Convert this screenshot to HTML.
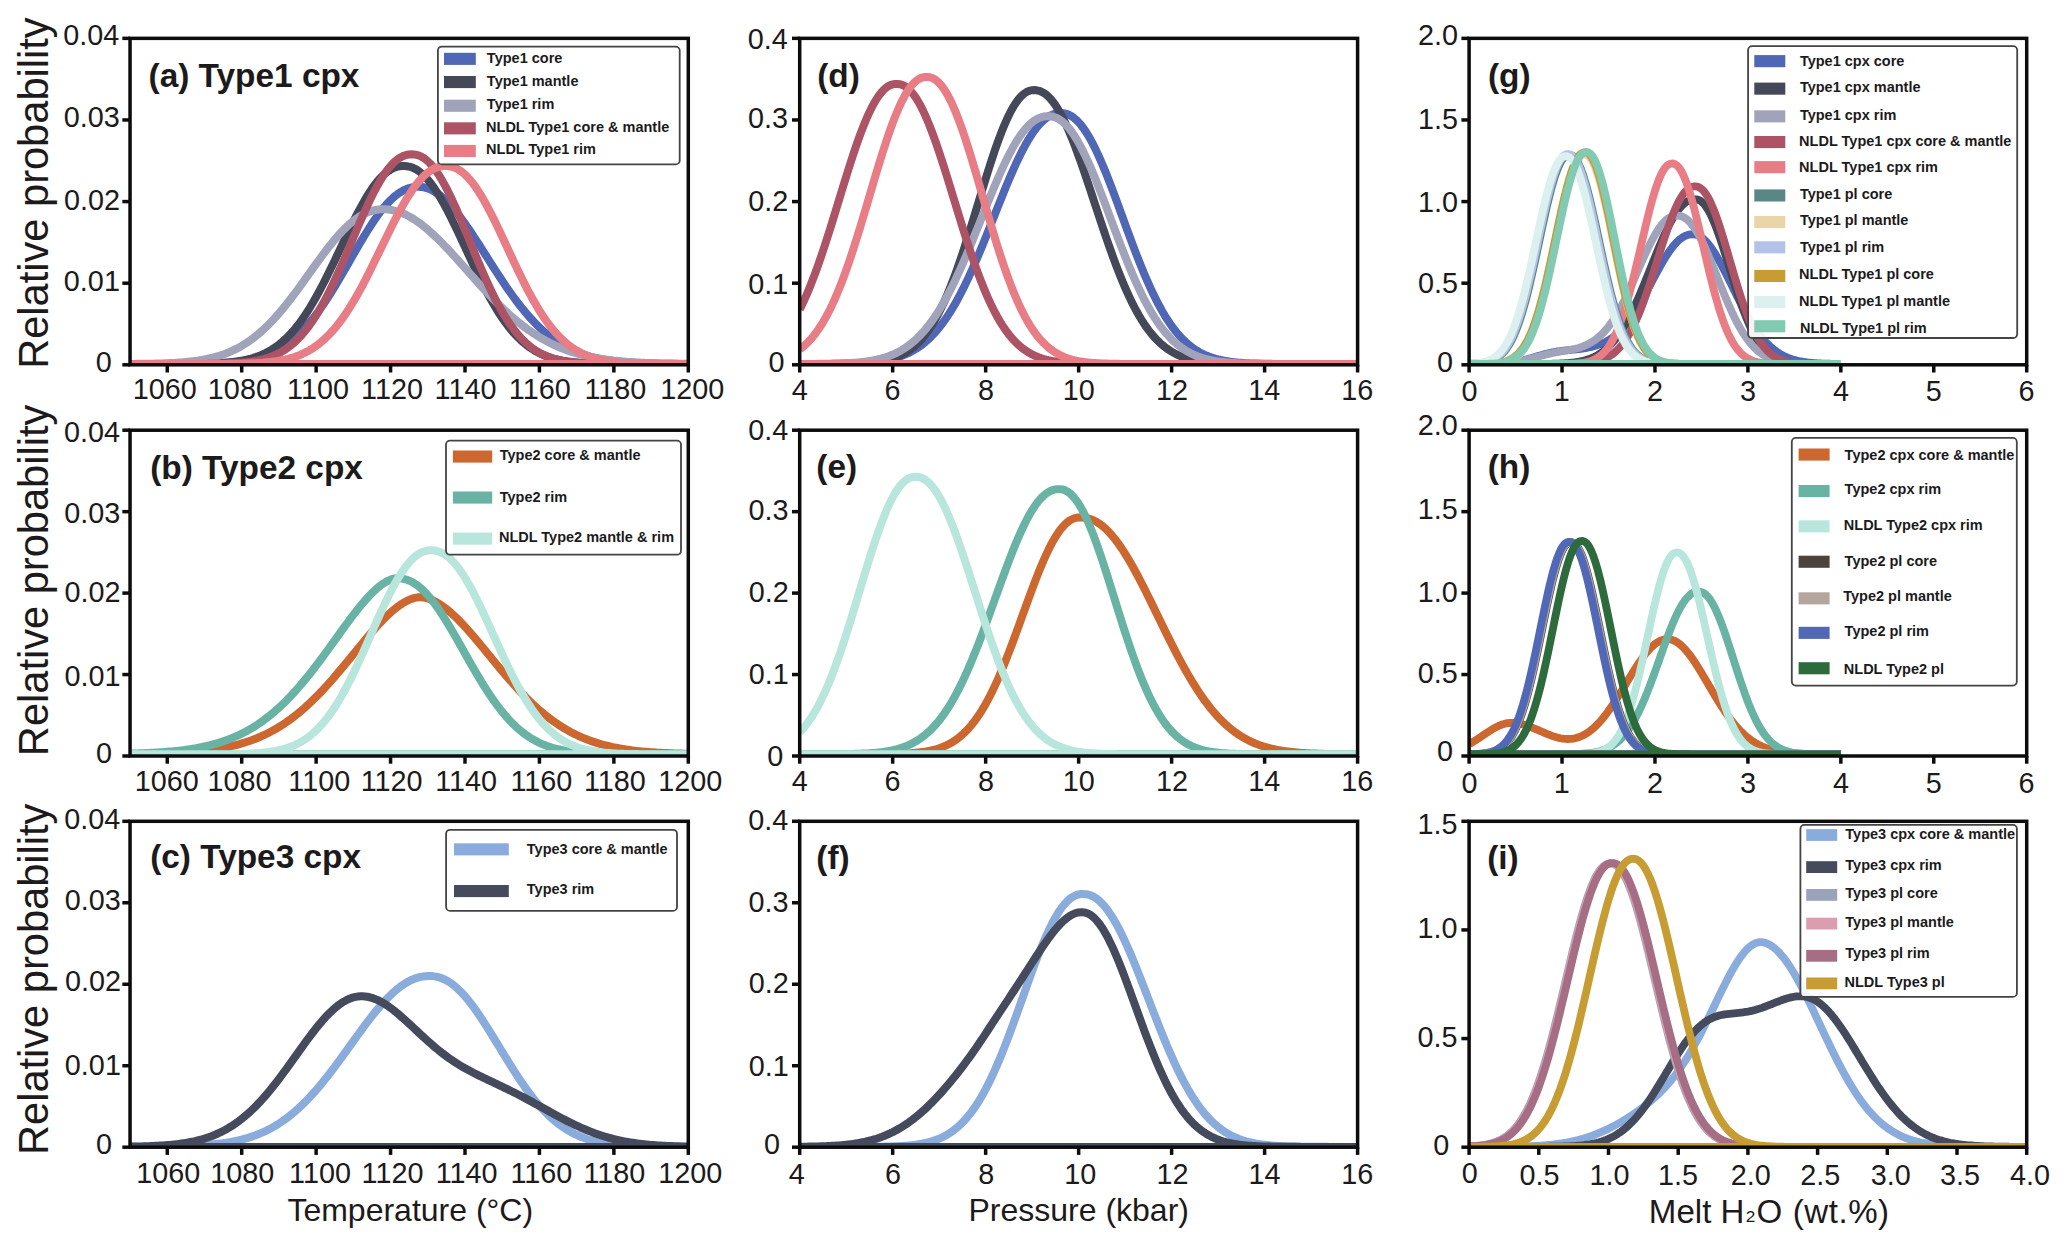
<!DOCTYPE html>
<html lang="en"><head><meta charset="utf-8"><title>Relative probability of temperature, pressure and melt H2O</title>
<style>html,body{margin:0;padding:0;background:#fff}body{width:2067px;height:1248px;overflow:hidden}svg{display:block}</style>
</head><body>
<svg width="2067" height="1248" viewBox="0 0 2067 1248">
<rect width="100%" height="100%" fill="#fff"/>
<defs>
<clipPath id="cpa"><rect x="128.45" y="38.35" width="559.85" height="326.45"/></clipPath>
<clipPath id="cpd"><rect x="798.10" y="38.35" width="559.50" height="326.45"/></clipPath>
<clipPath id="cpg"><rect x="1467.50" y="38.35" width="559.20" height="326.45"/></clipPath>
<clipPath id="cpb"><rect x="128.45" y="430.20" width="559.85" height="325.80"/></clipPath>
<clipPath id="cpe"><rect x="798.10" y="430.20" width="559.50" height="325.80"/></clipPath>
<clipPath id="cph"><rect x="1467.50" y="430.20" width="559.20" height="325.80"/></clipPath>
<clipPath id="cpc"><rect x="128.45" y="821.30" width="559.85" height="325.90"/></clipPath>
<clipPath id="cpf"><rect x="798.10" y="821.30" width="559.50" height="325.90"/></clipPath>
<clipPath id="cpi"><rect x="1467.50" y="821.30" width="559.20" height="325.90"/></clipPath>
</defs>
<g id="panel-a">
<g clip-path="url(#cpa)" fill="none" stroke-linejoin="round" stroke-linecap="butt">
<path d="M130.05,364 L688.3,364 M130.05,364 L132.38,364 L134.7,364 L137.03,364 L139.35,364 L141.68,364 L144.01,364 L146.33,363.99 L148.66,363.99 L150.98,363.99 L153.31,363.99 L155.64,363.99 L157.96,363.99 L160.29,363.98 L162.61,363.98 L164.94,363.98 L167.27,363.97 L169.59,363.97 L171.92,363.96 L174.24,363.95 L176.57,363.95 L178.9,363.94 L181.22,363.92 L183.55,363.91 L185.88,363.9 L188.2,363.88 L190.53,363.86 L192.85,363.83 L195.18,363.81 L197.51,363.77 L199.83,363.74 L202.16,363.7 L204.48,363.65 L206.81,363.59 L209.14,363.53 L211.46,363.46 L213.79,363.38 L216.11,363.29 L218.44,363.18 L220.77,363.07 L223.09,362.94 L225.42,362.79 L227.74,362.62 L230.07,362.44 L232.4,362.23 L234.72,362 L237.05,361.74 L239.37,361.45 L241.7,361.14 L244.03,360.79 L246.35,360.4 L248.68,359.97 L251,359.5 L253.33,358.98 L255.66,358.41 L257.98,357.79 L260.31,357.11 L262.63,356.38 L264.96,355.57 L267.29,354.7 L269.61,353.76 L271.94,352.74 L274.26,351.64 L276.59,350.46 L278.92,349.18 L281.24,347.82 L283.57,346.36 L285.89,344.8 L288.22,343.14 L290.55,341.37 L292.87,339.5 L295.2,337.51 L297.52,335.41 L299.85,333.2 L302.18,330.87 L304.5,328.42 L306.83,325.86 L309.16,323.17 L311.48,320.37 L313.81,317.46 L316.13,314.43 L318.46,311.29 L320.79,308.04 L323.11,304.69 L325.44,301.23 L327.76,297.69 L330.09,294.05 L332.42,290.33 L334.74,286.54 L337.07,282.68 L339.39,278.76 L341.72,274.79 L344.05,270.78 L346.37,266.75 L348.7,262.69 L351.02,258.63 L353.35,254.58 L355.68,250.54 L358,246.53 L360.33,242.55 L362.65,238.64 L364.98,234.79 L367.31,231.01 L369.63,227.33 L371.96,223.75 L374.28,220.28 L376.61,216.94 L378.94,213.74 L381.26,210.68 L383.59,207.77 L385.91,205.04 L388.24,202.47 L390.57,200.09 L392.89,197.9 L395.22,195.89 L397.54,194.09 L399.87,192.49 L402.2,191.08 L404.52,189.89 L406.85,188.89 L409.18,188.1 L411.5,187.5 L413.83,187.09 L416.15,186.87 L418.48,186.8 L420.81,186.9 L423.13,187.21 L425.46,187.73 L427.78,188.45 L430.11,189.36 L432.44,190.48 L434.76,191.79 L437.09,193.29 L439.41,194.98 L441.74,196.84 L444.07,198.87 L446.39,201.07 L448.72,203.43 L451.04,205.94 L453.37,208.59 L455.7,211.38 L458.02,214.29 L460.35,217.31 L462.67,220.44 L465,223.67 L467.33,226.99 L469.65,230.38 L471.98,233.84 L474.3,237.36 L476.63,240.93 L478.96,244.53 L481.28,248.17 L483.61,251.83 L485.93,255.49 L488.26,259.17 L490.59,262.83 L492.91,266.48 L495.24,270.11 L497.56,273.7 L499.89,277.27 L502.22,280.78 L504.54,284.25 L506.87,287.67 L509.19,291.02 L511.52,294.3 L513.85,297.52 L516.17,300.66 L518.5,303.73 L520.83,306.71 L523.15,309.61 L525.48,312.42 L527.8,315.14 L530.13,317.77 L532.46,320.32 L534.78,322.77 L537.11,325.13 L539.43,327.39 L541.76,329.57 L544.09,331.65 L546.41,333.64 L548.74,335.55 L551.06,337.36 L553.39,339.09 L555.72,340.73 L558.04,342.29 L560.37,343.77 L562.69,345.17 L565.02,346.49 L567.35,347.74 L569.67,348.92 L572,350.03 L574.32,351.07 L576.65,352.05 L578.98,352.97 L581.3,353.83 L583.63,354.63 L585.95,355.38 L588.28,356.08 L590.61,356.73 L592.93,357.34 L595.26,357.9 L597.58,358.42 L599.91,358.9 L602.24,359.35 L604.56,359.76 L606.89,360.14 L609.21,360.49 L611.54,360.81 L613.87,361.11 L616.19,361.38 L618.52,361.63 L620.84,361.86 L623.17,362.06 L625.5,362.25 L627.82,362.43 L630.15,362.58 L632.48,362.73 L634.8,362.86 L637.13,362.98 L639.45,363.08 L641.78,363.18 L644.11,363.27 L646.43,363.35 L648.76,363.42 L651.08,363.48 L653.41,363.54 L655.74,363.59 L658.06,363.64 L660.39,363.68 L662.71,363.71 L665.04,363.75 L667.37,363.78 L669.69,363.8 L672.02,363.83 L674.34,363.85 L676.67,363.87 L679,363.88 L681.32,363.9 L683.65,363.91 L685.97,363.92 L688.3,363.93" stroke="#5067B5" stroke-width="8.0"/>
<path d="M130.05,364 L688.3,364 M130.05,364 L132.38,364 L134.7,364 L137.03,364 L139.35,364 L141.68,364 L144.01,364 L146.33,364 L148.66,364 L150.98,364 L153.31,363.99 L155.64,363.99 L157.96,363.99 L160.29,363.99 L162.61,363.99 L164.94,363.98 L167.27,363.98 L169.59,363.98 L171.92,363.97 L174.24,363.96 L176.57,363.96 L178.9,363.95 L181.22,363.94 L183.55,363.92 L185.88,363.91 L188.2,363.89 L190.53,363.87 L192.85,363.85 L195.18,363.82 L197.51,363.79 L199.83,363.75 L202.16,363.71 L204.48,363.66 L206.81,363.6 L209.14,363.53 L211.46,363.45 L213.79,363.36 L216.11,363.25 L218.44,363.14 L220.77,363 L223.09,362.85 L225.42,362.67 L227.74,362.47 L230.07,362.25 L232.4,361.99 L234.72,361.71 L237.05,361.39 L239.37,361.03 L241.7,360.63 L244.03,360.18 L246.35,359.68 L248.68,359.12 L251,358.51 L253.33,357.83 L255.66,357.08 L257.98,356.26 L260.31,355.36 L262.63,354.37 L264.96,353.29 L267.29,352.12 L269.61,350.84 L271.94,349.45 L274.26,347.95 L276.59,346.33 L278.92,344.58 L281.24,342.71 L283.57,340.7 L285.89,338.55 L288.22,336.26 L290.55,333.83 L292.87,331.24 L295.2,328.5 L297.52,325.61 L299.85,322.56 L302.18,319.36 L304.5,316.01 L306.83,312.5 L309.16,308.84 L311.48,305.03 L313.81,301.08 L316.13,297 L318.46,292.78 L320.79,288.45 L323.11,283.99 L325.44,279.44 L327.76,274.79 L330.09,270.06 L332.42,265.26 L334.74,260.41 L337.07,255.52 L339.39,250.6 L341.72,245.68 L344.05,240.76 L346.37,235.87 L348.7,231.02 L351.02,226.23 L353.35,221.52 L355.68,216.9 L358,212.4 L360.33,208.03 L362.65,203.8 L364.98,199.74 L367.31,195.86 L369.63,192.17 L371.96,188.69 L374.28,185.43 L376.61,182.4 L378.94,179.61 L381.26,177.07 L383.59,174.79 L385.91,172.78 L388.24,171.03 L390.57,169.54 L392.89,168.33 L395.22,167.38 L397.54,166.69 L399.87,166.24 L402.2,166.03 L404.52,166.01 L406.85,166.19 L409.18,166.6 L411.5,167.27 L413.83,168.2 L416.15,169.41 L418.48,170.9 L420.81,172.66 L423.13,174.7 L425.46,177.01 L427.78,179.59 L430.11,182.43 L432.44,185.53 L434.76,188.86 L437.09,192.42 L439.41,196.19 L441.74,200.16 L444.07,204.32 L446.39,208.64 L448.72,213.12 L451.04,217.73 L453.37,222.45 L455.7,227.27 L458.02,232.16 L460.35,237.11 L462.67,242.1 L465,247.12 L467.33,252.13 L469.65,257.13 L471.98,262.11 L474.3,267.03 L476.63,271.89 L478.96,276.68 L481.28,281.38 L483.61,285.97 L485.93,290.45 L488.26,294.82 L490.59,299.05 L492.91,303.14 L495.24,307.08 L497.56,310.88 L499.89,314.52 L502.22,318 L504.54,321.33 L506.87,324.49 L509.19,327.5 L511.52,330.34 L513.85,333.02 L516.17,335.55 L518.5,337.93 L520.83,340.16 L523.15,342.24 L525.48,344.18 L527.8,345.98 L530.13,347.66 L532.46,349.21 L534.78,350.64 L537.11,351.95 L539.43,353.17 L541.76,354.27 L544.09,355.29 L546.41,356.21 L548.74,357.06 L551.06,357.82 L553.39,358.51 L555.72,359.13 L558.04,359.7 L560.37,360.2 L562.69,360.66 L565.02,361.06 L567.35,361.42 L569.67,361.75 L572,362.03 L574.32,362.29 L576.65,362.51 L578.98,362.71 L581.3,362.88 L583.63,363.04 L585.95,363.17 L588.28,363.29 L590.61,363.39 L592.93,363.48 L595.26,363.55 L597.58,363.62 L599.91,363.68 L602.24,363.72 L604.56,363.77 L606.89,363.8 L609.21,363.83 L611.54,363.86 L613.87,363.88 L616.19,363.9 L618.52,363.92 L620.84,363.93 L623.17,363.94 L625.5,363.95 L627.82,363.96 L630.15,363.97 L632.48,363.97 L634.8,363.98 L637.13,363.98 L639.45,363.99 L641.78,363.99 L644.11,363.99 L646.43,363.99 L648.76,363.99 L651.08,363.99 L653.41,364 L655.74,364 L658.06,364 L660.39,364 L662.71,364 L665.04,364 L667.37,364 L669.69,364 L672.02,364 L674.34,364 L676.67,364 L679,364 L681.32,364 L683.65,364 L685.97,364 L688.3,364" stroke="#454858" stroke-width="8.0"/>
<path d="M130.05,364 L688.3,364 M130.05,363.91 L132.38,363.89 L134.7,363.88 L137.03,363.86 L139.35,363.84 L141.68,363.81 L144.01,363.79 L146.33,363.75 L148.66,363.72 L150.98,363.68 L153.31,363.63 L155.64,363.58 L157.96,363.52 L160.29,363.46 L162.61,363.39 L164.94,363.31 L167.27,363.22 L169.59,363.12 L171.92,363.01 L174.24,362.88 L176.57,362.74 L178.9,362.59 L181.22,362.42 L183.55,362.23 L185.88,362.03 L188.2,361.8 L190.53,361.55 L192.85,361.27 L195.18,360.97 L197.51,360.64 L199.83,360.28 L202.16,359.89 L204.48,359.46 L206.81,359 L209.14,358.49 L211.46,357.95 L213.79,357.36 L216.11,356.72 L218.44,356.03 L220.77,355.3 L223.09,354.5 L225.42,353.65 L227.74,352.74 L230.07,351.76 L232.4,350.72 L234.72,349.61 L237.05,348.43 L239.37,347.18 L241.7,345.86 L244.03,344.45 L246.35,342.97 L248.68,341.41 L251,339.76 L253.33,338.03 L255.66,336.21 L257.98,334.31 L260.31,332.33 L262.63,330.25 L264.96,328.09 L267.29,325.85 L269.61,323.52 L271.94,321.11 L274.26,318.61 L276.59,316.03 L278.92,313.38 L281.24,310.65 L283.57,307.85 L285.89,304.98 L288.22,302.05 L290.55,299.06 L292.87,296.02 L295.2,292.92 L297.52,289.79 L299.85,286.61 L302.18,283.41 L304.5,280.18 L306.83,276.94 L309.16,273.68 L311.48,270.43 L313.81,267.18 L316.13,263.95 L318.46,260.74 L320.79,257.56 L323.11,254.43 L325.44,251.34 L327.76,248.3 L330.09,245.33 L332.42,242.44 L334.74,239.63 L337.07,236.9 L339.39,234.27 L341.72,231.75 L344.05,229.33 L346.37,227.04 L348.7,224.86 L351.02,222.82 L353.35,220.91 L355.68,219.13 L358,217.5 L360.33,216.02 L362.65,214.68 L364.98,213.49 L367.31,212.46 L369.63,211.57 L371.96,210.84 L374.28,210.25 L376.61,209.81 L378.94,209.51 L381.26,209.35 L383.59,209.3 L385.91,209.37 L388.24,209.55 L390.57,209.86 L392.89,210.28 L395.22,210.82 L397.54,211.48 L399.87,212.26 L402.2,213.14 L404.52,214.14 L406.85,215.25 L409.18,216.47 L411.5,217.79 L413.83,219.21 L416.15,220.73 L418.48,222.34 L420.81,224.04 L423.13,225.83 L425.46,227.71 L427.78,229.66 L430.11,231.69 L432.44,233.79 L434.76,235.95 L437.09,238.18 L439.41,240.46 L441.74,242.8 L444.07,245.19 L446.39,247.62 L448.72,250.09 L451.04,252.59 L453.37,255.12 L455.7,257.68 L458.02,260.26 L460.35,262.85 L462.67,265.46 L465,268.08 L467.33,270.69 L469.65,273.31 L471.98,275.92 L474.3,278.53 L476.63,281.12 L478.96,283.69 L481.28,286.25 L483.61,288.78 L485.93,291.29 L488.26,293.77 L490.59,296.21 L492.91,298.62 L495.24,301 L497.56,303.34 L499.89,305.63 L502.22,307.88 L504.54,310.09 L506.87,312.25 L509.19,314.36 L511.52,316.43 L513.85,318.44 L516.17,320.4 L518.5,322.31 L520.83,324.17 L523.15,325.97 L525.48,327.72 L527.8,329.42 L530.13,331.06 L532.46,332.65 L534.78,334.19 L537.11,335.67 L539.43,337.1 L541.76,338.48 L544.09,339.81 L546.41,341.08 L548.74,342.31 L551.06,343.48 L553.39,344.61 L555.72,345.69 L558.04,346.72 L560.37,347.71 L562.69,348.65 L565.02,349.55 L567.35,350.41 L569.67,351.22 L572,352 L574.32,352.74 L576.65,353.44 L578.98,354.1 L581.3,354.73 L583.63,355.33 L585.95,355.89 L588.28,356.43 L590.61,356.93 L592.93,357.41 L595.26,357.86 L597.58,358.28 L599.91,358.68 L602.24,359.05 L604.56,359.4 L606.89,359.73 L609.21,360.04 L611.54,360.33 L613.87,360.6 L616.19,360.85 L618.52,361.09 L620.84,361.31 L623.17,361.52 L625.5,361.71 L627.82,361.89 L630.15,362.06 L632.48,362.21 L634.8,362.35 L637.13,362.49 L639.45,362.61 L641.78,362.73 L644.11,362.83 L646.43,362.93 L648.76,363.02 L651.08,363.1 L653.41,363.18 L655.74,363.25 L658.06,363.32 L660.39,363.38 L662.71,363.43 L665.04,363.48 L667.37,363.53 L669.69,363.57 L672.02,363.61 L674.34,363.65 L676.67,363.68 L679,363.71 L681.32,363.74 L683.65,363.76 L685.97,363.79 L688.3,363.81" stroke="#A0A3B9" stroke-width="8.0"/>
<path d="M130.05,364 L688.3,364 M130.05,364 L132.38,364 L134.7,364 L137.03,364 L139.35,364 L141.68,364 L144.01,364 L146.33,364 L148.66,364 L150.98,364 L153.31,364 L155.64,364 L157.96,364 L160.29,364 L162.61,364 L164.94,364 L167.27,364 L169.59,364 L171.92,363.99 L174.24,363.99 L176.57,363.99 L178.9,363.99 L181.22,363.99 L183.55,363.98 L185.88,363.98 L188.2,363.98 L190.53,363.97 L192.85,363.96 L195.18,363.96 L197.51,363.95 L199.83,363.94 L202.16,363.92 L204.48,363.91 L206.81,363.89 L209.14,363.86 L211.46,363.84 L213.79,363.81 L216.11,363.77 L218.44,363.73 L220.77,363.68 L223.09,363.62 L225.42,363.55 L227.74,363.47 L230.07,363.37 L232.4,363.26 L234.72,363.14 L237.05,363 L239.37,362.83 L241.7,362.64 L244.03,362.43 L246.35,362.19 L248.68,361.91 L251,361.59 L253.33,361.24 L255.66,360.84 L257.98,360.39 L260.31,359.88 L262.63,359.31 L264.96,358.68 L267.29,357.98 L269.61,357.2 L271.94,356.34 L274.26,355.39 L276.59,354.34 L278.92,353.19 L281.24,351.92 L283.57,350.54 L285.89,349.04 L288.22,347.4 L290.55,345.63 L292.87,343.71 L295.2,341.64 L297.52,339.41 L299.85,337.02 L302.18,334.47 L304.5,331.74 L306.83,328.83 L309.16,325.75 L311.48,322.49 L313.81,319.05 L316.13,315.42 L318.46,311.62 L320.79,307.64 L323.11,303.48 L325.44,299.16 L327.76,294.67 L330.09,290.02 L332.42,285.23 L334.74,280.31 L337.07,275.26 L339.39,270.1 L341.72,264.84 L344.05,259.5 L346.37,254.1 L348.7,248.65 L351.02,243.17 L353.35,237.69 L355.68,232.22 L358,226.78 L360.33,221.4 L362.65,216.1 L364.98,210.89 L367.31,205.81 L369.63,200.87 L371.96,196.1 L374.28,191.51 L376.61,187.12 L378.94,182.95 L381.26,179.02 L383.59,175.35 L385.91,171.95 L388.24,168.83 L390.57,166 L392.89,163.47 L395.22,161.25 L397.54,159.34 L399.87,157.75 L402.2,156.47 L404.52,155.5 L406.85,154.82 L409.18,154.43 L411.5,154.3 L413.83,154.38 L416.15,154.73 L418.48,155.38 L420.81,156.35 L423.13,157.64 L425.46,159.26 L427.78,161.23 L430.11,163.52 L432.44,166.14 L434.76,169.09 L437.09,172.34 L439.41,175.9 L441.74,179.74 L444.07,183.85 L446.39,188.21 L448.72,192.8 L451.04,197.6 L453.37,202.59 L455.7,207.75 L458.02,213.06 L460.35,218.48 L462.67,224 L465,229.59 L467.33,235.23 L469.65,240.89 L471.98,246.55 L474.3,252.19 L476.63,257.79 L478.96,263.33 L481.28,268.79 L483.61,274.14 L485.93,279.38 L488.26,284.5 L490.59,289.46 L492.91,294.28 L495.24,298.93 L497.56,303.4 L499.89,307.7 L502.22,311.8 L504.54,315.72 L506.87,319.45 L509.19,322.98 L511.52,326.32 L513.85,329.47 L516.17,332.43 L518.5,335.2 L520.83,337.79 L523.15,340.2 L525.48,342.44 L527.8,344.52 L530.13,346.43 L532.46,348.2 L534.78,349.82 L537.11,351.31 L539.43,352.66 L541.76,353.9 L544.09,355.02 L546.41,356.04 L548.74,356.96 L551.06,357.79 L553.39,358.53 L555.72,359.2 L558.04,359.8 L560.37,360.33 L562.69,360.8 L565.02,361.22 L567.35,361.58 L569.67,361.91 L572,362.2 L574.32,362.45 L576.65,362.67 L578.98,362.86 L581.3,363.02 L583.63,363.17 L585.95,363.29 L588.28,363.4 L590.61,363.49 L592.93,363.57 L595.26,363.64 L597.58,363.7 L599.91,363.75 L602.24,363.79 L604.56,363.82 L606.89,363.85 L609.21,363.88 L611.54,363.9 L613.87,363.92 L616.19,363.93 L618.52,363.94 L620.84,363.95 L623.17,363.96 L625.5,363.97 L627.82,363.98 L630.15,363.98 L632.48,363.98 L634.8,363.99 L637.13,363.99 L639.45,363.99 L641.78,363.99 L644.11,363.99 L646.43,364 L648.76,364 L651.08,364 L653.41,364 L655.74,364 L658.06,364 L660.39,364 L662.71,364 L665.04,364 L667.37,364 L669.69,364 L672.02,364 L674.34,364 L676.67,364 L679,364 L681.32,364 L683.65,364 L685.97,364 L688.3,364" stroke="#AC5366" stroke-width="8.0"/>
<path d="M130.05,364 L688.3,364 M130.05,364 L132.38,364 L134.7,364 L137.03,364 L139.35,364 L141.68,364 L144.01,364 L146.33,364 L148.66,364 L150.98,364 L153.31,364 L155.64,364 L157.96,364 L160.29,364 L162.61,364 L164.94,364 L167.27,364 L169.59,364 L171.92,364 L174.24,364 L176.57,364 L178.9,364 L181.22,364 L183.55,364 L185.88,364 L188.2,363.99 L190.53,363.99 L192.85,363.99 L195.18,363.99 L197.51,363.99 L199.83,363.99 L202.16,363.98 L204.48,363.98 L206.81,363.97 L209.14,363.97 L211.46,363.96 L213.79,363.95 L216.11,363.95 L218.44,363.93 L220.77,363.92 L223.09,363.91 L225.42,363.89 L227.74,363.87 L230.07,363.85 L232.4,363.82 L234.72,363.79 L237.05,363.75 L239.37,363.71 L241.7,363.65 L244.03,363.6 L246.35,363.53 L248.68,363.45 L251,363.37 L253.33,363.27 L255.66,363.15 L257.98,363.02 L260.31,362.88 L262.63,362.71 L264.96,362.52 L267.29,362.31 L269.61,362.07 L271.94,361.8 L274.26,361.5 L276.59,361.16 L278.92,360.78 L281.24,360.36 L283.57,359.89 L285.89,359.38 L288.22,358.81 L290.55,358.17 L292.87,357.48 L295.2,356.72 L297.52,355.88 L299.85,354.96 L302.18,353.96 L304.5,352.87 L306.83,351.69 L309.16,350.41 L311.48,349.02 L313.81,347.52 L316.13,345.91 L318.46,344.18 L320.79,342.32 L323.11,340.34 L325.44,338.22 L327.76,335.96 L330.09,333.57 L332.42,331.03 L334.74,328.35 L337.07,325.52 L339.39,322.54 L341.72,319.42 L344.05,316.14 L346.37,312.73 L348.7,309.16 L351.02,305.46 L353.35,301.63 L355.68,297.66 L358,293.56 L360.33,289.35 L362.65,285.03 L364.98,280.61 L367.31,276.09 L369.63,271.5 L371.96,266.83 L374.28,262.11 L376.61,257.35 L378.94,252.56 L381.26,247.75 L383.59,242.95 L385.91,238.16 L388.24,233.4 L390.57,228.69 L392.89,224.05 L395.22,219.49 L397.54,215.03 L399.87,210.68 L402.2,206.47 L404.52,202.4 L406.85,198.49 L409.18,194.76 L411.5,191.21 L413.83,187.87 L416.15,184.74 L418.48,181.83 L420.81,179.15 L423.13,176.71 L425.46,174.52 L427.78,172.59 L430.11,170.9 L432.44,169.47 L434.76,168.3 L437.09,167.37 L439.41,166.7 L441.74,166.25 L444.07,166.04 L446.39,166.01 L448.72,166.17 L451.04,166.56 L453.37,167.21 L455.7,168.12 L458.02,169.3 L460.35,170.77 L462.67,172.51 L465,174.53 L467.33,176.82 L469.65,179.38 L471.98,182.2 L474.3,185.27 L476.63,188.58 L478.96,192.12 L481.28,195.88 L483.61,199.84 L485.93,203.98 L488.26,208.29 L490.59,212.76 L492.91,217.35 L495.24,222.07 L497.56,226.88 L499.89,231.77 L502.22,236.71 L504.54,241.7 L506.87,246.72 L509.19,251.73 L511.52,256.74 L513.85,261.71 L516.17,266.64 L518.5,271.51 L520.83,276.3 L523.15,281 L525.48,285.61 L527.8,290.1 L530.13,294.47 L532.46,298.71 L534.78,302.81 L537.11,306.77 L539.43,310.58 L541.76,314.24 L544.09,317.73 L546.41,321.07 L548.74,324.25 L551.06,327.26 L553.39,330.12 L555.72,332.82 L558.04,335.36 L560.37,337.74 L562.69,339.98 L565.02,342.08 L567.35,344.03 L569.67,345.84 L572,347.53 L574.32,349.09 L576.65,350.53 L578.98,351.85 L581.3,353.07 L583.63,354.19 L585.95,355.21 L588.28,356.14 L590.61,356.99 L592.93,357.76 L595.26,358.46 L597.58,359.09 L599.91,359.65 L602.24,360.16 L604.56,360.62 L606.89,361.03 L609.21,361.4 L611.54,361.72 L613.87,362.01 L616.19,362.27 L618.52,362.49 L620.84,362.69 L623.17,362.87 L625.5,363.02 L627.82,363.16 L630.15,363.28 L632.48,363.38 L634.8,363.47 L637.13,363.55 L639.45,363.61 L641.78,363.67 L644.11,363.72 L646.43,363.76 L648.76,363.8 L651.08,363.83 L653.41,363.86 L655.74,363.88 L658.06,363.9 L660.39,363.92 L662.71,363.93 L665.04,363.94 L667.37,363.95 L669.69,363.96 L672.02,363.97 L674.34,363.97 L676.67,363.98 L679,363.98 L681.32,363.99 L683.65,363.99 L685.97,363.99 L688.3,363.99" stroke="#E87D86" stroke-width="8.0"/>
</g>
<g stroke="#0c0c0c" stroke-width="3.5" fill="none" stroke-linecap="butt">
<rect x="130.05" y="38.35" width="558.25" height="326.45"/>
<line x1="167.27" y1="364.80" x2="167.27" y2="372.50"/>
<line x1="241.70" y1="364.80" x2="241.70" y2="372.50"/>
<line x1="316.13" y1="364.80" x2="316.13" y2="372.50"/>
<line x1="390.57" y1="364.80" x2="390.57" y2="372.50"/>
<line x1="465.00" y1="364.80" x2="465.00" y2="372.50"/>
<line x1="539.43" y1="364.80" x2="539.43" y2="372.50"/>
<line x1="613.87" y1="364.80" x2="613.87" y2="372.50"/>
<line x1="688.30" y1="364.80" x2="688.30" y2="372.50"/>
<line x1="122.35" y1="38.35" x2="130.05" y2="38.35"/>
<line x1="122.35" y1="119.96" x2="130.05" y2="119.96"/>
<line x1="122.35" y1="201.58" x2="130.05" y2="201.58"/>
<line x1="122.35" y1="283.19" x2="130.05" y2="283.19"/>
<line x1="122.35" y1="364.80" x2="130.05" y2="364.80"/>
</g>
<g font-family="'Liberation Sans', Arial, sans-serif" font-size="28.8" fill="#1c1a1b">
<text x="132.76" y="399.40">1060</text>
<text x="207.86" y="399.40">1080</text>
<text x="287.05" y="399.40">1100</text>
<text x="361.00" y="399.40">1120</text>
<text x="434.55" y="399.40">1140</text>
<text x="508.85" y="399.40">1160</text>
<text x="584.40" y="399.40">1180</text>
<text x="660.26" y="399.40">1200</text>
<text x="63.28" y="45.30">0.04</text>
<text x="63.71" y="127.10">0.03</text>
<text x="63.92" y="210.40">0.02</text>
<text x="63.85" y="291.30">0.01</text>
<text x="95.70" y="371.90">0</text>
</g>
<text x="148.53" y="86.60" font-family="'Liberation Sans', Arial, sans-serif" font-weight="bold" font-size="33.4" fill="#1c1a1b">(a) Type1 cpx</text>
</g>
<g id="panel-d">
<g clip-path="url(#cpd)" fill="none" stroke-linejoin="round" stroke-linecap="butt">
<path d="M799.7,364 L1357.6,364 M799.7,363.99 L802.02,363.99 L804.35,363.98 L806.67,363.98 L809,363.98 L811.32,363.97 L813.65,363.96 L815.97,363.96 L818.3,363.95 L820.62,363.94 L822.95,363.93 L825.27,363.91 L827.6,363.9 L829.92,363.88 L832.24,363.86 L834.57,363.83 L836.89,363.81 L839.22,363.77 L841.54,363.73 L843.87,363.69 L846.19,363.64 L848.52,363.58 L850.84,363.51 L853.17,363.43 L855.49,363.34 L857.81,363.24 L860.14,363.13 L862.46,363 L864.79,362.85 L867.11,362.68 L869.44,362.49 L871.76,362.27 L874.09,362.03 L876.41,361.76 L878.74,361.46 L881.06,361.12 L883.38,360.74 L885.71,360.32 L888.03,359.86 L890.36,359.34 L892.68,358.76 L895.01,358.13 L897.33,357.43 L899.66,356.67 L901.98,355.82 L904.31,354.9 L906.63,353.9 L908.96,352.8 L911.28,351.6 L913.6,350.3 L915.93,348.89 L918.25,347.37 L920.58,345.73 L922.9,343.96 L925.23,342.05 L927.55,340.01 L929.88,337.83 L932.2,335.49 L934.53,333.01 L936.85,330.36 L939.17,327.55 L941.5,324.58 L943.82,321.44 L946.15,318.13 L948.47,314.65 L950.8,310.99 L953.12,307.16 L955.45,303.15 L957.77,298.98 L960.1,294.64 L962.42,290.13 L964.75,285.46 L967.07,280.64 L969.39,275.67 L971.72,270.55 L974.04,265.31 L976.37,259.95 L978.69,254.47 L981.02,248.9 L983.34,243.24 L985.67,237.51 L987.99,231.72 L990.32,225.89 L992.64,220.03 L994.96,214.17 L997.29,208.31 L999.61,202.48 L1001.94,196.69 L1004.26,190.97 L1006.59,185.33 L1008.91,179.79 L1011.24,174.37 L1013.56,169.09 L1015.89,163.96 L1018.21,159.01 L1020.54,154.24 L1022.86,149.69 L1025.18,145.35 L1027.51,141.25 L1029.83,137.39 L1032.16,133.8 L1034.48,130.48 L1036.81,127.44 L1039.13,124.68 L1041.46,122.22 L1043.78,120.06 L1046.11,118.19 L1048.43,116.63 L1050.76,115.36 L1053.08,114.39 L1055.4,113.7 L1057.73,113.28 L1060.05,113.11 L1062.38,113.15 L1064.7,113.46 L1067.03,114.07 L1069.35,115.01 L1071.68,116.3 L1074,117.93 L1076.33,119.92 L1078.65,122.26 L1080.97,124.95 L1083.3,127.99 L1085.62,131.36 L1087.95,135.06 L1090.27,139.08 L1092.6,143.39 L1094.92,147.99 L1097.25,152.86 L1099.57,157.98 L1101.9,163.32 L1104.22,168.87 L1106.55,174.6 L1108.87,180.5 L1111.19,186.53 L1113.52,192.68 L1115.84,198.92 L1118.17,205.22 L1120.49,211.57 L1122.82,217.93 L1125.14,224.3 L1127.47,230.63 L1129.79,236.92 L1132.12,243.15 L1134.44,249.29 L1136.76,255.33 L1139.09,261.25 L1141.41,267.04 L1143.74,272.68 L1146.06,278.16 L1148.39,283.47 L1150.71,288.6 L1153.04,293.54 L1155.36,298.29 L1157.69,302.85 L1160.01,307.2 L1162.34,311.35 L1164.66,315.29 L1166.98,319.03 L1169.31,322.57 L1171.63,325.91 L1173.96,329.05 L1176.28,331.99 L1178.61,334.75 L1180.93,337.33 L1183.26,339.73 L1185.58,341.96 L1187.91,344.02 L1190.23,345.94 L1192.55,347.7 L1194.88,349.32 L1197.2,350.81 L1199.53,352.17 L1201.85,353.41 L1204.18,354.55 L1206.5,355.58 L1208.83,356.51 L1211.15,357.35 L1213.48,358.12 L1215.8,358.8 L1218.12,359.42 L1220.45,359.97 L1222.77,360.46 L1225.1,360.9 L1227.42,361.29 L1229.75,361.64 L1232.07,361.95 L1234.4,362.22 L1236.72,362.45 L1239.05,362.66 L1241.37,362.85 L1243.7,363.01 L1246.02,363.15 L1248.34,363.27 L1250.67,363.38 L1252.99,363.47 L1255.32,363.55 L1257.64,363.62 L1259.97,363.67 L1262.29,363.72 L1264.62,363.77 L1266.94,363.8 L1269.27,363.84 L1271.59,363.86 L1273.91,363.88 L1276.24,363.9 L1278.56,363.92 L1280.89,363.93 L1283.21,363.95 L1285.54,363.95 L1287.86,363.96 L1290.19,363.97 L1292.51,363.97 L1294.84,363.98 L1297.16,363.98 L1299.49,363.99 L1301.81,363.99 L1304.13,363.99 L1306.46,363.99 L1308.78,363.99 L1311.11,364 L1313.43,364 L1315.76,364 L1318.08,364 L1320.41,364 L1322.73,364 L1325.06,364 L1327.38,364 L1329.7,364 L1332.03,364 L1334.35,364 L1336.68,364 L1339,364 L1341.33,364 L1343.65,364 L1345.98,364 L1348.3,364 L1350.63,364 L1352.95,364 L1355.28,364 L1357.6,364" stroke="#5067B5" stroke-width="8.0"/>
<path d="M799.7,364 L1357.6,364 M799.7,364 L802.02,364 L804.35,364 L806.67,363.99 L809,363.99 L811.32,363.99 L813.65,363.99 L815.97,363.99 L818.3,363.98 L820.62,363.98 L822.95,363.97 L825.27,363.97 L827.6,363.96 L829.92,363.95 L832.24,363.94 L834.57,363.93 L836.89,363.91 L839.22,363.89 L841.54,363.87 L843.87,363.84 L846.19,363.8 L848.52,363.76 L850.84,363.71 L853.17,363.65 L855.49,363.58 L857.81,363.5 L860.14,363.4 L862.46,363.29 L864.79,363.15 L867.11,363 L869.44,362.82 L871.76,362.61 L874.09,362.36 L876.41,362.08 L878.74,361.76 L881.06,361.38 L883.38,360.96 L885.71,360.47 L888.03,359.92 L890.36,359.3 L892.68,358.59 L895.01,357.79 L897.33,356.89 L899.66,355.89 L901.98,354.77 L904.31,353.52 L906.63,352.13 L908.96,350.59 L911.28,348.89 L913.6,347.02 L915.93,344.97 L918.25,342.72 L920.58,340.27 L922.9,337.6 L925.23,334.71 L927.55,331.58 L929.88,328.21 L932.2,324.59 L934.53,320.71 L936.85,316.57 L939.17,312.15 L941.5,307.47 L943.82,302.52 L946.15,297.29 L948.47,291.8 L950.8,286.04 L953.12,280.03 L955.45,273.78 L957.77,267.29 L960.1,260.59 L962.42,253.68 L964.75,246.59 L967.07,239.33 L969.39,231.94 L971.72,224.44 L974.04,216.86 L976.37,209.21 L978.69,201.55 L981.02,193.89 L983.34,186.28 L985.67,178.74 L987.99,171.32 L990.32,164.04 L992.64,156.94 L994.96,150.05 L997.29,143.42 L999.61,137.07 L1001.94,131.03 L1004.26,125.33 L1006.59,120 L1008.91,115.06 L1011.24,110.53 L1013.56,106.44 L1015.89,102.8 L1018.21,99.61 L1020.54,96.89 L1022.86,94.64 L1025.18,92.86 L1027.51,91.53 L1029.83,90.66 L1032.16,90.2 L1034.48,90.1 L1036.81,90.29 L1039.13,90.81 L1041.46,91.7 L1043.78,92.96 L1046.11,94.61 L1048.43,96.66 L1050.76,99.1 L1053.08,101.94 L1055.4,105.18 L1057.73,108.79 L1060.05,112.78 L1062.38,117.12 L1064.7,121.81 L1067.03,126.82 L1069.35,132.14 L1071.68,137.74 L1074,143.61 L1076.33,149.71 L1078.65,156.03 L1080.97,162.53 L1083.3,169.19 L1085.62,175.98 L1087.95,182.88 L1090.27,189.86 L1092.6,196.88 L1094.92,203.94 L1097.25,210.99 L1099.57,218.01 L1101.9,224.99 L1104.22,231.89 L1106.55,238.7 L1108.87,245.39 L1111.19,251.95 L1113.52,258.35 L1115.84,264.6 L1118.17,270.66 L1120.49,276.53 L1122.82,282.2 L1125.14,287.65 L1127.47,292.89 L1129.79,297.91 L1132.12,302.7 L1134.44,307.26 L1136.76,311.59 L1139.09,315.69 L1141.41,319.56 L1143.74,323.21 L1146.06,326.64 L1148.39,329.85 L1150.71,332.86 L1153.04,335.66 L1155.36,338.26 L1157.69,340.67 L1160.01,342.91 L1162.34,344.97 L1164.66,346.86 L1166.98,348.6 L1169.31,350.2 L1171.63,351.65 L1173.96,352.98 L1176.28,354.19 L1178.61,355.28 L1180.93,356.27 L1183.26,357.16 L1185.58,357.96 L1187.91,358.68 L1190.23,359.32 L1192.55,359.9 L1194.88,360.41 L1197.2,360.87 L1199.53,361.27 L1201.85,361.63 L1204.18,361.94 L1206.5,362.22 L1208.83,362.46 L1211.15,362.68 L1213.48,362.86 L1215.8,363.03 L1218.12,363.17 L1220.45,363.29 L1222.77,363.39 L1225.1,363.49 L1227.42,363.56 L1229.75,363.63 L1232.07,363.69 L1234.4,363.74 L1236.72,363.78 L1239.05,363.82 L1241.37,363.85 L1243.7,363.87 L1246.02,363.89 L1248.34,363.91 L1250.67,363.93 L1252.99,363.94 L1255.32,363.95 L1257.64,363.96 L1259.97,363.97 L1262.29,363.97 L1264.62,363.98 L1266.94,363.98 L1269.27,363.99 L1271.59,363.99 L1273.91,363.99 L1276.24,363.99 L1278.56,363.99 L1280.89,363.99 L1283.21,364 L1285.54,364 L1287.86,364 L1290.19,364 L1292.51,364 L1294.84,364 L1297.16,364 L1299.49,364 L1301.81,364 L1304.13,364 L1306.46,364 L1308.78,364 L1311.11,364 L1313.43,364 L1315.76,364 L1318.08,364 L1320.41,364 L1322.73,364 L1325.06,364 L1327.38,364 L1329.7,364 L1332.03,364 L1334.35,364 L1336.68,364 L1339,364 L1341.33,364 L1343.65,364 L1345.98,364 L1348.3,364 L1350.63,364 L1352.95,364 L1355.28,364 L1357.6,364" stroke="#454858" stroke-width="8.0"/>
<path d="M799.7,364 L1357.6,364 M799.7,363.97 L802.02,363.96 L804.35,363.95 L806.67,363.95 L809,363.94 L811.32,363.92 L813.65,363.91 L815.97,363.89 L818.3,363.87 L820.62,363.85 L822.95,363.83 L825.27,363.8 L827.6,363.76 L829.92,363.72 L832.24,363.67 L834.57,363.62 L836.89,363.56 L839.22,363.49 L841.54,363.4 L843.87,363.31 L846.19,363.21 L848.52,363.09 L850.84,362.95 L853.17,362.79 L855.49,362.62 L857.81,362.42 L860.14,362.2 L862.46,361.95 L864.79,361.67 L867.11,361.36 L869.44,361 L871.76,360.61 L874.09,360.18 L876.41,359.7 L878.74,359.16 L881.06,358.57 L883.38,357.92 L885.71,357.21 L888.03,356.42 L890.36,355.55 L892.68,354.61 L895.01,353.58 L897.33,352.45 L899.66,351.23 L901.98,349.9 L904.31,348.46 L906.63,346.91 L908.96,345.23 L911.28,343.43 L913.6,341.5 L915.93,339.42 L918.25,337.2 L920.58,334.83 L922.9,332.31 L925.23,329.63 L927.55,326.79 L929.88,323.79 L932.2,320.61 L934.53,317.27 L936.85,313.76 L939.17,310.07 L941.5,306.22 L943.82,302.19 L946.15,298 L948.47,293.64 L950.8,289.12 L953.12,284.45 L955.45,279.62 L957.77,274.65 L960.1,269.55 L962.42,264.32 L964.75,258.98 L967.07,253.53 L969.39,247.98 L971.72,242.36 L974.04,236.68 L976.37,230.94 L978.69,225.17 L981.02,219.38 L983.34,213.59 L985.67,207.81 L987.99,202.07 L990.32,196.38 L992.64,190.76 L994.96,185.23 L997.29,179.8 L999.61,174.51 L1001.94,169.35 L1004.26,164.36 L1006.59,159.54 L1008.91,154.92 L1011.24,150.51 L1013.56,146.32 L1015.89,142.37 L1018.21,138.67 L1020.54,135.23 L1022.86,132.07 L1025.18,129.18 L1027.51,126.58 L1029.83,124.27 L1032.16,122.26 L1034.48,120.54 L1036.81,119.12 L1039.13,117.99 L1041.46,117.15 L1043.78,116.58 L1046.11,116.28 L1048.43,116.2 L1050.76,116.34 L1053.08,116.75 L1055.4,117.47 L1057.73,118.51 L1060.05,119.88 L1062.38,121.59 L1064.7,123.64 L1067.03,126.03 L1069.35,128.75 L1071.68,131.8 L1074,135.18 L1076.33,138.86 L1078.65,142.85 L1080.97,147.12 L1083.3,151.66 L1085.62,156.45 L1087.95,161.48 L1090.27,166.72 L1092.6,172.16 L1094.92,177.77 L1097.25,183.53 L1099.57,189.42 L1101.9,195.42 L1104.22,201.5 L1106.55,207.64 L1108.87,213.83 L1111.19,220.03 L1113.52,226.22 L1115.84,232.4 L1118.17,238.52 L1120.49,244.59 L1122.82,250.57 L1125.14,256.46 L1127.47,262.23 L1129.79,267.87 L1132.12,273.37 L1134.44,278.73 L1136.76,283.91 L1139.09,288.93 L1141.41,293.77 L1143.74,298.43 L1146.06,302.89 L1148.39,307.16 L1150.71,311.24 L1153.04,315.12 L1155.36,318.8 L1157.69,322.29 L1160.01,325.59 L1162.34,328.7 L1164.66,331.62 L1166.98,334.35 L1169.31,336.92 L1171.63,339.3 L1173.96,341.53 L1176.28,343.59 L1178.61,345.51 L1180.93,347.28 L1183.26,348.9 L1185.58,350.4 L1187.91,351.78 L1190.23,353.04 L1192.55,354.19 L1194.88,355.23 L1197.2,356.19 L1199.53,357.05 L1201.85,357.83 L1204.18,358.53 L1206.5,359.17 L1208.83,359.74 L1211.15,360.25 L1213.48,360.7 L1215.8,361.11 L1218.12,361.47 L1220.45,361.79 L1222.77,362.08 L1225.1,362.33 L1227.42,362.55 L1229.75,362.75 L1232.07,362.92 L1234.4,363.07 L1236.72,363.2 L1239.05,363.31 L1241.37,363.41 L1243.7,363.5 L1246.02,363.57 L1248.34,363.63 L1250.67,363.69 L1252.99,363.74 L1255.32,363.78 L1257.64,363.81 L1259.97,363.84 L1262.29,363.87 L1264.62,363.89 L1266.94,363.91 L1269.27,363.92 L1271.59,363.94 L1273.91,363.95 L1276.24,363.96 L1278.56,363.96 L1280.89,363.97 L1283.21,363.98 L1285.54,363.98 L1287.86,363.98 L1290.19,363.99 L1292.51,363.99 L1294.84,363.99 L1297.16,363.99 L1299.49,363.99 L1301.81,364 L1304.13,364 L1306.46,364 L1308.78,364 L1311.11,364 L1313.43,364 L1315.76,364 L1318.08,364 L1320.41,364 L1322.73,364 L1325.06,364 L1327.38,364 L1329.7,364 L1332.03,364 L1334.35,364 L1336.68,364 L1339,364 L1341.33,364 L1343.65,364 L1345.98,364 L1348.3,364 L1350.63,364 L1352.95,364 L1355.28,364 L1357.6,364" stroke="#A0A3B9" stroke-width="8.0"/>
<path d="M799.7,364 L1357.6,364 M799.7,309.57 L802.02,304.84 L804.35,299.84 L806.67,294.59 L809,289.08 L811.32,283.32 L813.65,277.31 L815.97,271.07 L818.3,264.6 L820.62,257.93 L822.95,251.06 L825.27,244.01 L827.6,236.81 L829.92,229.47 L832.24,222.02 L834.57,214.49 L836.89,206.9 L839.22,199.29 L841.54,191.68 L843.87,184.1 L846.19,176.59 L848.52,169.17 L850.84,161.89 L853.17,154.77 L855.49,147.85 L857.81,141.16 L860.14,134.72 L862.46,128.58 L864.79,122.75 L867.11,117.26 L869.44,112.15 L871.76,107.42 L874.09,103.09 L876.41,99.19 L878.74,95.73 L881.06,92.71 L883.38,90.15 L885.71,88.04 L888.03,86.37 L890.36,85.15 L892.68,84.36 L895.01,83.97 L897.33,83.91 L899.66,84.17 L901.98,84.82 L904.31,85.88 L906.63,87.39 L908.96,89.34 L911.28,91.74 L913.6,94.59 L915.93,97.9 L918.25,101.64 L920.58,105.81 L922.9,110.4 L925.23,115.38 L927.55,120.73 L929.88,126.44 L932.2,132.48 L934.53,138.81 L936.85,145.41 L939.17,152.26 L941.5,159.31 L943.82,166.53 L946.15,173.9 L948.47,181.39 L950.8,188.94 L953.12,196.55 L955.45,204.16 L957.77,211.76 L960.1,219.32 L962.42,226.8 L964.75,234.18 L967.07,241.43 L969.39,248.54 L971.72,255.47 L974.04,262.22 L976.37,268.77 L978.69,275.09 L981.02,281.18 L983.34,287.03 L985.67,292.64 L987.99,297.98 L990.32,303.07 L992.64,307.89 L994.96,312.46 L997.29,316.76 L999.61,320.8 L1001.94,324.6 L1004.26,328.14 L1006.59,331.44 L1008.91,334.51 L1011.24,337.35 L1013.56,339.98 L1015.89,342.4 L1018.21,344.62 L1020.54,346.65 L1022.86,348.51 L1025.18,350.21 L1027.51,351.75 L1029.83,353.14 L1032.16,354.4 L1034.48,355.53 L1036.81,356.55 L1039.13,357.46 L1041.46,358.27 L1043.78,359 L1046.11,359.64 L1048.43,360.21 L1050.76,360.72 L1053.08,361.16 L1055.4,361.55 L1057.73,361.89 L1060.05,362.19 L1062.38,362.45 L1064.7,362.68 L1067.03,362.88 L1069.35,363.04 L1071.68,363.19 L1074,363.32 L1076.33,363.42 L1078.65,363.51 L1080.97,363.59 L1083.3,363.66 L1085.62,363.72 L1087.95,363.76 L1090.27,363.8 L1092.6,363.84 L1094.92,363.87 L1097.25,363.89 L1099.57,363.91 L1101.9,363.93 L1104.22,363.94 L1106.55,363.95 L1108.87,363.96 L1111.19,363.97 L1113.52,363.97 L1115.84,363.98 L1118.17,363.98 L1120.49,363.99 L1122.82,363.99 L1125.14,363.99 L1127.47,363.99 L1129.79,363.99 L1132.12,364 L1134.44,364 L1136.76,364 L1139.09,364 L1141.41,364 L1143.74,364 L1146.06,364 L1148.39,364 L1150.71,364 L1153.04,364 L1155.36,364 L1157.69,364 L1160.01,364 L1162.34,364 L1164.66,364 L1166.98,364 L1169.31,364 L1171.63,364 L1173.96,364 L1176.28,364 L1178.61,364 L1180.93,364 L1183.26,364 L1185.58,364 L1187.91,364 L1190.23,364 L1192.55,364 L1194.88,364 L1197.2,364 L1199.53,364 L1201.85,364 L1204.18,364 L1206.5,364 L1208.83,364 L1211.15,364 L1213.48,364 L1215.8,364 L1218.12,364 L1220.45,364 L1222.77,364 L1225.1,364 L1227.42,364 L1229.75,364 L1232.07,364 L1234.4,364 L1236.72,364 L1239.05,364 L1241.37,364 L1243.7,364 L1246.02,364 L1248.34,364 L1250.67,364 L1252.99,364 L1255.32,364 L1257.64,364 L1259.97,364 L1262.29,364 L1264.62,364 L1266.94,364 L1269.27,364 L1271.59,364 L1273.91,364 L1276.24,364 L1278.56,364 L1280.89,364 L1283.21,364 L1285.54,364 L1287.86,364 L1290.19,364 L1292.51,364 L1294.84,364 L1297.16,364 L1299.49,364 L1301.81,364 L1304.13,364 L1306.46,364 L1308.78,364 L1311.11,364 L1313.43,364 L1315.76,364 L1318.08,364 L1320.41,364 L1322.73,364 L1325.06,364 L1327.38,364 L1329.7,364 L1332.03,364 L1334.35,364 L1336.68,364 L1339,364 L1341.33,364 L1343.65,364 L1345.98,364 L1348.3,364 L1350.63,364 L1352.95,364 L1355.28,364 L1357.6,364" stroke="#AC5366" stroke-width="8.0"/>
<path d="M799.7,364 L1357.6,364 M799.7,349.43 L802.02,347.63 L804.35,345.66 L806.67,343.5 L809,341.15 L811.32,338.58 L813.65,335.8 L815.97,332.79 L818.3,329.54 L820.62,326.05 L822.95,322.3 L825.27,318.29 L827.6,314.01 L829.92,309.47 L832.24,304.65 L834.57,299.56 L836.89,294.2 L839.22,288.56 L841.54,282.67 L843.87,276.51 L846.19,270.11 L848.52,263.48 L850.84,256.62 L853.17,249.55 L855.49,242.3 L857.81,234.88 L860.14,227.32 L862.46,219.64 L864.79,211.87 L867.11,204.03 L869.44,196.16 L871.76,188.29 L874.09,180.45 L876.41,172.68 L878.74,165.01 L881.06,157.47 L883.38,150.09 L885.71,142.92 L888.03,135.99 L890.36,129.32 L892.68,122.96 L895.01,116.92 L897.33,111.24 L899.66,105.94 L901.98,101.05 L904.31,96.58 L906.63,92.55 L908.96,88.97 L911.28,85.86 L913.6,83.23 L915.93,81.06 L918.25,79.36 L920.58,78.13 L922.9,77.33 L925.23,76.95 L927.55,76.92 L929.88,77.24 L932.2,77.98 L934.53,79.18 L936.85,80.86 L939.17,83.03 L941.5,85.69 L943.82,88.84 L946.15,92.47 L948.47,96.58 L950.8,101.15 L953.12,106.17 L955.45,111.6 L957.77,117.44 L960.1,123.64 L962.42,130.18 L964.75,137.03 L967.07,144.15 L969.39,151.52 L971.72,159.08 L974.04,166.82 L976.37,174.69 L978.69,182.65 L981.02,190.67 L983.34,198.71 L985.67,206.74 L987.99,214.72 L990.32,222.63 L992.64,230.43 L994.96,238.1 L997.29,245.6 L999.61,252.93 L1001.94,260.04 L1004.26,266.94 L1006.59,273.59 L1008.91,279.99 L1011.24,286.13 L1013.56,291.99 L1015.89,297.57 L1018.21,302.88 L1020.54,307.89 L1022.86,312.63 L1025.18,317.08 L1027.51,321.25 L1029.83,325.14 L1032.16,328.78 L1034.48,332.15 L1036.81,335.27 L1039.13,338.15 L1041.46,340.8 L1043.78,343.23 L1046.11,345.46 L1048.43,347.49 L1050.76,349.33 L1053.08,351 L1055.4,352.52 L1057.73,353.88 L1060.05,355.1 L1062.38,356.2 L1064.7,357.18 L1067.03,358.05 L1069.35,358.82 L1071.68,359.51 L1074,360.11 L1076.33,360.64 L1078.65,361.11 L1080.97,361.52 L1083.3,361.88 L1085.62,362.19 L1087.95,362.46 L1090.27,362.69 L1092.6,362.89 L1094.92,363.06 L1097.25,363.21 L1099.57,363.34 L1101.9,363.44 L1104.22,363.53 L1106.55,363.61 L1108.87,363.68 L1111.19,363.73 L1113.52,363.78 L1115.84,363.82 L1118.17,363.85 L1120.49,363.88 L1122.82,363.9 L1125.14,363.92 L1127.47,363.93 L1129.79,363.95 L1132.12,363.96 L1134.44,363.96 L1136.76,363.97 L1139.09,363.98 L1141.41,363.98 L1143.74,363.99 L1146.06,363.99 L1148.39,363.99 L1150.71,363.99 L1153.04,363.99 L1155.36,364 L1157.69,364 L1160.01,364 L1162.34,364 L1164.66,364 L1166.98,364 L1169.31,364 L1171.63,364 L1173.96,364 L1176.28,364 L1178.61,364 L1180.93,364 L1183.26,364 L1185.58,364 L1187.91,364 L1190.23,364 L1192.55,364 L1194.88,364 L1197.2,364 L1199.53,364 L1201.85,364 L1204.18,364 L1206.5,364 L1208.83,364 L1211.15,364 L1213.48,364 L1215.8,364 L1218.12,364 L1220.45,364 L1222.77,364 L1225.1,364 L1227.42,364 L1229.75,364 L1232.07,364 L1234.4,364 L1236.72,364 L1239.05,364 L1241.37,364 L1243.7,364 L1246.02,364 L1248.34,364 L1250.67,364 L1252.99,364 L1255.32,364 L1257.64,364 L1259.97,364 L1262.29,364 L1264.62,364 L1266.94,364 L1269.27,364 L1271.59,364 L1273.91,364 L1276.24,364 L1278.56,364 L1280.89,364 L1283.21,364 L1285.54,364 L1287.86,364 L1290.19,364 L1292.51,364 L1294.84,364 L1297.16,364 L1299.49,364 L1301.81,364 L1304.13,364 L1306.46,364 L1308.78,364 L1311.11,364 L1313.43,364 L1315.76,364 L1318.08,364 L1320.41,364 L1322.73,364 L1325.06,364 L1327.38,364 L1329.7,364 L1332.03,364 L1334.35,364 L1336.68,364 L1339,364 L1341.33,364 L1343.65,364 L1345.98,364 L1348.3,364 L1350.63,364 L1352.95,364 L1355.28,364 L1357.6,364" stroke="#E87D86" stroke-width="8.0"/>
</g>
<g stroke="#0c0c0c" stroke-width="3.5" fill="none" stroke-linecap="butt">
<rect x="799.70" y="38.35" width="557.90" height="326.45"/>
<line x1="799.70" y1="364.80" x2="799.70" y2="372.50"/>
<line x1="892.68" y1="364.80" x2="892.68" y2="372.50"/>
<line x1="985.67" y1="364.80" x2="985.67" y2="372.50"/>
<line x1="1078.65" y1="364.80" x2="1078.65" y2="372.50"/>
<line x1="1171.63" y1="364.80" x2="1171.63" y2="372.50"/>
<line x1="1264.62" y1="364.80" x2="1264.62" y2="372.50"/>
<line x1="1357.60" y1="364.80" x2="1357.60" y2="372.50"/>
<line x1="792.00" y1="38.35" x2="799.70" y2="38.35"/>
<line x1="792.00" y1="119.96" x2="799.70" y2="119.96"/>
<line x1="792.00" y1="201.58" x2="799.70" y2="201.58"/>
<line x1="792.00" y1="283.19" x2="799.70" y2="283.19"/>
<line x1="792.00" y1="364.80" x2="799.70" y2="364.80"/>
</g>
<g font-family="'Liberation Sans', Arial, sans-serif" font-size="28.8" fill="#1c1a1b">
<text x="791.78" y="399.70">4</text>
<text x="884.58" y="399.70">6</text>
<text x="977.97" y="399.70">8</text>
<text x="1062.73" y="399.70">10</text>
<text x="1155.89" y="399.70">12</text>
<text x="1248.25" y="399.70">14</text>
<text x="1341.15" y="399.70">16</text>
<text x="747.66" y="49.30">0.4</text>
<text x="748.09" y="128.40">0.3</text>
<text x="748.31" y="211.20">0.2</text>
<text x="748.24" y="294.20">0.1</text>
<text x="768.50" y="371.90">0</text>
</g>
<text x="817.13" y="87.10" font-family="'Liberation Sans', Arial, sans-serif" font-weight="bold" font-size="33.4" fill="#1c1a1b">(d)</text>
</g>
<g id="panel-g">
<g clip-path="url(#cpg)" fill="none" stroke-linejoin="round" stroke-linecap="butt">
<path d="M1469.1,364 L1840.83,364 M1469.1,364 L1470.65,364 L1472.2,364 L1473.75,364 L1475.3,364 L1476.84,363.99 L1478.39,363.99 L1479.94,363.99 L1481.49,363.98 L1483.04,363.98 L1484.59,363.97 L1486.14,363.96 L1487.69,363.94 L1489.24,363.93 L1490.78,363.91 L1492.33,363.88 L1493.88,363.85 L1495.43,363.8 L1496.98,363.75 L1498.53,363.69 L1500.08,363.62 L1501.63,363.54 L1503.18,363.44 L1504.72,363.32 L1506.27,363.19 L1507.82,363.04 L1509.37,362.87 L1510.92,362.67 L1512.47,362.46 L1514.02,362.22 L1515.57,361.96 L1517.12,361.67 L1518.66,361.36 L1520.21,361.02 L1521.76,360.67 L1523.31,360.29 L1524.86,359.89 L1526.41,359.48 L1527.96,359.05 L1529.51,358.61 L1531.06,358.15 L1532.6,357.69 L1534.15,357.23 L1535.7,356.76 L1537.25,356.3 L1538.8,355.84 L1540.35,355.38 L1541.9,354.94 L1543.45,354.51 L1545,354.1 L1546.54,353.7 L1548.09,353.32 L1549.64,352.96 L1551.19,352.62 L1552.74,352.3 L1554.29,352 L1555.84,351.73 L1557.39,351.47 L1558.94,351.24 L1560.48,351.02 L1562.03,350.82 L1563.58,350.64 L1565.13,350.47 L1566.68,350.31 L1568.23,350.15 L1569.78,350 L1571.33,349.86 L1572.88,349.71 L1574.42,349.55 L1575.97,349.39 L1577.52,349.21 L1579.07,349.02 L1580.62,348.81 L1582.17,348.58 L1583.72,348.33 L1585.27,348.08 L1586.82,347.8 L1588.36,347.51 L1589.91,347.19 L1591.46,346.84 L1593.01,346.47 L1594.56,346.06 L1596.11,345.61 L1597.66,345.12 L1599.21,344.59 L1600.76,344 L1602.3,343.37 L1603.85,342.67 L1605.4,341.92 L1606.95,341.1 L1608.5,340.21 L1610.05,339.25 L1611.6,338.21 L1613.15,337.1 L1614.7,335.9 L1616.24,334.61 L1617.79,333.24 L1619.34,331.77 L1620.89,330.21 L1622.44,328.56 L1623.99,326.82 L1625.54,324.98 L1627.09,323.04 L1628.64,321.01 L1630.18,318.89 L1631.73,316.67 L1633.28,314.37 L1634.83,311.98 L1636.38,309.52 L1637.93,306.97 L1639.48,304.35 L1641.03,301.67 L1642.58,298.93 L1644.12,296.14 L1645.67,293.3 L1647.22,290.43 L1648.77,287.53 L1650.32,284.62 L1651.87,281.69 L1653.42,278.77 L1654.97,275.86 L1656.52,272.98 L1658.06,270.13 L1659.61,267.32 L1661.16,264.57 L1662.71,261.88 L1664.26,259.28 L1665.81,256.75 L1667.36,254.33 L1668.91,252.01 L1670.46,249.81 L1672,247.73 L1673.55,245.78 L1675.1,243.97 L1676.65,242.31 L1678.2,240.8 L1679.75,239.44 L1681.3,238.24 L1682.85,237.2 L1684.4,236.32 L1685.94,235.61 L1687.49,235.05 L1689.04,234.65 L1690.59,234.41 L1692.14,234.31 L1693.69,234.33 L1695.24,234.52 L1696.79,234.92 L1698.34,235.52 L1699.88,236.32 L1701.43,237.32 L1702.98,238.51 L1704.53,239.89 L1706.08,241.45 L1707.63,243.19 L1709.18,245.09 L1710.73,247.15 L1712.28,249.36 L1713.82,251.71 L1715.37,254.19 L1716.92,256.78 L1718.47,259.49 L1720.02,262.29 L1721.57,265.17 L1723.12,268.13 L1724.67,271.15 L1726.22,274.22 L1727.76,277.32 L1729.31,280.46 L1730.86,283.61 L1732.41,286.77 L1733.96,289.92 L1735.51,293.07 L1737.06,296.18 L1738.61,299.27 L1740.16,302.31 L1741.7,305.31 L1743.25,308.25 L1744.8,311.13 L1746.35,313.94 L1747.9,316.68 L1749.45,319.34 L1751,321.93 L1752.55,324.42 L1754.1,326.83 L1755.64,329.15 L1757.19,331.37 L1758.74,333.51 L1760.29,335.55 L1761.84,337.49 L1763.39,339.35 L1764.94,341.11 L1766.49,342.78 L1768.04,344.36 L1769.58,345.85 L1771.13,347.26 L1772.68,348.58 L1774.23,349.82 L1775.78,350.98 L1777.33,352.07 L1778.88,353.08 L1780.43,354.02 L1781.98,354.9 L1783.52,355.71 L1785.07,356.47 L1786.62,357.16 L1788.17,357.8 L1789.72,358.39 L1791.27,358.93 L1792.82,359.43 L1794.37,359.89 L1795.92,360.3 L1797.46,360.68 L1799.01,361.03 L1800.56,361.34 L1802.11,361.62 L1803.66,361.88 L1805.21,362.11 L1806.76,362.32 L1808.31,362.51 L1809.86,362.68 L1811.4,362.84 L1812.95,362.97 L1814.5,363.09 L1816.05,363.2 L1817.6,363.3 L1819.15,363.38 L1820.7,363.46 L1822.25,363.53 L1823.8,363.59 L1825.34,363.64 L1826.89,363.69 L1828.44,363.73 L1829.99,363.76 L1831.54,363.8 L1833.09,363.82 L1834.64,363.85 L1836.19,363.87 L1837.74,363.89 L1839.28,363.9 L1840.83,363.92" stroke="#5067B5" stroke-width="7.8"/>
<path d="M1469.1,364 L1840.83,364 M1469.1,364 L1470.65,364 L1472.2,364 L1473.75,364 L1475.3,364 L1476.84,364 L1478.39,364 L1479.94,364 L1481.49,364 L1483.04,364 L1484.59,364 L1486.14,364 L1487.69,364 L1489.24,364 L1490.78,364 L1492.33,364 L1493.88,364 L1495.43,364 L1496.98,364 L1498.53,364 L1500.08,364 L1501.63,364 L1503.18,364 L1504.72,364 L1506.27,364 L1507.82,364 L1509.37,364 L1510.92,364 L1512.47,364 L1514.02,364 L1515.57,364 L1517.12,364 L1518.66,364 L1520.21,363.99 L1521.76,363.99 L1523.31,363.99 L1524.86,363.99 L1526.41,363.99 L1527.96,363.98 L1529.51,363.98 L1531.06,363.98 L1532.6,363.97 L1534.15,363.97 L1535.7,363.96 L1537.25,363.96 L1538.8,363.95 L1540.35,363.94 L1541.9,363.93 L1543.45,363.91 L1545,363.9 L1546.54,363.88 L1548.09,363.86 L1549.64,363.83 L1551.19,363.8 L1552.74,363.77 L1554.29,363.73 L1555.84,363.69 L1557.39,363.64 L1558.94,363.58 L1560.48,363.52 L1562.03,363.44 L1563.58,363.36 L1565.13,363.26 L1566.68,363.16 L1568.23,363.03 L1569.78,362.89 L1571.33,362.74 L1572.88,362.56 L1574.42,362.37 L1575.97,362.15 L1577.52,361.9 L1579.07,361.63 L1580.62,361.32 L1582.17,360.98 L1583.72,360.61 L1585.27,360.2 L1586.82,359.74 L1588.36,359.24 L1589.91,358.69 L1591.46,358.08 L1593.01,357.42 L1594.56,356.7 L1596.11,355.91 L1597.66,355.06 L1599.21,354.13 L1600.76,353.13 L1602.3,352.04 L1603.85,350.87 L1605.4,349.62 L1606.95,348.27 L1608.5,346.82 L1610.05,345.28 L1611.6,343.64 L1613.15,341.89 L1614.7,340.03 L1616.24,338.06 L1617.79,335.98 L1619.34,333.78 L1620.89,331.47 L1622.44,329.05 L1623.99,326.51 L1625.54,323.85 L1627.09,321.08 L1628.64,318.2 L1630.18,315.21 L1631.73,312.12 L1633.28,308.92 L1634.83,305.62 L1636.38,302.23 L1637.93,298.75 L1639.48,295.19 L1641.03,291.57 L1642.58,287.87 L1644.12,284.12 L1645.67,280.32 L1647.22,276.49 L1648.77,272.63 L1650.32,268.76 L1651.87,264.88 L1653.42,261.01 L1654.97,257.16 L1656.52,253.34 L1658.06,249.57 L1659.61,245.86 L1661.16,242.21 L1662.71,238.65 L1664.26,235.18 L1665.81,231.82 L1667.36,228.58 L1668.91,225.46 L1670.46,222.49 L1672,219.67 L1673.55,217 L1675.1,214.51 L1676.65,212.18 L1678.2,210.05 L1679.75,208.1 L1681.3,206.34 L1682.85,204.78 L1684.4,203.42 L1685.94,202.25 L1687.49,201.29 L1689.04,200.52 L1690.59,199.95 L1692.14,199.56 L1693.69,199.35 L1695.24,199.3 L1696.79,199.43 L1698.34,199.85 L1699.88,200.57 L1701.43,201.61 L1702.98,202.99 L1704.53,204.7 L1706.08,206.75 L1707.63,209.12 L1709.18,211.81 L1710.73,214.81 L1712.28,218.1 L1713.82,221.66 L1715.37,225.48 L1716.92,229.54 L1718.47,233.81 L1720.02,238.26 L1721.57,242.87 L1723.12,247.62 L1724.67,252.48 L1726.22,257.41 L1727.76,262.4 L1729.31,267.42 L1730.86,272.43 L1732.41,277.42 L1733.96,282.37 L1735.51,287.24 L1737.06,292.02 L1738.61,296.69 L1740.16,301.24 L1741.7,305.64 L1743.25,309.89 L1744.8,313.97 L1746.35,317.88 L1747.9,321.6 L1749.45,325.14 L1751,328.48 L1752.55,331.63 L1754.1,334.59 L1755.64,337.35 L1757.19,339.93 L1758.74,342.32 L1760.29,344.53 L1761.84,346.57 L1763.39,348.44 L1764.94,350.15 L1766.49,351.71 L1768.04,353.13 L1769.58,354.42 L1771.13,355.57 L1772.68,356.61 L1774.23,357.55 L1775.78,358.38 L1777.33,359.12 L1778.88,359.77 L1780.43,360.35 L1781.98,360.86 L1783.52,361.31 L1785.07,361.7 L1786.62,362.04 L1788.17,362.33 L1789.72,362.59 L1791.27,362.81 L1792.82,362.99 L1794.37,363.16 L1795.92,363.29 L1797.46,363.41 L1799.01,363.51 L1800.56,363.59 L1802.11,363.67 L1803.66,363.72 L1805.21,363.77 L1806.76,363.82 L1808.31,363.85 L1809.86,363.88 L1811.4,363.9 L1812.95,363.92 L1814.5,363.94 L1816.05,363.95 L1817.6,363.96 L1819.15,363.97 L1820.7,363.97 L1822.25,363.98 L1823.8,363.98 L1825.34,363.99 L1826.89,363.99 L1828.44,363.99 L1829.99,363.99 L1831.54,364 L1833.09,364 L1834.64,364 L1836.19,364 L1837.74,364 L1839.28,364 L1840.83,364" stroke="#454858" stroke-width="7.8"/>
<path d="M1469.1,364 L1840.83,364 M1469.1,364 L1470.65,364 L1472.2,364 L1473.75,364 L1475.3,364 L1476.84,363.99 L1478.39,363.99 L1479.94,363.99 L1481.49,363.98 L1483.04,363.98 L1484.59,363.97 L1486.14,363.96 L1487.69,363.95 L1489.24,363.93 L1490.78,363.91 L1492.33,363.89 L1493.88,363.86 L1495.43,363.82 L1496.98,363.77 L1498.53,363.72 L1500.08,363.65 L1501.63,363.57 L1503.18,363.48 L1504.72,363.38 L1506.27,363.25 L1507.82,363.11 L1509.37,362.95 L1510.92,362.78 L1512.47,362.58 L1514.02,362.36 L1515.57,362.11 L1517.12,361.85 L1518.66,361.56 L1520.21,361.25 L1521.76,360.92 L1523.31,360.57 L1524.86,360.2 L1526.41,359.82 L1527.96,359.42 L1529.51,359.01 L1531.06,358.59 L1532.6,358.16 L1534.15,357.72 L1535.7,357.29 L1537.25,356.85 L1538.8,356.42 L1540.35,355.99 L1541.9,355.57 L1543.45,355.16 L1545,354.76 L1546.54,354.38 L1548.09,354 L1549.64,353.65 L1551.19,353.3 L1552.74,352.98 L1554.29,352.66 L1555.84,352.36 L1557.39,352.07 L1558.94,351.8 L1560.48,351.53 L1562.03,351.26 L1563.58,351 L1565.13,350.74 L1566.68,350.48 L1568.23,350.21 L1569.78,349.92 L1571.33,349.62 L1572.88,349.3 L1574.42,348.96 L1575.97,348.58 L1577.52,348.16 L1579.07,347.7 L1580.62,347.2 L1582.17,346.65 L1583.72,346.05 L1585.27,345.4 L1586.82,344.71 L1588.36,343.95 L1589.91,343.13 L1591.46,342.24 L1593.01,341.28 L1594.56,340.24 L1596.11,339.11 L1597.66,337.9 L1599.21,336.6 L1600.76,335.2 L1602.3,333.71 L1603.85,332.1 L1605.4,330.39 L1606.95,328.57 L1608.5,326.63 L1610.05,324.59 L1611.6,322.42 L1613.15,320.14 L1614.7,317.74 L1616.24,315.22 L1617.79,312.59 L1619.34,309.86 L1620.89,307.01 L1622.44,304.06 L1623.99,301.01 L1625.54,297.87 L1627.09,294.65 L1628.64,291.35 L1630.18,287.98 L1631.73,284.56 L1633.28,281.08 L1634.83,277.58 L1636.38,274.05 L1637.93,270.51 L1639.48,266.97 L1641.03,263.45 L1642.58,259.96 L1644.12,256.51 L1645.67,253.12 L1647.22,249.8 L1648.77,246.57 L1650.32,243.45 L1651.87,240.43 L1653.42,237.55 L1654.97,234.8 L1656.52,232.21 L1658.06,229.77 L1659.61,227.51 L1661.16,225.44 L1662.71,223.55 L1664.26,221.85 L1665.81,220.36 L1667.36,219.07 L1668.91,217.99 L1670.46,217.11 L1672,216.44 L1673.55,215.97 L1675.1,215.69 L1676.65,215.6 L1678.2,215.66 L1679.75,215.87 L1681.3,216.26 L1682.85,216.84 L1684.4,217.63 L1685.94,218.64 L1687.49,219.87 L1689.04,221.31 L1690.59,222.97 L1692.14,224.84 L1693.69,226.92 L1695.24,229.2 L1696.79,231.68 L1698.34,234.34 L1699.88,237.18 L1701.43,240.19 L1702.98,243.34 L1704.53,246.64 L1706.08,250.05 L1707.63,253.58 L1709.18,257.21 L1710.73,260.91 L1712.28,264.68 L1713.82,268.5 L1715.37,272.36 L1716.92,276.23 L1718.47,280.11 L1720.02,283.98 L1721.57,287.82 L1723.12,291.63 L1724.67,295.38 L1726.22,299.08 L1727.76,302.7 L1729.31,306.24 L1730.86,309.69 L1732.41,313.05 L1733.96,316.29 L1735.51,319.42 L1737.06,322.44 L1738.61,325.33 L1740.16,328.1 L1741.7,330.75 L1743.25,333.26 L1744.8,335.65 L1746.35,337.91 L1747.9,340.04 L1749.45,342.04 L1751,343.92 L1752.55,345.68 L1754.1,347.33 L1755.64,348.85 L1757.19,350.27 L1758.74,351.59 L1760.29,352.8 L1761.84,353.92 L1763.39,354.95 L1764.94,355.89 L1766.49,356.75 L1768.04,357.53 L1769.58,358.24 L1771.13,358.88 L1772.68,359.47 L1774.23,359.99 L1775.78,360.47 L1777.33,360.89 L1778.88,361.27 L1780.43,361.61 L1781.98,361.91 L1783.52,362.18 L1785.07,362.42 L1786.62,362.63 L1788.17,362.81 L1789.72,362.97 L1791.27,363.11 L1792.82,363.24 L1794.37,363.35 L1795.92,363.44 L1797.46,363.52 L1799.01,363.59 L1800.56,363.66 L1802.11,363.71 L1803.66,363.75 L1805.21,363.79 L1806.76,363.82 L1808.31,363.85 L1809.86,363.88 L1811.4,363.9 L1812.95,363.91 L1814.5,363.93 L1816.05,363.94 L1817.6,363.95 L1819.15,363.96 L1820.7,363.97 L1822.25,363.97 L1823.8,363.98 L1825.34,363.98 L1826.89,363.99 L1828.44,363.99 L1829.99,363.99 L1831.54,363.99 L1833.09,363.99 L1834.64,363.99 L1836.19,364 L1837.74,364 L1839.28,364 L1840.83,364" stroke="#A0A3B9" stroke-width="7.8"/>
<path d="M1469.1,364 L1840.83,364 M1469.1,364 L1470.65,364 L1472.2,364 L1473.75,364 L1475.3,364 L1476.84,364 L1478.39,364 L1479.94,364 L1481.49,364 L1483.04,364 L1484.59,364 L1486.14,364 L1487.69,364 L1489.24,364 L1490.78,364 L1492.33,364 L1493.88,364 L1495.43,364 L1496.98,364 L1498.53,364 L1500.08,364 L1501.63,364 L1503.18,364 L1504.72,364 L1506.27,364 L1507.82,364 L1509.37,364 L1510.92,364 L1512.47,364 L1514.02,364 L1515.57,364 L1517.12,364 L1518.66,364 L1520.21,364 L1521.76,364 L1523.31,364 L1524.86,364 L1526.41,364 L1527.96,364 L1529.51,364 L1531.06,364 L1532.6,364 L1534.15,364 L1535.7,364 L1537.25,364 L1538.8,364 L1540.35,364 L1541.9,364 L1543.45,364 L1545,363.99 L1546.54,363.99 L1548.09,363.99 L1549.64,363.99 L1551.19,363.99 L1552.74,363.98 L1554.29,363.98 L1555.84,363.98 L1557.39,363.97 L1558.94,363.96 L1560.48,363.95 L1562.03,363.94 L1563.58,363.93 L1565.13,363.92 L1566.68,363.9 L1568.23,363.88 L1569.78,363.85 L1571.33,363.82 L1572.88,363.78 L1574.42,363.74 L1575.97,363.69 L1577.52,363.63 L1579.07,363.56 L1580.62,363.48 L1582.17,363.38 L1583.72,363.27 L1585.27,363.14 L1586.82,363 L1588.36,362.82 L1589.91,362.63 L1591.46,362.4 L1593.01,362.14 L1594.56,361.85 L1596.11,361.51 L1597.66,361.13 L1599.21,360.7 L1600.76,360.21 L1602.3,359.67 L1603.85,359.06 L1605.4,358.37 L1606.95,357.61 L1608.5,356.77 L1610.05,355.83 L1611.6,354.8 L1613.15,353.66 L1614.7,352.4 L1616.24,351.03 L1617.79,349.53 L1619.34,347.9 L1620.89,346.14 L1622.44,344.22 L1623.99,342.16 L1625.54,339.93 L1627.09,337.55 L1628.64,335 L1630.18,332.28 L1631.73,329.4 L1633.28,326.34 L1634.83,323.1 L1636.38,319.7 L1637.93,316.13 L1639.48,312.39 L1641.03,308.5 L1642.58,304.45 L1644.12,300.25 L1645.67,295.92 L1647.22,291.46 L1648.77,286.89 L1650.32,282.22 L1651.87,277.46 L1653.42,272.64 L1654.97,267.77 L1656.52,262.87 L1658.06,257.95 L1659.61,253.04 L1661.16,248.17 L1662.71,243.34 L1664.26,238.59 L1665.81,233.93 L1667.36,229.39 L1668.91,224.98 L1670.46,220.74 L1672,216.68 L1673.55,212.81 L1675.1,209.16 L1676.65,205.75 L1678.2,202.58 L1679.75,199.68 L1681.3,197.05 L1682.85,194.71 L1684.4,192.65 L1685.94,190.89 L1687.49,189.43 L1689.04,188.27 L1690.59,187.39 L1692.14,186.8 L1693.69,186.48 L1695.24,186.4 L1696.79,186.54 L1698.34,186.98 L1699.88,187.74 L1701.43,188.84 L1702.98,190.29 L1704.53,192.09 L1706.08,194.24 L1707.63,196.74 L1709.18,199.58 L1710.73,202.75 L1712.28,206.22 L1713.82,209.98 L1715.37,214.02 L1716.92,218.31 L1718.47,222.83 L1720.02,227.54 L1721.57,232.43 L1723.12,237.47 L1724.67,242.63 L1726.22,247.87 L1727.76,253.18 L1729.31,258.53 L1730.86,263.88 L1732.41,269.21 L1733.96,274.5 L1735.51,279.72 L1737.06,284.85 L1738.61,289.87 L1740.16,294.76 L1741.7,299.51 L1743.25,304.09 L1744.8,308.51 L1746.35,312.74 L1747.9,316.79 L1749.45,320.63 L1751,324.28 L1752.55,327.72 L1754.1,330.96 L1755.64,334 L1757.19,336.83 L1758.74,339.47 L1760.29,341.92 L1761.84,344.18 L1763.39,346.26 L1764.94,348.17 L1766.49,349.91 L1768.04,351.5 L1769.58,352.95 L1771.13,354.25 L1772.68,355.43 L1774.23,356.48 L1775.78,357.43 L1777.33,358.28 L1778.88,359.03 L1780.43,359.69 L1781.98,360.28 L1783.52,360.8 L1785.07,361.25 L1786.62,361.65 L1788.17,361.99 L1789.72,362.29 L1791.27,362.55 L1792.82,362.78 L1794.37,362.97 L1795.92,363.13 L1797.46,363.28 L1799.01,363.39 L1800.56,363.5 L1802.11,363.58 L1803.66,363.65 L1805.21,363.72 L1806.76,363.77 L1808.31,363.81 L1809.86,363.84 L1811.4,363.87 L1812.95,363.9 L1814.5,363.92 L1816.05,363.93 L1817.6,363.95 L1819.15,363.96 L1820.7,363.97 L1822.25,363.97 L1823.8,363.98 L1825.34,363.98 L1826.89,363.99 L1828.44,363.99 L1829.99,363.99 L1831.54,363.99 L1833.09,363.99 L1834.64,364 L1836.19,364 L1837.74,364 L1839.28,364 L1840.83,364" stroke="#AC5366" stroke-width="7.8"/>
<path d="M1469.1,364 L1840.83,364 M1469.1,364 L1470.65,364 L1472.2,364 L1473.75,364 L1475.3,364 L1476.84,364 L1478.39,364 L1479.94,364 L1481.49,364 L1483.04,364 L1484.59,364 L1486.14,364 L1487.69,364 L1489.24,364 L1490.78,364 L1492.33,364 L1493.88,364 L1495.43,364 L1496.98,364 L1498.53,364 L1500.08,364 L1501.63,364 L1503.18,364 L1504.72,364 L1506.27,364 L1507.82,364 L1509.37,364 L1510.92,364 L1512.47,364 L1514.02,364 L1515.57,364 L1517.12,364 L1518.66,364 L1520.21,364 L1521.76,364 L1523.31,364 L1524.86,364 L1526.41,364 L1527.96,364 L1529.51,364 L1531.06,364 L1532.6,364 L1534.15,364 L1535.7,364 L1537.25,364 L1538.8,364 L1540.35,364 L1541.9,364 L1543.45,364 L1545,364 L1546.54,364 L1548.09,363.99 L1549.64,363.99 L1551.19,363.99 L1552.74,363.99 L1554.29,363.98 L1555.84,363.98 L1557.39,363.97 L1558.94,363.96 L1560.48,363.95 L1562.03,363.93 L1563.58,363.91 L1565.13,363.89 L1566.68,363.86 L1568.23,363.83 L1569.78,363.79 L1571.33,363.73 L1572.88,363.67 L1574.42,363.59 L1575.97,363.49 L1577.52,363.38 L1579.07,363.24 L1580.62,363.07 L1582.17,362.87 L1583.72,362.64 L1585.27,362.36 L1586.82,362.03 L1588.36,361.65 L1589.91,361.2 L1591.46,360.67 L1593.01,360.07 L1594.56,359.37 L1596.11,358.56 L1597.66,357.64 L1599.21,356.59 L1600.76,355.41 L1602.3,354.06 L1603.85,352.55 L1605.4,350.86 L1606.95,348.97 L1608.5,346.87 L1610.05,344.55 L1611.6,341.99 L1613.15,339.19 L1614.7,336.13 L1616.24,332.8 L1617.79,329.2 L1619.34,325.32 L1620.89,321.16 L1622.44,316.72 L1623.99,311.99 L1625.54,307 L1627.09,301.74 L1628.64,296.22 L1630.18,290.47 L1631.73,284.5 L1633.28,278.33 L1634.83,272 L1636.38,265.52 L1637.93,258.94 L1639.48,252.29 L1641.03,245.6 L1642.58,238.92 L1644.12,232.29 L1645.67,225.74 L1647.22,219.33 L1648.77,213.1 L1650.32,207.09 L1651.87,201.33 L1653.42,195.88 L1654.97,190.77 L1656.52,186.03 L1658.06,181.69 L1659.61,177.79 L1661.16,174.34 L1662.71,171.36 L1664.26,168.86 L1665.81,166.85 L1667.36,165.32 L1668.91,164.28 L1670.46,163.68 L1672,163.5 L1673.55,163.65 L1675.1,164.21 L1676.65,165.22 L1678.2,166.71 L1679.75,168.68 L1681.3,171.14 L1682.85,174.08 L1684.4,177.5 L1685.94,181.36 L1687.49,185.67 L1689.04,190.38 L1690.59,195.46 L1692.14,200.89 L1693.69,206.62 L1695.24,212.61 L1696.79,218.83 L1698.34,225.22 L1699.88,231.76 L1701.43,238.39 L1702.98,245.07 L1704.53,251.75 L1706.08,258.41 L1707.63,265 L1709.18,271.48 L1710.73,277.83 L1712.28,284.01 L1713.82,290 L1715.37,295.77 L1716.92,301.3 L1718.47,306.59 L1720.02,311.6 L1721.57,316.35 L1723.12,320.82 L1724.67,325 L1726.22,328.9 L1727.76,332.52 L1729.31,335.87 L1730.86,338.95 L1732.41,341.78 L1733.96,344.35 L1735.51,346.69 L1737.06,348.81 L1738.61,350.71 L1740.16,352.42 L1741.7,353.95 L1743.25,355.3 L1744.8,356.5 L1746.35,357.56 L1747.9,358.49 L1749.45,359.31 L1751,360.01 L1752.55,360.63 L1754.1,361.16 L1755.64,361.61 L1757.19,362 L1758.74,362.34 L1760.29,362.62 L1761.84,362.86 L1763.39,363.06 L1764.94,363.23 L1766.49,363.37 L1768.04,363.48 L1769.58,363.58 L1771.13,363.66 L1772.68,363.73 L1774.23,363.78 L1775.78,363.83 L1777.33,363.86 L1778.88,363.89 L1780.43,363.91 L1781.98,363.93 L1783.52,363.95 L1785.07,363.96 L1786.62,363.97 L1788.17,363.97 L1789.72,363.98 L1791.27,363.99 L1792.82,363.99 L1794.37,363.99 L1795.92,363.99 L1797.46,364 L1799.01,364 L1800.56,364 L1802.11,364 L1803.66,364 L1805.21,364 L1806.76,364 L1808.31,364 L1809.86,364 L1811.4,364 L1812.95,364 L1814.5,364 L1816.05,364 L1817.6,364 L1819.15,364 L1820.7,364 L1822.25,364 L1823.8,364 L1825.34,364 L1826.89,364 L1828.44,364 L1829.99,364 L1831.54,364 L1833.09,364 L1834.64,364 L1836.19,364 L1837.74,364 L1839.28,364 L1840.83,364" stroke="#E87D86" stroke-width="7.8"/>
<path d="M1469.1,364 L1840.83,364 M1469.1,363.83 L1470.65,363.79 L1472.2,363.74 L1473.75,363.67 L1475.3,363.59 L1476.84,363.48 L1478.39,363.36 L1479.94,363.21 L1481.49,363.03 L1483.04,362.82 L1484.59,362.56 L1486.14,362.25 L1487.69,361.88 L1489.24,361.45 L1490.78,360.94 L1492.33,360.35 L1493.88,359.66 L1495.43,358.86 L1496.98,357.94 L1498.53,356.88 L1500.08,355.67 L1501.63,354.29 L1503.18,352.73 L1504.72,350.97 L1506.27,349 L1507.82,346.79 L1509.37,344.33 L1510.92,341.61 L1512.47,338.62 L1514.02,335.34 L1515.57,331.75 L1517.12,327.86 L1518.66,323.65 L1520.21,319.12 L1521.76,314.28 L1523.31,309.12 L1524.86,303.64 L1526.41,297.88 L1527.96,291.82 L1529.51,285.51 L1531.06,278.96 L1532.6,272.19 L1534.15,265.24 L1535.7,258.16 L1537.25,250.97 L1538.8,243.71 L1540.35,236.45 L1541.9,229.22 L1543.45,222.07 L1545,215.06 L1546.54,208.23 L1548.09,201.64 L1549.64,195.33 L1551.19,189.36 L1552.74,183.77 L1554.29,178.59 L1555.84,173.88 L1557.39,169.64 L1558.94,165.93 L1560.48,162.74 L1562.03,160.11 L1563.58,158.02 L1565.13,156.48 L1566.68,155.48 L1568.23,154.98 L1569.78,154.92 L1571.33,155.25 L1572.88,156.06 L1574.42,157.4 L1575.97,159.29 L1577.52,161.73 L1579.07,164.72 L1580.62,168.25 L1582.17,172.29 L1583.72,176.84 L1585.27,181.86 L1586.82,187.3 L1588.36,193.14 L1589.91,199.33 L1591.46,205.83 L1593.01,212.58 L1594.56,219.53 L1596.11,226.63 L1597.66,233.84 L1599.21,241.1 L1600.76,248.36 L1602.3,255.58 L1603.85,262.71 L1605.4,269.71 L1606.95,276.54 L1608.5,283.18 L1610.05,289.58 L1611.6,295.73 L1613.15,301.6 L1614.7,307.18 L1616.24,312.46 L1617.79,317.42 L1619.34,322.06 L1620.89,326.38 L1622.44,330.39 L1623.99,334.08 L1625.54,337.47 L1627.09,340.57 L1628.64,343.39 L1630.18,345.93 L1631.73,348.23 L1633.28,350.29 L1634.83,352.12 L1636.38,353.75 L1637.93,355.19 L1639.48,356.46 L1641.03,357.58 L1642.58,358.55 L1644.12,359.39 L1645.67,360.12 L1647.22,360.74 L1648.77,361.28 L1650.32,361.74 L1651.87,362.12 L1653.42,362.45 L1654.97,362.73 L1656.52,362.96 L1658.06,363.15 L1659.61,363.31 L1661.16,363.44 L1662.71,363.55 L1664.26,363.64 L1665.81,363.71 L1667.36,363.77 L1668.91,363.82 L1670.46,363.86 L1672,363.89 L1673.55,363.91 L1675.1,363.93 L1676.65,363.95 L1678.2,363.96 L1679.75,363.97 L1681.3,363.98 L1682.85,363.98 L1684.4,363.99 L1685.94,363.99 L1687.49,363.99 L1689.04,363.99 L1690.59,364 L1692.14,364 L1693.69,364 L1695.24,364 L1696.79,364 L1698.34,364 L1699.88,364 L1701.43,364 L1702.98,364 L1704.53,364 L1706.08,364 L1707.63,364 L1709.18,364 L1710.73,364 L1712.28,364 L1713.82,364 L1715.37,364 L1716.92,364 L1718.47,364 L1720.02,364 L1721.57,364 L1723.12,364 L1724.67,364 L1726.22,364 L1727.76,364 L1729.31,364 L1730.86,364 L1732.41,364 L1733.96,364 L1735.51,364 L1737.06,364 L1738.61,364 L1740.16,364 L1741.7,364 L1743.25,364 L1744.8,364 L1746.35,364 L1747.9,364 L1749.45,364 L1751,364 L1752.55,364 L1754.1,364 L1755.64,364 L1757.19,364 L1758.74,364 L1760.29,364 L1761.84,364 L1763.39,364 L1764.94,364 L1766.49,364 L1768.04,364 L1769.58,364 L1771.13,364 L1772.68,364 L1774.23,364 L1775.78,364 L1777.33,364 L1778.88,364 L1780.43,364 L1781.98,364 L1783.52,364 L1785.07,364 L1786.62,364 L1788.17,364 L1789.72,364 L1791.27,364 L1792.82,364 L1794.37,364 L1795.92,364 L1797.46,364 L1799.01,364 L1800.56,364 L1802.11,364 L1803.66,364 L1805.21,364 L1806.76,364 L1808.31,364 L1809.86,364 L1811.4,364 L1812.95,364 L1814.5,364 L1816.05,364 L1817.6,364 L1819.15,364 L1820.7,364 L1822.25,364 L1823.8,364 L1825.34,364 L1826.89,364 L1828.44,364 L1829.99,364 L1831.54,364 L1833.09,364 L1834.64,364 L1836.19,364 L1837.74,364 L1839.28,364 L1840.83,364" stroke="#5A8785" stroke-width="7.8"/>
<path d="M1469.1,364 L1840.83,364 M1469.1,363.99 L1470.65,363.99 L1472.2,363.99 L1473.75,363.99 L1475.3,363.98 L1476.84,363.98 L1478.39,363.97 L1479.94,363.96 L1481.49,363.95 L1483.04,363.93 L1484.59,363.91 L1486.14,363.88 L1487.69,363.85 L1489.24,363.81 L1490.78,363.75 L1492.33,363.69 L1493.88,363.61 L1495.43,363.51 L1496.98,363.38 L1498.53,363.23 L1500.08,363.04 L1501.63,362.82 L1503.18,362.55 L1504.72,362.23 L1506.27,361.84 L1507.82,361.38 L1509.37,360.84 L1510.92,360.2 L1512.47,359.45 L1514.02,358.58 L1515.57,357.56 L1517.12,356.4 L1518.66,355.06 L1520.21,353.53 L1521.76,351.8 L1523.31,349.83 L1524.86,347.63 L1526.41,345.15 L1527.96,342.4 L1529.51,339.35 L1531.06,335.99 L1532.6,332.3 L1534.15,328.27 L1535.7,323.91 L1537.25,319.19 L1538.8,314.13 L1540.35,308.72 L1541.9,302.98 L1543.45,296.91 L1545,290.54 L1546.54,283.88 L1548.09,276.97 L1549.64,269.83 L1551.19,262.52 L1552.74,255.06 L1554.29,247.51 L1555.84,239.91 L1557.39,232.32 L1558.94,224.8 L1560.48,217.4 L1562.03,210.19 L1563.58,203.21 L1565.13,196.53 L1566.68,190.2 L1568.23,184.27 L1569.78,178.79 L1571.33,173.8 L1572.88,169.34 L1574.42,165.44 L1575.97,162.13 L1577.52,159.41 L1579.07,157.29 L1580.62,155.77 L1582.17,154.83 L1583.72,154.43 L1585.27,154.47 L1586.82,154.98 L1588.36,156.03 L1589.91,157.67 L1591.46,159.9 L1593.01,162.74 L1594.56,166.18 L1596.11,170.19 L1597.66,174.76 L1599.21,179.85 L1600.76,185.42 L1602.3,191.43 L1603.85,197.84 L1605.4,204.58 L1606.95,211.61 L1608.5,218.87 L1610.05,226.3 L1611.6,233.84 L1613.15,241.43 L1614.7,249.02 L1616.24,256.56 L1617.79,263.99 L1619.34,271.28 L1620.89,278.37 L1622.44,285.23 L1623.99,291.83 L1625.54,298.15 L1627.09,304.15 L1628.64,309.83 L1630.18,315.17 L1631.73,320.16 L1633.28,324.81 L1634.83,329.11 L1636.38,333.06 L1637.93,336.68 L1639.48,339.98 L1641.03,342.97 L1642.58,345.67 L1644.12,348.09 L1645.67,350.25 L1647.22,352.16 L1648.77,353.85 L1650.32,355.34 L1651.87,356.65 L1653.42,357.78 L1654.97,358.76 L1656.52,359.61 L1658.06,360.33 L1659.61,360.95 L1661.16,361.48 L1662.71,361.92 L1664.26,362.3 L1665.81,362.61 L1667.36,362.87 L1668.91,363.08 L1670.46,363.26 L1672,363.41 L1673.55,363.53 L1675.1,363.62 L1676.65,363.7 L1678.2,363.77 L1679.75,363.82 L1681.3,363.86 L1682.85,363.89 L1684.4,363.91 L1685.94,363.93 L1687.49,363.95 L1689.04,363.96 L1690.59,363.97 L1692.14,363.98 L1693.69,363.98 L1695.24,363.99 L1696.79,363.99 L1698.34,363.99 L1699.88,363.99 L1701.43,364 L1702.98,364 L1704.53,364 L1706.08,364 L1707.63,364 L1709.18,364 L1710.73,364 L1712.28,364 L1713.82,364 L1715.37,364 L1716.92,364 L1718.47,364 L1720.02,364 L1721.57,364 L1723.12,364 L1724.67,364 L1726.22,364 L1727.76,364 L1729.31,364 L1730.86,364 L1732.41,364 L1733.96,364 L1735.51,364 L1737.06,364 L1738.61,364 L1740.16,364 L1741.7,364 L1743.25,364 L1744.8,364 L1746.35,364 L1747.9,364 L1749.45,364 L1751,364 L1752.55,364 L1754.1,364 L1755.64,364 L1757.19,364 L1758.74,364 L1760.29,364 L1761.84,364 L1763.39,364 L1764.94,364 L1766.49,364 L1768.04,364 L1769.58,364 L1771.13,364 L1772.68,364 L1774.23,364 L1775.78,364 L1777.33,364 L1778.88,364 L1780.43,364 L1781.98,364 L1783.52,364 L1785.07,364 L1786.62,364 L1788.17,364 L1789.72,364 L1791.27,364 L1792.82,364 L1794.37,364 L1795.92,364 L1797.46,364 L1799.01,364 L1800.56,364 L1802.11,364 L1803.66,364 L1805.21,364 L1806.76,364 L1808.31,364 L1809.86,364 L1811.4,364 L1812.95,364 L1814.5,364 L1816.05,364 L1817.6,364 L1819.15,364 L1820.7,364 L1822.25,364 L1823.8,364 L1825.34,364 L1826.89,364 L1828.44,364 L1829.99,364 L1831.54,364 L1833.09,364 L1834.64,364 L1836.19,364 L1837.74,364 L1839.28,364 L1840.83,364" stroke="#EAD5A8" stroke-width="7.8"/>
<path d="M1469.1,364 L1840.83,364 M1469.1,363.8 L1470.65,363.75 L1472.2,363.68 L1473.75,363.6 L1475.3,363.51 L1476.84,363.39 L1478.39,363.24 L1479.94,363.07 L1481.49,362.86 L1483.04,362.61 L1484.59,362.31 L1486.14,361.96 L1487.69,361.54 L1489.24,361.05 L1490.78,360.48 L1492.33,359.81 L1493.88,359.03 L1495.43,358.13 L1496.98,357.1 L1498.53,355.92 L1500.08,354.58 L1501.63,353.05 L1503.18,351.33 L1504.72,349.39 L1506.27,347.23 L1507.82,344.82 L1509.37,342.15 L1510.92,339.21 L1512.47,335.98 L1514.02,332.45 L1515.57,328.61 L1517.12,324.45 L1518.66,319.98 L1520.21,315.19 L1521.76,310.07 L1523.31,304.65 L1524.86,298.92 L1526.41,292.91 L1527.96,286.63 L1529.51,280.1 L1531.06,273.35 L1532.6,266.41 L1534.15,259.33 L1535.7,252.13 L1537.25,244.86 L1538.8,237.56 L1540.35,230.29 L1541.9,223.1 L1543.45,216.02 L1545,209.12 L1546.54,202.45 L1548.09,196.05 L1549.64,189.98 L1551.19,184.28 L1552.74,178.99 L1554.29,174.15 L1555.84,169.79 L1557.39,165.94 L1558.94,162.63 L1560.48,159.86 L1562.03,157.64 L1563.58,155.98 L1565.13,154.86 L1566.68,154.25 L1568.23,154.1 L1569.78,154.33 L1571.33,155.04 L1572.88,156.27 L1574.42,158.04 L1575.97,160.37 L1577.52,163.25 L1579.07,166.67 L1580.62,170.62 L1582.17,175.08 L1583.72,180.01 L1585.27,185.39 L1586.82,191.17 L1588.36,197.31 L1589.91,203.76 L1591.46,210.49 L1593.01,217.42 L1594.56,224.53 L1596.11,231.74 L1597.66,239.02 L1599.21,246.32 L1600.76,253.57 L1602.3,260.75 L1603.85,267.81 L1605.4,274.71 L1606.95,281.42 L1608.5,287.9 L1610.05,294.13 L1611.6,300.09 L1613.15,305.76 L1614.7,311.12 L1616.24,316.17 L1617.79,320.9 L1619.34,325.31 L1620.89,329.4 L1622.44,333.18 L1623.99,336.65 L1625.54,339.82 L1627.09,342.71 L1628.64,345.32 L1630.18,347.68 L1631.73,349.8 L1633.28,351.69 L1634.83,353.37 L1636.38,354.86 L1637.93,356.17 L1639.48,357.32 L1641.03,358.32 L1642.58,359.19 L1644.12,359.95 L1645.67,360.6 L1647.22,361.16 L1648.77,361.63 L1650.32,362.04 L1651.87,362.38 L1653.42,362.67 L1654.97,362.91 L1656.52,363.11 L1658.06,363.28 L1659.61,363.41 L1661.16,363.53 L1662.71,363.62 L1664.26,363.7 L1665.81,363.76 L1667.36,363.81 L1668.91,363.85 L1670.46,363.88 L1672,363.91 L1673.55,363.93 L1675.1,363.94 L1676.65,363.96 L1678.2,363.97 L1679.75,363.97 L1681.3,363.98 L1682.85,363.99 L1684.4,363.99 L1685.94,363.99 L1687.49,363.99 L1689.04,364 L1690.59,364 L1692.14,364 L1693.69,364 L1695.24,364 L1696.79,364 L1698.34,364 L1699.88,364 L1701.43,364 L1702.98,364 L1704.53,364 L1706.08,364 L1707.63,364 L1709.18,364 L1710.73,364 L1712.28,364 L1713.82,364 L1715.37,364 L1716.92,364 L1718.47,364 L1720.02,364 L1721.57,364 L1723.12,364 L1724.67,364 L1726.22,364 L1727.76,364 L1729.31,364 L1730.86,364 L1732.41,364 L1733.96,364 L1735.51,364 L1737.06,364 L1738.61,364 L1740.16,364 L1741.7,364 L1743.25,364 L1744.8,364 L1746.35,364 L1747.9,364 L1749.45,364 L1751,364 L1752.55,364 L1754.1,364 L1755.64,364 L1757.19,364 L1758.74,364 L1760.29,364 L1761.84,364 L1763.39,364 L1764.94,364 L1766.49,364 L1768.04,364 L1769.58,364 L1771.13,364 L1772.68,364 L1774.23,364 L1775.78,364 L1777.33,364 L1778.88,364 L1780.43,364 L1781.98,364 L1783.52,364 L1785.07,364 L1786.62,364 L1788.17,364 L1789.72,364 L1791.27,364 L1792.82,364 L1794.37,364 L1795.92,364 L1797.46,364 L1799.01,364 L1800.56,364 L1802.11,364 L1803.66,364 L1805.21,364 L1806.76,364 L1808.31,364 L1809.86,364 L1811.4,364 L1812.95,364 L1814.5,364 L1816.05,364 L1817.6,364 L1819.15,364 L1820.7,364 L1822.25,364 L1823.8,364 L1825.34,364 L1826.89,364 L1828.44,364 L1829.99,364 L1831.54,364 L1833.09,364 L1834.64,364 L1836.19,364 L1837.74,364 L1839.28,364 L1840.83,364" stroke="#B3C3E8" stroke-width="7.8"/>
<path d="M1469.1,364 L1840.83,364 M1469.1,363.99 L1470.65,363.99 L1472.2,363.98 L1473.75,363.98 L1475.3,363.97 L1476.84,363.96 L1478.39,363.95 L1479.94,363.93 L1481.49,363.91 L1483.04,363.88 L1484.59,363.85 L1486.14,363.81 L1487.69,363.76 L1489.24,363.7 L1490.78,363.62 L1492.33,363.53 L1493.88,363.41 L1495.43,363.27 L1496.98,363.1 L1498.53,362.9 L1500.08,362.66 L1501.63,362.37 L1503.18,362.02 L1504.72,361.61 L1506.27,361.12 L1507.82,360.56 L1509.37,359.89 L1510.92,359.12 L1512.47,358.23 L1514.02,357.21 L1515.57,356.03 L1517.12,354.69 L1518.66,353.17 L1520.21,351.45 L1521.76,349.51 L1523.31,347.34 L1524.86,344.93 L1526.41,342.24 L1527.96,339.28 L1529.51,336.03 L1531.06,332.47 L1532.6,328.6 L1534.15,324.4 L1535.7,319.88 L1537.25,315.03 L1538.8,309.86 L1540.35,304.36 L1541.9,298.56 L1543.45,292.46 L1545,286.09 L1546.54,279.47 L1548.09,272.62 L1549.64,265.58 L1551.19,258.38 L1552.74,251.07 L1554.29,243.68 L1555.84,236.28 L1557.39,228.89 L1558.94,221.59 L1560.48,214.41 L1562.03,207.41 L1563.58,200.65 L1565.13,194.17 L1566.68,188.03 L1568.23,182.26 L1569.78,176.92 L1571.33,172.04 L1572.88,167.66 L1574.42,163.8 L1575.97,160.49 L1577.52,157.74 L1579.07,155.55 L1580.62,153.93 L1582.17,152.86 L1583.72,152.31 L1585.27,152.21 L1586.82,152.54 L1588.36,153.42 L1589.91,154.89 L1591.46,156.98 L1593.01,159.69 L1594.56,163.01 L1596.11,166.93 L1597.66,171.44 L1599.21,176.49 L1600.76,182.05 L1602.3,188.08 L1603.85,194.53 L1605.4,201.34 L1606.95,208.46 L1608.5,215.82 L1610.05,223.37 L1611.6,231.05 L1613.15,238.79 L1614.7,246.55 L1616.24,254.25 L1617.79,261.86 L1619.34,269.32 L1620.89,276.58 L1622.44,283.62 L1623.99,290.39 L1625.54,296.86 L1627.09,303.02 L1628.64,308.84 L1630.18,314.32 L1631.73,319.44 L1633.28,324.2 L1634.83,328.6 L1636.38,332.64 L1637.93,336.35 L1639.48,339.72 L1641.03,342.77 L1642.58,345.52 L1644.12,347.98 L1645.67,350.18 L1647.22,352.12 L1648.77,353.84 L1650.32,355.35 L1651.87,356.66 L1653.42,357.81 L1654.97,358.79 L1656.52,359.64 L1658.06,360.37 L1659.61,360.99 L1661.16,361.52 L1662.71,361.96 L1664.26,362.33 L1665.81,362.64 L1667.36,362.9 L1668.91,363.11 L1670.46,363.29 L1672,363.43 L1673.55,363.55 L1675.1,363.64 L1676.65,363.72 L1678.2,363.78 L1679.75,363.83 L1681.3,363.87 L1682.85,363.9 L1684.4,363.92 L1685.94,363.94 L1687.49,363.95 L1689.04,363.96 L1690.59,363.97 L1692.14,363.98 L1693.69,363.98 L1695.24,363.99 L1696.79,363.99 L1698.34,363.99 L1699.88,364 L1701.43,364 L1702.98,364 L1704.53,364 L1706.08,364 L1707.63,364 L1709.18,364 L1710.73,364 L1712.28,364 L1713.82,364 L1715.37,364 L1716.92,364 L1718.47,364 L1720.02,364 L1721.57,364 L1723.12,364 L1724.67,364 L1726.22,364 L1727.76,364 L1729.31,364 L1730.86,364 L1732.41,364 L1733.96,364 L1735.51,364 L1737.06,364 L1738.61,364 L1740.16,364 L1741.7,364 L1743.25,364 L1744.8,364 L1746.35,364 L1747.9,364 L1749.45,364 L1751,364 L1752.55,364 L1754.1,364 L1755.64,364 L1757.19,364 L1758.74,364 L1760.29,364 L1761.84,364 L1763.39,364 L1764.94,364 L1766.49,364 L1768.04,364 L1769.58,364 L1771.13,364 L1772.68,364 L1774.23,364 L1775.78,364 L1777.33,364 L1778.88,364 L1780.43,364 L1781.98,364 L1783.52,364 L1785.07,364 L1786.62,364 L1788.17,364 L1789.72,364 L1791.27,364 L1792.82,364 L1794.37,364 L1795.92,364 L1797.46,364 L1799.01,364 L1800.56,364 L1802.11,364 L1803.66,364 L1805.21,364 L1806.76,364 L1808.31,364 L1809.86,364 L1811.4,364 L1812.95,364 L1814.5,364 L1816.05,364 L1817.6,364 L1819.15,364 L1820.7,364 L1822.25,364 L1823.8,364 L1825.34,364 L1826.89,364 L1828.44,364 L1829.99,364 L1831.54,364 L1833.09,364 L1834.64,364 L1836.19,364 L1837.74,364 L1839.28,364 L1840.83,364" stroke="#C69C33" stroke-width="7.8"/>
<path d="M1469.1,364 L1840.83,364 M1469.1,363.72 L1470.65,363.65 L1472.2,363.57 L1473.75,363.46 L1475.3,363.34 L1476.84,363.18 L1478.39,362.99 L1479.94,362.77 L1481.49,362.5 L1483.04,362.18 L1484.59,361.81 L1486.14,361.36 L1487.69,360.84 L1489.24,360.23 L1490.78,359.52 L1492.33,358.7 L1493.88,357.76 L1495.43,356.67 L1496.98,355.44 L1498.53,354.03 L1500.08,352.43 L1501.63,350.64 L1503.18,348.63 L1504.72,346.38 L1506.27,343.88 L1507.82,341.12 L1509.37,338.09 L1510.92,334.76 L1512.47,331.13 L1514.02,327.19 L1515.57,322.94 L1517.12,318.37 L1518.66,313.48 L1520.21,308.29 L1521.76,302.78 L1523.31,296.99 L1524.86,290.91 L1526.41,284.58 L1527.96,278.02 L1529.51,271.26 L1531.06,264.32 L1532.6,257.25 L1534.15,250.09 L1535.7,242.87 L1537.25,235.66 L1538.8,228.48 L1540.35,221.41 L1541.9,214.47 L1543.45,207.74 L1545,201.24 L1546.54,195.05 L1548.09,189.19 L1549.64,183.72 L1551.19,178.68 L1552.74,174.09 L1554.29,169.99 L1555.84,166.42 L1557.39,163.37 L1558.94,160.87 L1560.48,158.92 L1562.03,157.51 L1563.58,156.63 L1565.13,156.24 L1566.68,156.25 L1568.23,156.68 L1569.78,157.6 L1571.33,159.05 L1572.88,161.05 L1574.42,163.59 L1575.97,166.68 L1577.52,170.3 L1579.07,174.44 L1580.62,179.06 L1582.17,184.14 L1583.72,189.65 L1585.27,195.53 L1586.82,201.75 L1588.36,208.27 L1589.91,215.02 L1591.46,221.97 L1593.01,229.05 L1594.56,236.23 L1596.11,243.45 L1597.66,250.66 L1599.21,257.82 L1600.76,264.88 L1602.3,271.8 L1603.85,278.55 L1605.4,285.1 L1606.95,291.41 L1608.5,297.46 L1610.05,303.23 L1611.6,308.71 L1613.15,313.89 L1614.7,318.75 L1616.24,323.29 L1617.79,327.52 L1619.34,331.43 L1620.89,335.03 L1622.44,338.34 L1623.99,341.35 L1625.54,344.09 L1627.09,346.57 L1628.64,348.8 L1630.18,350.79 L1631.73,352.57 L1633.28,354.15 L1634.83,355.54 L1636.38,356.77 L1637.93,357.84 L1639.48,358.77 L1641.03,359.59 L1642.58,360.29 L1644.12,360.89 L1645.67,361.4 L1647.22,361.84 L1648.77,362.21 L1650.32,362.53 L1651.87,362.79 L1653.42,363.01 L1654.97,363.19 L1656.52,363.35 L1658.06,363.47 L1659.61,363.58 L1661.16,363.66 L1662.71,363.73 L1664.26,363.78 L1665.81,363.83 L1667.36,363.87 L1668.91,363.89 L1670.46,363.92 L1672,363.94 L1673.55,363.95 L1675.1,363.96 L1676.65,363.97 L1678.2,363.98 L1679.75,363.98 L1681.3,363.99 L1682.85,363.99 L1684.4,363.99 L1685.94,363.99 L1687.49,364 L1689.04,364 L1690.59,364 L1692.14,364 L1693.69,364 L1695.24,364 L1696.79,364 L1698.34,364 L1699.88,364 L1701.43,364 L1702.98,364 L1704.53,364 L1706.08,364 L1707.63,364 L1709.18,364 L1710.73,364 L1712.28,364 L1713.82,364 L1715.37,364 L1716.92,364 L1718.47,364 L1720.02,364 L1721.57,364 L1723.12,364 L1724.67,364 L1726.22,364 L1727.76,364 L1729.31,364 L1730.86,364 L1732.41,364 L1733.96,364 L1735.51,364 L1737.06,364 L1738.61,364 L1740.16,364 L1741.7,364 L1743.25,364 L1744.8,364 L1746.35,364 L1747.9,364 L1749.45,364 L1751,364 L1752.55,364 L1754.1,364 L1755.64,364 L1757.19,364 L1758.74,364 L1760.29,364 L1761.84,364 L1763.39,364 L1764.94,364 L1766.49,364 L1768.04,364 L1769.58,364 L1771.13,364 L1772.68,364 L1774.23,364 L1775.78,364 L1777.33,364 L1778.88,364 L1780.43,364 L1781.98,364 L1783.52,364 L1785.07,364 L1786.62,364 L1788.17,364 L1789.72,364 L1791.27,364 L1792.82,364 L1794.37,364 L1795.92,364 L1797.46,364 L1799.01,364 L1800.56,364 L1802.11,364 L1803.66,364 L1805.21,364 L1806.76,364 L1808.31,364 L1809.86,364 L1811.4,364 L1812.95,364 L1814.5,364 L1816.05,364 L1817.6,364 L1819.15,364 L1820.7,364 L1822.25,364 L1823.8,364 L1825.34,364 L1826.89,364 L1828.44,364 L1829.99,364 L1831.54,364 L1833.09,364 L1834.64,364 L1836.19,364 L1837.74,364 L1839.28,364 L1840.83,364" stroke="#DCF0EF" stroke-width="7.8"/>
<path d="M1469.1,364 L1840.83,364 M1469.1,363.99 L1470.65,363.99 L1472.2,363.99 L1473.75,363.98 L1475.3,363.97 L1476.84,363.97 L1478.39,363.96 L1479.94,363.94 L1481.49,363.93 L1483.04,363.91 L1484.59,363.88 L1486.14,363.85 L1487.69,363.81 L1489.24,363.76 L1490.78,363.7 L1492.33,363.62 L1493.88,363.52 L1495.43,363.41 L1496.98,363.27 L1498.53,363.1 L1500.08,362.89 L1501.63,362.64 L1503.18,362.35 L1504.72,362 L1506.27,361.59 L1507.82,361.1 L1509.37,360.53 L1510.92,359.86 L1512.47,359.09 L1514.02,358.19 L1515.57,357.16 L1517.12,355.98 L1518.66,354.63 L1520.21,353.09 L1521.76,351.36 L1523.31,349.42 L1524.86,347.24 L1526.41,344.81 L1527.96,342.11 L1529.51,339.14 L1531.06,335.87 L1532.6,332.29 L1534.15,328.4 L1535.7,324.19 L1537.25,319.65 L1538.8,314.78 L1540.35,309.59 L1541.9,304.08 L1543.45,298.26 L1545,292.15 L1546.54,285.76 L1548.09,279.12 L1549.64,272.25 L1551.19,265.2 L1552.74,257.99 L1554.29,250.67 L1555.84,243.27 L1557.39,235.86 L1558.94,228.47 L1560.48,221.16 L1562.03,213.98 L1563.58,206.99 L1565.13,200.23 L1566.68,193.76 L1568.23,187.62 L1569.78,181.87 L1571.33,176.54 L1572.88,171.68 L1574.42,167.31 L1575.97,163.47 L1577.52,160.18 L1579.07,157.45 L1580.62,155.28 L1582.17,153.68 L1583.72,152.63 L1585.27,152.1 L1586.82,152.01 L1588.36,152.37 L1589.91,153.27 L1591.46,154.77 L1593.01,156.88 L1594.56,159.61 L1596.11,162.96 L1597.66,166.92 L1599.21,171.45 L1600.76,176.53 L1602.3,182.12 L1603.85,188.17 L1605.4,194.64 L1606.95,201.47 L1608.5,208.6 L1610.05,215.98 L1611.6,223.54 L1613.15,231.23 L1614.7,238.99 L1616.24,246.75 L1617.79,254.46 L1619.34,262.06 L1620.89,269.52 L1622.44,276.79 L1623.99,283.82 L1625.54,290.58 L1627.09,297.05 L1628.64,303.2 L1630.18,309.02 L1631.73,314.48 L1633.28,319.59 L1634.83,324.34 L1636.38,328.73 L1637.93,332.77 L1639.48,336.46 L1641.03,339.82 L1642.58,342.87 L1644.12,345.61 L1645.67,348.06 L1647.22,350.25 L1648.77,352.18 L1650.32,353.89 L1651.87,355.39 L1653.42,356.7 L1654.97,357.84 L1656.52,358.83 L1658.06,359.67 L1659.61,360.4 L1661.16,361.01 L1662.71,361.53 L1664.26,361.97 L1665.81,362.34 L1667.36,362.65 L1668.91,362.91 L1670.46,363.12 L1672,363.29 L1673.55,363.43 L1675.1,363.55 L1676.65,363.64 L1678.2,363.72 L1679.75,363.78 L1681.3,363.83 L1682.85,363.87 L1684.4,363.9 L1685.94,363.92 L1687.49,363.94 L1689.04,363.95 L1690.59,363.96 L1692.14,363.97 L1693.69,363.98 L1695.24,363.98 L1696.79,363.99 L1698.34,363.99 L1699.88,363.99 L1701.43,364 L1702.98,364 L1704.53,364 L1706.08,364 L1707.63,364 L1709.18,364 L1710.73,364 L1712.28,364 L1713.82,364 L1715.37,364 L1716.92,364 L1718.47,364 L1720.02,364 L1721.57,364 L1723.12,364 L1724.67,364 L1726.22,364 L1727.76,364 L1729.31,364 L1730.86,364 L1732.41,364 L1733.96,364 L1735.51,364 L1737.06,364 L1738.61,364 L1740.16,364 L1741.7,364 L1743.25,364 L1744.8,364 L1746.35,364 L1747.9,364 L1749.45,364 L1751,364 L1752.55,364 L1754.1,364 L1755.64,364 L1757.19,364 L1758.74,364 L1760.29,364 L1761.84,364 L1763.39,364 L1764.94,364 L1766.49,364 L1768.04,364 L1769.58,364 L1771.13,364 L1772.68,364 L1774.23,364 L1775.78,364 L1777.33,364 L1778.88,364 L1780.43,364 L1781.98,364 L1783.52,364 L1785.07,364 L1786.62,364 L1788.17,364 L1789.72,364 L1791.27,364 L1792.82,364 L1794.37,364 L1795.92,364 L1797.46,364 L1799.01,364 L1800.56,364 L1802.11,364 L1803.66,364 L1805.21,364 L1806.76,364 L1808.31,364 L1809.86,364 L1811.4,364 L1812.95,364 L1814.5,364 L1816.05,364 L1817.6,364 L1819.15,364 L1820.7,364 L1822.25,364 L1823.8,364 L1825.34,364 L1826.89,364 L1828.44,364 L1829.99,364 L1831.54,364 L1833.09,364 L1834.64,364 L1836.19,364 L1837.74,364 L1839.28,364 L1840.83,364" stroke="#82CBB2" stroke-width="7.8"/>
</g>
<g stroke="#0c0c0c" stroke-width="3.5" fill="none" stroke-linecap="butt">
<rect x="1469.10" y="38.35" width="557.60" height="326.45"/>
<line x1="1469.10" y1="364.80" x2="1469.10" y2="372.50"/>
<line x1="1562.03" y1="364.80" x2="1562.03" y2="372.50"/>
<line x1="1654.97" y1="364.80" x2="1654.97" y2="372.50"/>
<line x1="1747.90" y1="364.80" x2="1747.90" y2="372.50"/>
<line x1="1840.83" y1="364.80" x2="1840.83" y2="372.50"/>
<line x1="1933.77" y1="364.80" x2="1933.77" y2="372.50"/>
<line x1="2026.70" y1="364.80" x2="2026.70" y2="372.50"/>
<line x1="1461.40" y1="38.35" x2="1469.10" y2="38.35"/>
<line x1="1461.40" y1="119.96" x2="1469.10" y2="119.96"/>
<line x1="1461.40" y1="201.58" x2="1469.10" y2="201.58"/>
<line x1="1461.40" y1="283.19" x2="1469.10" y2="283.19"/>
<line x1="1461.40" y1="364.80" x2="1469.10" y2="364.80"/>
</g>
<g font-family="'Liberation Sans', Arial, sans-serif" font-size="28.8" fill="#1c1a1b">
<text x="1461.47" y="401.30">0</text>
<text x="1553.65" y="401.30">1</text>
<text x="1646.97" y="401.30">2</text>
<text x="1739.98" y="401.30">3</text>
<text x="1832.91" y="401.30">4</text>
<text x="1925.77" y="401.30">5</text>
<text x="2018.60" y="401.30">6</text>
<text x="1417.95" y="45.30">2.0</text>
<text x="1418.02" y="129.20">1.5</text>
<text x="1417.95" y="212.00">1.0</text>
<text x="1418.02" y="293.40">0.5</text>
<text x="1436.90" y="371.90">0</text>
</g>
<text x="1487.93" y="87.40" font-family="'Liberation Sans', Arial, sans-serif" font-weight="bold" font-size="33.4" fill="#1c1a1b">(g)</text>
</g>
<g id="panel-b">
<g clip-path="url(#cpb)" fill="none" stroke-linejoin="round" stroke-linecap="butt">
<path d="M130.05,754.3 L688.3,754.3 M130.05,754.05 L132.38,754.02 L134.7,754 L137.03,753.97 L139.35,753.94 L141.68,753.9 L144.01,753.86 L146.33,753.82 L148.66,753.78 L150.98,753.73 L153.31,753.68 L155.64,753.62 L157.96,753.56 L160.29,753.5 L162.61,753.43 L164.94,753.35 L167.27,753.27 L169.59,753.18 L171.92,753.08 L174.24,752.97 L176.57,752.86 L178.9,752.74 L181.22,752.61 L183.55,752.47 L185.88,752.32 L188.2,752.16 L190.53,751.99 L192.85,751.8 L195.18,751.6 L197.51,751.39 L199.83,751.17 L202.16,750.92 L204.48,750.66 L206.81,750.39 L209.14,750.09 L211.46,749.78 L213.79,749.45 L216.11,749.09 L218.44,748.72 L220.77,748.32 L223.09,747.89 L225.42,747.44 L227.74,746.96 L230.07,746.46 L232.4,745.92 L234.72,745.35 L237.05,744.76 L239.37,744.13 L241.7,743.46 L244.03,742.76 L246.35,742.02 L248.68,741.24 L251,740.43 L253.33,739.57 L255.66,738.67 L257.98,737.72 L260.31,736.73 L262.63,735.69 L264.96,734.61 L267.29,733.48 L269.61,732.29 L271.94,731.06 L274.26,729.77 L276.59,728.43 L278.92,727.03 L281.24,725.58 L283.57,724.08 L285.89,722.51 L288.22,720.89 L290.55,719.21 L292.87,717.48 L295.2,715.68 L297.52,713.82 L299.85,711.91 L302.18,709.94 L304.5,707.91 L306.83,705.82 L309.16,703.67 L311.48,701.47 L313.81,699.21 L316.13,696.9 L318.46,694.53 L320.79,692.12 L323.11,689.65 L325.44,687.13 L327.76,684.57 L330.09,681.97 L332.42,679.33 L334.74,676.65 L337.07,673.93 L339.39,671.19 L341.72,668.41 L344.05,665.62 L346.37,662.8 L348.7,659.97 L351.02,657.13 L353.35,654.28 L355.68,651.43 L358,648.58 L360.33,645.75 L362.65,642.93 L364.98,640.13 L367.31,637.36 L369.63,634.62 L371.96,631.92 L374.28,629.27 L376.61,626.67 L378.94,624.13 L381.26,621.66 L383.59,619.26 L385.91,616.94 L388.24,614.71 L390.57,612.57 L392.89,610.54 L395.22,608.61 L397.54,606.81 L399.87,605.13 L402.2,603.58 L404.52,602.17 L406.85,600.92 L409.18,599.82 L411.5,598.9 L413.83,598.15 L416.15,597.6 L418.48,597.27 L420.81,597.22 L423.13,597.44 L425.46,597.87 L427.78,598.48 L430.11,599.27 L432.44,600.22 L434.76,601.33 L437.09,602.59 L439.41,603.99 L441.74,605.52 L444.07,607.18 L446.39,608.97 L448.72,610.87 L451.04,612.87 L453.37,614.98 L455.7,617.18 L458.02,619.47 L460.35,621.84 L462.67,624.29 L465,626.8 L467.33,629.37 L469.65,632 L471.98,634.68 L474.3,637.39 L476.63,640.15 L478.96,642.93 L481.28,645.74 L483.61,648.56 L485.93,651.4 L488.26,654.24 L490.59,657.08 L492.91,659.92 L495.24,662.75 L497.56,665.57 L499.89,668.38 L502.22,671.16 L504.54,673.91 L506.87,676.63 L509.19,679.33 L511.52,681.98 L513.85,684.6 L516.17,687.18 L518.5,689.71 L520.83,692.19 L523.15,694.62 L525.48,697.01 L527.8,699.34 L530.13,701.61 L532.46,703.83 L534.78,706 L537.11,708.1 L539.43,710.15 L541.76,712.14 L544.09,714.07 L546.41,715.94 L548.74,717.75 L551.06,719.5 L553.39,721.19 L555.72,722.83 L558.04,724.4 L560.37,725.92 L562.69,727.38 L565.02,728.78 L567.35,730.13 L569.67,731.43 L572,732.67 L574.32,733.85 L576.65,734.99 L578.98,736.08 L581.3,737.12 L583.63,738.11 L585.95,739.05 L588.28,739.95 L590.61,740.81 L592.93,741.62 L595.26,742.4 L597.58,743.13 L599.91,743.83 L602.24,744.49 L604.56,745.11 L606.89,745.7 L609.21,746.26 L611.54,746.79 L613.87,747.29 L616.19,747.76 L618.52,748.2 L620.84,748.62 L623.17,749.01 L625.5,749.38 L627.82,749.72 L630.15,750.05 L632.48,750.35 L634.8,750.64 L637.13,750.9 L639.45,751.15 L641.78,751.39 L644.11,751.61 L646.43,751.81 L648.76,752 L651.08,752.17 L653.41,752.34 L655.74,752.49 L658.06,752.63 L660.39,752.77 L662.71,752.89 L665.04,753 L667.37,753.11 L669.69,753.2 L672.02,753.29 L674.34,753.38 L676.67,753.46 L679,753.53 L681.32,753.59 L683.65,753.65 L685.97,753.71 L688.3,753.76" stroke="#CC6730" stroke-width="8.0"/>
<path d="M130.05,754.3 L688.3,754.3 M130.05,753.6 L132.38,753.53 L134.7,753.47 L137.03,753.4 L139.35,753.32 L141.68,753.24 L144.01,753.15 L146.33,753.05 L148.66,752.94 L150.98,752.83 L153.31,752.71 L155.64,752.58 L157.96,752.45 L160.29,752.3 L162.61,752.14 L164.94,751.97 L167.27,751.78 L169.59,751.59 L171.92,751.38 L174.24,751.16 L176.57,750.92 L178.9,750.67 L181.22,750.39 L183.55,750.11 L185.88,749.8 L188.2,749.47 L190.53,749.12 L192.85,748.75 L195.18,748.36 L197.51,747.94 L199.83,747.5 L202.16,747.03 L204.48,746.53 L206.81,746.01 L209.14,745.45 L211.46,744.86 L213.79,744.24 L216.11,743.59 L218.44,742.9 L220.77,742.17 L223.09,741.4 L225.42,740.59 L227.74,739.74 L230.07,738.85 L232.4,737.92 L234.72,736.93 L237.05,735.9 L239.37,734.82 L241.7,733.69 L244.03,732.51 L246.35,731.28 L248.68,729.99 L251,728.64 L253.33,727.24 L255.66,725.78 L257.98,724.25 L260.31,722.67 L262.63,721.03 L264.96,719.32 L267.29,717.55 L269.61,715.72 L271.94,713.82 L274.26,711.85 L276.59,709.82 L278.92,707.72 L281.24,705.56 L283.57,703.33 L285.89,701.04 L288.22,698.68 L290.55,696.25 L292.87,693.76 L295.2,691.21 L297.52,688.6 L299.85,685.92 L302.18,683.19 L304.5,680.4 L306.83,677.55 L309.16,674.66 L311.48,671.71 L313.81,668.72 L316.13,665.68 L318.46,662.61 L320.79,659.49 L323.11,656.35 L325.44,653.18 L327.76,649.98 L330.09,646.77 L332.42,643.54 L334.74,640.31 L337.07,637.07 L339.39,633.84 L341.72,630.62 L344.05,627.42 L346.37,624.24 L348.7,621.09 L351.02,617.98 L353.35,614.92 L355.68,611.91 L358,608.97 L360.33,606.09 L362.65,603.3 L364.98,600.59 L367.31,597.99 L369.63,595.49 L371.96,593.11 L374.28,590.85 L376.61,588.74 L378.94,586.77 L381.26,584.96 L383.59,583.33 L385.91,581.89 L388.24,580.64 L390.57,579.62 L392.89,578.84 L395.22,578.34 L397.54,578.2 L399.87,578.32 L402.2,578.61 L404.52,579.08 L406.85,579.76 L409.18,580.65 L411.5,581.75 L413.83,583.06 L416.15,584.57 L418.48,586.3 L420.81,588.24 L423.13,590.38 L425.46,592.72 L427.78,595.25 L430.11,597.96 L432.44,600.85 L434.76,603.9 L437.09,607.11 L439.41,610.47 L441.74,613.95 L444.07,617.56 L446.39,621.28 L448.72,625.1 L451.04,629 L453.37,632.97 L455.7,637 L458.02,641.08 L460.35,645.18 L462.67,649.31 L465,653.43 L467.33,657.56 L469.65,661.66 L471.98,665.73 L474.3,669.76 L476.63,673.75 L478.96,677.66 L481.28,681.51 L483.61,685.28 L485.93,688.97 L488.26,692.56 L490.59,696.05 L492.91,699.44 L495.24,702.71 L497.56,705.88 L499.89,708.92 L502.22,711.85 L504.54,714.66 L506.87,717.34 L509.19,719.91 L511.52,722.35 L513.85,724.66 L516.17,726.86 L518.5,728.94 L520.83,730.91 L523.15,732.75 L525.48,734.49 L527.8,736.12 L530.13,737.65 L532.46,739.07 L534.78,740.4 L537.11,741.63 L539.43,742.78 L541.76,743.84 L544.09,744.82 L546.41,745.72 L548.74,746.55 L551.06,747.32 L553.39,748.02 L555.72,748.66 L558.04,749.24 L560.37,749.77 L562.69,750.26 L565.02,750.7 L567.35,751.09 L569.67,751.45 L572,751.77 L574.32,752.06 L576.65,752.32 L578.98,752.56 L581.3,752.77 L583.63,752.95 L585.95,753.12 L588.28,753.27 L590.61,753.4 L592.93,753.51 L595.26,753.62 L597.58,753.71 L599.91,753.78 L602.24,753.85 L604.56,753.91 L606.89,753.97 L609.21,754.01 L611.54,754.05 L613.87,754.09 L616.19,754.12 L618.52,754.15 L620.84,754.17 L623.17,754.19 L625.5,754.21 L627.82,754.22 L630.15,754.23 L632.48,754.24 L634.8,754.25 L637.13,754.26 L639.45,754.27 L641.78,754.27 L644.11,754.28 L646.43,754.28 L648.76,754.28 L651.08,754.29 L653.41,754.29 L655.74,754.29 L658.06,754.29 L660.39,754.29 L662.71,754.29 L665.04,754.3 L667.37,754.3 L669.69,754.3 L672.02,754.3 L674.34,754.3 L676.67,754.3 L679,754.3 L681.32,754.3 L683.65,754.3 L685.97,754.3 L688.3,754.3" stroke="#69B3A4" stroke-width="8.0"/>
<path d="M130.05,754.3 L688.3,754.3 M130.05,754.3 L132.38,754.3 L134.7,754.3 L137.03,754.3 L139.35,754.3 L141.68,754.3 L144.01,754.3 L146.33,754.3 L148.66,754.3 L150.98,754.3 L153.31,754.3 L155.64,754.3 L157.96,754.3 L160.29,754.3 L162.61,754.3 L164.94,754.3 L167.27,754.3 L169.59,754.3 L171.92,754.3 L174.24,754.3 L176.57,754.3 L178.9,754.3 L181.22,754.3 L183.55,754.3 L185.88,754.3 L188.2,754.3 L190.53,754.29 L192.85,754.29 L195.18,754.29 L197.51,754.29 L199.83,754.29 L202.16,754.28 L204.48,754.28 L206.81,754.28 L209.14,754.27 L211.46,754.26 L213.79,754.26 L216.11,754.25 L218.44,754.23 L220.77,754.22 L223.09,754.2 L225.42,754.19 L227.74,754.16 L230.07,754.14 L232.4,754.1 L234.72,754.07 L237.05,754.02 L239.37,753.97 L241.7,753.91 L244.03,753.84 L246.35,753.76 L248.68,753.67 L251,753.57 L253.33,753.44 L255.66,753.3 L257.98,753.14 L260.31,752.95 L262.63,752.74 L264.96,752.5 L267.29,752.23 L269.61,751.92 L271.94,751.57 L274.26,751.18 L276.59,750.74 L278.92,750.24 L281.24,749.69 L283.57,749.07 L285.89,748.39 L288.22,747.63 L290.55,746.79 L292.87,745.86 L295.2,744.84 L297.52,743.73 L299.85,742.5 L302.18,741.16 L304.5,739.7 L306.83,738.12 L309.16,736.4 L311.48,734.54 L313.81,732.54 L316.13,730.39 L318.46,728.08 L320.79,725.61 L323.11,722.98 L325.44,720.18 L327.76,717.21 L330.09,714.06 L332.42,710.74 L334.74,707.25 L337.07,703.58 L339.39,699.74 L341.72,695.74 L344.05,691.57 L346.37,687.24 L348.7,682.77 L351.02,678.15 L353.35,673.4 L355.68,668.53 L358,663.55 L360.33,658.48 L362.65,653.33 L364.98,648.12 L367.31,642.85 L369.63,637.56 L371.96,632.26 L374.28,626.97 L376.61,621.71 L378.94,616.5 L381.26,611.36 L383.59,606.31 L385.91,601.37 L388.24,596.57 L390.57,591.92 L392.89,587.44 L395.22,583.15 L397.54,579.08 L399.87,575.22 L402.2,571.61 L404.52,568.26 L406.85,565.17 L409.18,562.37 L411.5,559.85 L413.83,557.62 L416.15,555.69 L418.48,554.07 L420.81,552.74 L423.13,551.71 L425.46,550.98 L427.78,550.52 L430.11,550.32 L432.44,550.33 L434.76,550.54 L437.09,551 L439.41,551.72 L441.74,552.72 L444.07,553.99 L446.39,555.55 L448.72,557.39 L451.04,559.51 L453.37,561.9 L455.7,564.57 L458.02,567.5 L460.35,570.69 L462.67,574.12 L465,577.78 L467.33,581.66 L469.65,585.74 L471.98,590.01 L474.3,594.44 L476.63,599.03 L478.96,603.75 L481.28,608.59 L483.61,613.53 L485.93,618.54 L488.26,623.61 L490.59,628.72 L492.91,633.85 L495.24,638.99 L497.56,644.11 L499.89,649.2 L502.22,654.25 L504.54,659.23 L506.87,664.13 L509.19,668.95 L511.52,673.66 L513.85,678.25 L516.17,682.73 L518.5,687.07 L520.83,691.27 L523.15,695.32 L525.48,699.22 L527.8,702.97 L530.13,706.55 L532.46,709.97 L534.78,713.23 L537.11,716.32 L539.43,719.26 L541.76,722.03 L544.09,724.64 L546.41,727.09 L548.74,729.39 L551.06,731.55 L553.39,733.56 L555.72,735.43 L558.04,737.17 L560.37,738.78 L562.69,740.26 L565.02,741.63 L567.35,742.89 L569.67,744.05 L572,745.11 L574.32,746.08 L576.65,746.96 L578.98,747.76 L581.3,748.48 L583.63,749.14 L585.95,749.73 L588.28,750.26 L590.61,750.74 L592.93,751.17 L595.26,751.55 L597.58,751.89 L599.91,752.19 L602.24,752.46 L604.56,752.7 L606.89,752.91 L609.21,753.1 L611.54,753.26 L613.87,753.4 L616.19,753.53 L618.52,753.63 L620.84,753.73 L623.17,753.81 L625.5,753.88 L627.82,753.95 L630.15,754 L632.48,754.04 L634.8,754.08 L637.13,754.12 L639.45,754.15 L641.78,754.17 L644.11,754.19 L646.43,754.21 L648.76,754.22 L651.08,754.24 L653.41,754.25 L655.74,754.26 L658.06,754.26 L660.39,754.27 L662.71,754.28 L665.04,754.28 L667.37,754.28 L669.69,754.29 L672.02,754.29 L674.34,754.29 L676.67,754.29 L679,754.29 L681.32,754.3 L683.65,754.3 L685.97,754.3 L688.3,754.3" stroke="#B8E6DC" stroke-width="8.0"/>
</g>
<g stroke="#0c0c0c" stroke-width="3.5" fill="none" stroke-linecap="butt">
<rect x="130.05" y="430.20" width="558.25" height="325.80"/>
<line x1="167.27" y1="756.00" x2="167.27" y2="763.70"/>
<line x1="241.70" y1="756.00" x2="241.70" y2="763.70"/>
<line x1="316.13" y1="756.00" x2="316.13" y2="763.70"/>
<line x1="390.57" y1="756.00" x2="390.57" y2="763.70"/>
<line x1="465.00" y1="756.00" x2="465.00" y2="763.70"/>
<line x1="539.43" y1="756.00" x2="539.43" y2="763.70"/>
<line x1="613.87" y1="756.00" x2="613.87" y2="763.70"/>
<line x1="688.30" y1="756.00" x2="688.30" y2="763.70"/>
<line x1="122.35" y1="430.20" x2="130.05" y2="430.20"/>
<line x1="122.35" y1="511.65" x2="130.05" y2="511.65"/>
<line x1="122.35" y1="593.10" x2="130.05" y2="593.10"/>
<line x1="122.35" y1="674.55" x2="130.05" y2="674.55"/>
<line x1="122.35" y1="756.00" x2="130.05" y2="756.00"/>
</g>
<g font-family="'Liberation Sans', Arial, sans-serif" font-size="28.8" fill="#1c1a1b">
<text x="134.66" y="791.20">1060</text>
<text x="207.46" y="791.20">1080</text>
<text x="288.30" y="791.20">1100</text>
<text x="360.70" y="791.20">1120</text>
<text x="435.20" y="791.20">1140</text>
<text x="510.40" y="791.20">1160</text>
<text x="583.90" y="791.20">1180</text>
<text x="658.16" y="791.20">1200</text>
<text x="63.88" y="442.10">0.04</text>
<text x="64.31" y="522.70">0.03</text>
<text x="64.52" y="602.00">0.02</text>
<text x="64.45" y="685.90">0.01</text>
<text x="95.90" y="763.20">0</text>
</g>
<text x="150.13" y="479.30" font-family="'Liberation Sans', Arial, sans-serif" font-weight="bold" font-size="33.4" fill="#1c1a1b">(b) Type2 cpx</text>
</g>
<g id="panel-e">
<g clip-path="url(#cpe)" fill="none" stroke-linejoin="round" stroke-linecap="butt">
<path d="M799.7,754.3 L1357.6,754.3 M799.7,754.3 L802.02,754.3 L804.35,754.3 L806.67,754.3 L809,754.3 L811.32,754.3 L813.65,754.3 L815.97,754.3 L818.3,754.3 L820.62,754.3 L822.95,754.3 L825.27,754.3 L827.6,754.3 L829.92,754.3 L832.24,754.3 L834.57,754.3 L836.89,754.3 L839.22,754.3 L841.54,754.3 L843.87,754.3 L846.19,754.3 L848.52,754.29 L850.84,754.29 L853.17,754.29 L855.49,754.29 L857.81,754.29 L860.14,754.28 L862.46,754.28 L864.79,754.27 L867.11,754.27 L869.44,754.26 L871.76,754.25 L874.09,754.24 L876.41,754.23 L878.74,754.21 L881.06,754.19 L883.38,754.17 L885.71,754.14 L888.03,754.11 L890.36,754.07 L892.68,754.03 L895.01,753.97 L897.33,753.91 L899.66,753.83 L901.98,753.75 L904.31,753.65 L906.63,753.53 L908.96,753.39 L911.28,753.23 L913.6,753.05 L915.93,752.84 L918.25,752.59 L920.58,752.32 L922.9,752 L925.23,751.63 L927.55,751.22 L929.88,750.76 L932.2,750.23 L934.53,749.64 L936.85,748.97 L939.17,748.22 L941.5,747.39 L943.82,746.46 L946.15,745.42 L948.47,744.28 L950.8,743.01 L953.12,741.62 L955.45,740.08 L957.77,738.41 L960.1,736.57 L962.42,734.57 L964.75,732.4 L967.07,730.05 L969.39,727.51 L971.72,724.77 L974.04,721.83 L976.37,718.69 L978.69,715.33 L981.02,711.75 L983.34,707.95 L985.67,703.93 L987.99,699.69 L990.32,695.23 L992.64,690.55 L994.96,685.66 L997.29,680.57 L999.61,675.27 L1001.94,669.79 L1004.26,664.13 L1006.59,658.3 L1008.91,652.33 L1011.24,646.23 L1013.56,640.02 L1015.89,633.71 L1018.21,627.34 L1020.54,620.92 L1022.86,614.48 L1025.18,608.04 L1027.51,601.63 L1029.83,595.29 L1032.16,589.02 L1034.48,582.88 L1036.81,576.87 L1039.13,571.03 L1041.46,565.38 L1043.78,559.96 L1046.11,554.78 L1048.43,549.88 L1050.76,545.26 L1053.08,540.96 L1055.4,536.98 L1057.73,533.36 L1060.05,530.09 L1062.38,527.19 L1064.7,524.67 L1067.03,522.53 L1069.35,520.77 L1071.68,519.4 L1074,518.39 L1076.33,517.75 L1078.65,517.44 L1080.97,517.41 L1083.3,517.54 L1085.62,517.84 L1087.95,518.33 L1090.27,519.02 L1092.6,519.91 L1094.92,521.01 L1097.25,522.32 L1099.57,523.84 L1101.9,525.57 L1104.22,527.51 L1106.55,529.66 L1108.87,532.01 L1111.19,534.56 L1113.52,537.31 L1115.84,540.25 L1118.17,543.37 L1120.49,546.67 L1122.82,550.14 L1125.14,553.76 L1127.47,557.54 L1129.79,561.46 L1132.12,565.51 L1134.44,569.69 L1136.76,573.97 L1139.09,578.35 L1141.41,582.83 L1143.74,587.38 L1146.06,591.99 L1148.39,596.67 L1150.71,601.38 L1153.04,606.13 L1155.36,610.9 L1157.69,615.68 L1160.01,620.46 L1162.34,625.23 L1164.66,629.98 L1166.98,634.7 L1169.31,639.37 L1171.63,644 L1173.96,648.57 L1176.28,653.08 L1178.61,657.51 L1180.93,661.86 L1183.26,666.13 L1185.58,670.3 L1187.91,674.37 L1190.23,678.35 L1192.55,682.21 L1194.88,685.96 L1197.2,689.6 L1199.53,693.13 L1201.85,696.53 L1204.18,699.82 L1206.5,702.98 L1208.83,706.02 L1211.15,708.94 L1213.48,711.74 L1215.8,714.41 L1218.12,716.97 L1220.45,719.41 L1222.77,721.73 L1225.1,723.94 L1227.42,726.03 L1229.75,728.01 L1232.07,729.89 L1234.4,731.66 L1236.72,733.33 L1239.05,734.91 L1241.37,736.38 L1243.7,737.77 L1246.02,739.07 L1248.34,740.29 L1250.67,741.43 L1252.99,742.49 L1255.32,743.48 L1257.64,744.39 L1259.97,745.25 L1262.29,746.04 L1264.62,746.77 L1266.94,747.45 L1269.27,748.07 L1271.59,748.64 L1273.91,749.17 L1276.24,749.66 L1278.56,750.1 L1280.89,750.51 L1283.21,750.88 L1285.54,751.22 L1287.86,751.53 L1290.19,751.82 L1292.51,752.07 L1294.84,752.31 L1297.16,752.52 L1299.49,752.71 L1301.81,752.88 L1304.13,753.04 L1306.46,753.18 L1308.78,753.3 L1311.11,753.42 L1313.43,753.52 L1315.76,753.61 L1318.08,753.69 L1320.41,753.76 L1322.73,753.82 L1325.06,753.88 L1327.38,753.93 L1329.7,753.98 L1332.03,754.02 L1334.35,754.05 L1336.68,754.09 L1339,754.11 L1341.33,754.14 L1343.65,754.16 L1345.98,754.18 L1348.3,754.19 L1350.63,754.21 L1352.95,754.22 L1355.28,754.23 L1357.6,754.24" stroke="#CC6730" stroke-width="8.0"/>
<path d="M799.7,754.3 L1357.6,754.3 M799.7,754.29 L802.02,754.29 L804.35,754.29 L806.67,754.29 L809,754.29 L811.32,754.29 L813.65,754.28 L815.97,754.28 L818.3,754.27 L820.62,754.27 L822.95,754.26 L825.27,754.25 L827.6,754.24 L829.92,754.23 L832.24,754.22 L834.57,754.2 L836.89,754.19 L839.22,754.16 L841.54,754.14 L843.87,754.11 L846.19,754.08 L848.52,754.03 L850.84,753.99 L853.17,753.93 L855.49,753.87 L857.81,753.8 L860.14,753.71 L862.46,753.62 L864.79,753.51 L867.11,753.38 L869.44,753.23 L871.76,753.07 L874.09,752.88 L876.41,752.67 L878.74,752.42 L881.06,752.15 L883.38,751.84 L885.71,751.49 L888.03,751.1 L890.36,750.67 L892.68,750.18 L895.01,749.63 L897.33,749.03 L899.66,748.35 L901.98,747.61 L904.31,746.78 L906.63,745.88 L908.96,744.88 L911.28,743.78 L913.6,742.58 L915.93,741.26 L918.25,739.83 L920.58,738.27 L922.9,736.58 L925.23,734.75 L927.55,732.77 L929.88,730.64 L932.2,728.34 L934.53,725.88 L936.85,723.25 L939.17,720.43 L941.5,717.43 L943.82,714.24 L946.15,710.86 L948.47,707.28 L950.8,703.51 L953.12,699.53 L955.45,695.35 L957.77,690.98 L960.1,686.4 L962.42,681.63 L964.75,676.67 L967.07,671.52 L969.39,666.2 L971.72,660.7 L974.04,655.04 L976.37,649.23 L978.69,643.28 L981.02,637.21 L983.34,631.02 L985.67,624.74 L987.99,618.38 L990.32,611.96 L992.64,605.5 L994.96,599.02 L997.29,592.54 L999.61,586.08 L1001.94,579.67 L1004.26,573.32 L1006.59,567.05 L1008.91,560.9 L1011.24,554.88 L1013.56,549.02 L1015.89,543.33 L1018.21,537.84 L1020.54,532.57 L1022.86,527.54 L1025.18,522.77 L1027.51,518.26 L1029.83,514.05 L1032.16,510.14 L1034.48,506.55 L1036.81,503.28 L1039.13,500.35 L1041.46,497.75 L1043.78,495.51 L1046.11,493.61 L1048.43,492.05 L1050.76,490.84 L1053.08,489.96 L1055.4,489.4 L1057.73,489.13 L1060.05,489.13 L1062.38,489.44 L1064.7,490.15 L1067.03,491.29 L1069.35,492.88 L1071.68,494.92 L1074,497.43 L1076.33,500.39 L1078.65,503.81 L1080.97,507.67 L1083.3,511.96 L1085.62,516.66 L1087.95,521.76 L1090.27,527.22 L1092.6,533.02 L1094.92,539.14 L1097.25,545.54 L1099.57,552.2 L1101.9,559.07 L1104.22,566.13 L1106.55,573.34 L1108.87,580.67 L1111.19,588.08 L1113.52,595.54 L1115.84,603.01 L1118.17,610.47 L1120.49,617.88 L1122.82,625.21 L1125.14,632.43 L1127.47,639.53 L1129.79,646.47 L1132.12,653.23 L1134.44,659.79 L1136.76,666.15 L1139.09,672.27 L1141.41,678.16 L1143.74,683.8 L1146.06,689.18 L1148.39,694.3 L1150.71,699.16 L1153.04,703.74 L1155.36,708.07 L1157.69,712.12 L1160.01,715.92 L1162.34,719.47 L1164.66,722.77 L1166.98,725.83 L1169.31,728.65 L1171.63,731.26 L1173.96,733.65 L1176.28,735.85 L1178.61,737.85 L1180.93,739.67 L1183.26,741.33 L1185.58,742.83 L1187.91,744.18 L1190.23,745.39 L1192.55,746.49 L1194.88,747.46 L1197.2,748.33 L1199.53,749.1 L1201.85,749.79 L1204.18,750.39 L1206.5,750.92 L1208.83,751.39 L1211.15,751.8 L1213.48,752.16 L1215.8,752.47 L1218.12,752.74 L1220.45,752.98 L1222.77,753.18 L1225.1,753.35 L1227.42,753.5 L1229.75,753.63 L1232.07,753.74 L1234.4,753.83 L1236.72,753.91 L1239.05,753.97 L1241.37,754.03 L1243.7,754.08 L1246.02,754.12 L1248.34,754.15 L1250.67,754.18 L1252.99,754.2 L1255.32,754.22 L1257.64,754.23 L1259.97,754.25 L1262.29,754.26 L1264.62,754.26 L1266.94,754.27 L1269.27,754.28 L1271.59,754.28 L1273.91,754.29 L1276.24,754.29 L1278.56,754.29 L1280.89,754.29 L1283.21,754.29 L1285.54,754.3 L1287.86,754.3 L1290.19,754.3 L1292.51,754.3 L1294.84,754.3 L1297.16,754.3 L1299.49,754.3 L1301.81,754.3 L1304.13,754.3 L1306.46,754.3 L1308.78,754.3 L1311.11,754.3 L1313.43,754.3 L1315.76,754.3 L1318.08,754.3 L1320.41,754.3 L1322.73,754.3 L1325.06,754.3 L1327.38,754.3 L1329.7,754.3 L1332.03,754.3 L1334.35,754.3 L1336.68,754.3 L1339,754.3 L1341.33,754.3 L1343.65,754.3 L1345.98,754.3 L1348.3,754.3 L1350.63,754.3 L1352.95,754.3 L1355.28,754.3 L1357.6,754.3" stroke="#69B3A4" stroke-width="8.0"/>
<path d="M799.7,754.3 L1357.6,754.3 M799.7,732.33 L802.02,729.82 L804.35,727.09 L806.67,724.14 L809,720.94 L811.32,717.5 L813.65,713.8 L815.97,709.84 L818.3,705.62 L820.62,701.13 L822.95,696.36 L825.27,691.32 L827.6,686.01 L829.92,680.43 L832.24,674.59 L834.57,668.49 L836.89,662.15 L839.22,655.57 L841.54,648.78 L843.87,641.78 L846.19,634.6 L848.52,627.26 L850.84,619.79 L853.17,612.21 L855.49,604.54 L857.81,596.82 L860.14,589.08 L862.46,581.35 L864.79,573.67 L867.11,566.07 L869.44,558.58 L871.76,551.24 L874.09,544.08 L876.41,537.15 L878.74,530.47 L881.06,524.07 L883.38,517.99 L885.71,512.25 L888.03,506.88 L890.36,501.91 L892.68,497.36 L895.01,493.24 L897.33,489.57 L899.66,486.37 L901.98,483.63 L904.31,481.37 L906.63,479.57 L908.96,478.24 L911.28,477.36 L913.6,476.9 L915.93,476.8 L918.25,477.01 L920.58,477.56 L922.9,478.49 L925.23,479.83 L927.55,481.58 L929.88,483.74 L932.2,486.33 L934.53,489.33 L936.85,492.75 L939.17,496.57 L941.5,500.77 L943.82,505.36 L946.15,510.3 L948.47,515.58 L950.8,521.17 L953.12,527.06 L955.45,533.21 L957.77,539.61 L960.1,546.22 L962.42,553.02 L964.75,559.97 L967.07,567.05 L969.39,574.23 L971.72,581.47 L974.04,588.76 L976.37,596.06 L978.69,603.34 L981.02,610.58 L983.34,617.75 L985.67,624.83 L987.99,631.8 L990.32,638.63 L992.64,645.31 L994.96,651.81 L997.29,658.14 L999.61,664.26 L1001.94,670.17 L1004.26,675.86 L1006.59,681.33 L1008.91,686.55 L1011.24,691.54 L1013.56,696.29 L1015.89,700.79 L1018.21,705.06 L1020.54,709.08 L1022.86,712.86 L1025.18,716.41 L1027.51,719.74 L1029.83,722.84 L1032.16,725.73 L1034.48,728.41 L1036.81,730.89 L1039.13,733.18 L1041.46,735.29 L1043.78,737.22 L1046.11,739 L1048.43,740.62 L1050.76,742.1 L1053.08,743.44 L1055.4,744.66 L1057.73,745.76 L1060.05,746.75 L1062.38,747.64 L1064.7,748.44 L1067.03,749.16 L1069.35,749.8 L1071.68,750.36 L1074,750.87 L1076.33,751.32 L1078.65,751.71 L1080.97,752.06 L1083.3,752.37 L1085.62,752.63 L1087.95,752.87 L1090.27,753.07 L1092.6,753.25 L1094.92,753.4 L1097.25,753.54 L1099.57,753.65 L1101.9,753.75 L1104.22,753.84 L1106.55,753.91 L1108.87,753.97 L1111.19,754.02 L1113.52,754.07 L1115.84,754.11 L1118.17,754.14 L1120.49,754.17 L1122.82,754.19 L1125.14,754.21 L1127.47,754.22 L1129.79,754.24 L1132.12,754.25 L1134.44,754.26 L1136.76,754.27 L1139.09,754.27 L1141.41,754.28 L1143.74,754.28 L1146.06,754.29 L1148.39,754.29 L1150.71,754.29 L1153.04,754.29 L1155.36,754.29 L1157.69,754.3 L1160.01,754.3 L1162.34,754.3 L1164.66,754.3 L1166.98,754.3 L1169.31,754.3 L1171.63,754.3 L1173.96,754.3 L1176.28,754.3 L1178.61,754.3 L1180.93,754.3 L1183.26,754.3 L1185.58,754.3 L1187.91,754.3 L1190.23,754.3 L1192.55,754.3 L1194.88,754.3 L1197.2,754.3 L1199.53,754.3 L1201.85,754.3 L1204.18,754.3 L1206.5,754.3 L1208.83,754.3 L1211.15,754.3 L1213.48,754.3 L1215.8,754.3 L1218.12,754.3 L1220.45,754.3 L1222.77,754.3 L1225.1,754.3 L1227.42,754.3 L1229.75,754.3 L1232.07,754.3 L1234.4,754.3 L1236.72,754.3 L1239.05,754.3 L1241.37,754.3 L1243.7,754.3 L1246.02,754.3 L1248.34,754.3 L1250.67,754.3 L1252.99,754.3 L1255.32,754.3 L1257.64,754.3 L1259.97,754.3 L1262.29,754.3 L1264.62,754.3 L1266.94,754.3 L1269.27,754.3 L1271.59,754.3 L1273.91,754.3 L1276.24,754.3 L1278.56,754.3 L1280.89,754.3 L1283.21,754.3 L1285.54,754.3 L1287.86,754.3 L1290.19,754.3 L1292.51,754.3 L1294.84,754.3 L1297.16,754.3 L1299.49,754.3 L1301.81,754.3 L1304.13,754.3 L1306.46,754.3 L1308.78,754.3 L1311.11,754.3 L1313.43,754.3 L1315.76,754.3 L1318.08,754.3 L1320.41,754.3 L1322.73,754.3 L1325.06,754.3 L1327.38,754.3 L1329.7,754.3 L1332.03,754.3 L1334.35,754.3 L1336.68,754.3 L1339,754.3 L1341.33,754.3 L1343.65,754.3 L1345.98,754.3 L1348.3,754.3 L1350.63,754.3 L1352.95,754.3 L1355.28,754.3 L1357.6,754.3" stroke="#B8E6DC" stroke-width="8.0"/>
</g>
<g stroke="#0c0c0c" stroke-width="3.5" fill="none" stroke-linecap="butt">
<rect x="799.70" y="430.20" width="557.90" height="325.80"/>
<line x1="799.70" y1="756.00" x2="799.70" y2="763.70"/>
<line x1="892.68" y1="756.00" x2="892.68" y2="763.70"/>
<line x1="985.67" y1="756.00" x2="985.67" y2="763.70"/>
<line x1="1078.65" y1="756.00" x2="1078.65" y2="763.70"/>
<line x1="1171.63" y1="756.00" x2="1171.63" y2="763.70"/>
<line x1="1264.62" y1="756.00" x2="1264.62" y2="763.70"/>
<line x1="1357.60" y1="756.00" x2="1357.60" y2="763.70"/>
<line x1="792.00" y1="430.20" x2="799.70" y2="430.20"/>
<line x1="792.00" y1="511.65" x2="799.70" y2="511.65"/>
<line x1="792.00" y1="593.10" x2="799.70" y2="593.10"/>
<line x1="792.00" y1="674.55" x2="799.70" y2="674.55"/>
<line x1="792.00" y1="756.00" x2="799.70" y2="756.00"/>
</g>
<g font-family="'Liberation Sans', Arial, sans-serif" font-size="28.8" fill="#1c1a1b">
<text x="791.78" y="790.80">4</text>
<text x="884.58" y="790.80">6</text>
<text x="977.97" y="790.80">8</text>
<text x="1062.73" y="790.80">10</text>
<text x="1155.89" y="790.80">12</text>
<text x="1248.25" y="790.80">14</text>
<text x="1341.15" y="790.80">16</text>
<text x="748.16" y="440.10">0.4</text>
<text x="748.59" y="519.50">0.3</text>
<text x="748.81" y="602.00">0.2</text>
<text x="748.74" y="683.80">0.1</text>
<text x="767.20" y="766.40">0</text>
</g>
<text x="816.33" y="477.50" font-family="'Liberation Sans', Arial, sans-serif" font-weight="bold" font-size="33.4" fill="#1c1a1b">(e)</text>
</g>
<g id="panel-h">
<g clip-path="url(#cph)" fill="none" stroke-linejoin="round" stroke-linecap="butt">
<path d="M1469.1,754.3 L1840.83,754.3 M1469.1,744.15 L1470.65,743.28 L1472.2,742.38 L1473.75,741.44 L1475.3,740.48 L1476.84,739.48 L1478.39,738.46 L1479.94,737.43 L1481.49,736.38 L1483.04,735.33 L1484.59,734.27 L1486.14,733.23 L1487.69,732.19 L1489.24,731.18 L1490.78,730.19 L1492.33,729.24 L1493.88,728.34 L1495.43,727.48 L1496.98,726.68 L1498.53,725.94 L1500.08,725.27 L1501.63,724.68 L1503.18,724.16 L1504.72,723.73 L1506.27,723.39 L1507.82,723.15 L1509.37,722.99 L1510.92,722.93 L1512.47,722.94 L1514.02,723.01 L1515.57,723.14 L1517.12,723.33 L1518.66,723.57 L1520.21,723.86 L1521.76,724.2 L1523.31,724.59 L1524.86,725.03 L1526.41,725.51 L1527.96,726.02 L1529.51,726.58 L1531.06,727.16 L1532.6,727.77 L1534.15,728.4 L1535.7,729.05 L1537.25,729.71 L1538.8,730.39 L1540.35,731.07 L1541.9,731.74 L1543.45,732.42 L1545,733.08 L1546.54,733.73 L1548.09,734.37 L1549.64,734.98 L1551.19,735.56 L1552.74,736.11 L1554.29,736.62 L1555.84,737.1 L1557.39,737.53 L1558.94,737.91 L1560.48,738.24 L1562.03,738.52 L1563.58,738.73 L1565.13,738.89 L1566.68,738.98 L1568.23,739 L1569.78,738.96 L1571.33,738.84 L1572.88,738.64 L1574.42,738.37 L1575.97,738.02 L1577.52,737.59 L1579.07,737.07 L1580.62,736.48 L1582.17,735.79 L1583.72,735.02 L1585.27,734.16 L1586.82,733.22 L1588.36,732.18 L1589.91,731.06 L1591.46,729.84 L1593.01,728.54 L1594.56,727.15 L1596.11,725.68 L1597.66,724.11 L1599.21,722.47 L1600.76,720.74 L1602.3,718.92 L1603.85,717.03 L1605.4,715.07 L1606.95,713.02 L1608.5,710.91 L1610.05,708.74 L1611.6,706.5 L1613.15,704.2 L1614.7,701.85 L1616.24,699.45 L1617.79,697.01 L1619.34,694.53 L1620.89,692.02 L1622.44,689.48 L1623.99,686.93 L1625.54,684.37 L1627.09,681.81 L1628.64,679.24 L1630.18,676.7 L1631.73,674.17 L1633.28,671.67 L1634.83,669.2 L1636.38,666.78 L1637.93,664.41 L1639.48,662.11 L1641.03,659.87 L1642.58,657.71 L1644.12,655.63 L1645.67,653.65 L1647.22,651.76 L1648.77,649.99 L1650.32,648.33 L1651.87,646.79 L1653.42,645.37 L1654.97,644.09 L1656.52,642.95 L1658.06,641.94 L1659.61,641.09 L1661.16,640.38 L1662.71,639.83 L1664.26,639.43 L1665.81,639.19 L1667.36,639.1 L1668.91,639.18 L1670.46,639.42 L1672,639.82 L1673.55,640.39 L1675.1,641.12 L1676.65,642 L1678.2,643.04 L1679.75,644.22 L1681.3,645.55 L1682.85,647.01 L1684.4,648.61 L1685.94,650.34 L1687.49,652.18 L1689.04,654.13 L1690.59,656.19 L1692.14,658.34 L1693.69,660.58 L1695.24,662.9 L1696.79,665.29 L1698.34,667.74 L1699.88,670.24 L1701.43,672.79 L1702.98,675.38 L1704.53,677.99 L1706.08,680.62 L1707.63,683.26 L1709.18,685.91 L1710.73,688.55 L1712.28,691.18 L1713.82,693.8 L1715.37,696.38 L1716.92,698.94 L1718.47,701.46 L1720.02,703.94 L1721.57,706.36 L1723.12,708.74 L1724.67,711.06 L1726.22,713.33 L1727.76,715.53 L1729.31,717.66 L1730.86,719.73 L1732.41,721.72 L1733.96,723.65 L1735.51,725.5 L1737.06,727.28 L1738.61,728.99 L1740.16,730.62 L1741.7,732.18 L1743.25,733.67 L1744.8,735.08 L1746.35,736.42 L1747.9,737.69 L1749.45,738.9 L1751,740.03 L1752.55,741.11 L1754.1,742.12 L1755.64,743.06 L1757.19,743.95 L1758.74,744.79 L1760.29,745.56 L1761.84,746.29 L1763.39,746.97 L1764.94,747.59 L1766.49,748.18 L1768.04,748.72 L1769.58,749.22 L1771.13,749.68 L1772.68,750.11 L1774.23,750.5 L1775.78,750.86 L1777.33,751.19 L1778.88,751.49 L1780.43,751.77 L1781.98,752.02 L1783.52,752.25 L1785.07,752.46 L1786.62,752.66 L1788.17,752.83 L1789.72,752.98 L1791.27,753.13 L1792.82,753.25 L1794.37,753.37 L1795.92,753.47 L1797.46,753.57 L1799.01,753.65 L1800.56,753.73 L1802.11,753.79 L1803.66,753.85 L1805.21,753.91 L1806.76,753.95 L1808.31,754 L1809.86,754.03 L1811.4,754.07 L1812.95,754.1 L1814.5,754.12 L1816.05,754.14 L1817.6,754.16 L1819.15,754.18 L1820.7,754.2 L1822.25,754.21 L1823.8,754.22 L1825.34,754.23 L1826.89,754.24 L1828.44,754.25 L1829.99,754.26 L1831.54,754.26 L1833.09,754.27 L1834.64,754.27 L1836.19,754.28 L1837.74,754.28 L1839.28,754.28 L1840.83,754.29" stroke="#CC6730" stroke-width="7.8"/>
<path d="M1469.1,754.3 L1840.83,754.3 M1469.1,754.3 L1470.65,754.3 L1472.2,754.3 L1473.75,754.3 L1475.3,754.3 L1476.84,754.3 L1478.39,754.3 L1479.94,754.3 L1481.49,754.3 L1483.04,754.3 L1484.59,754.3 L1486.14,754.3 L1487.69,754.3 L1489.24,754.3 L1490.78,754.3 L1492.33,754.3 L1493.88,754.3 L1495.43,754.3 L1496.98,754.3 L1498.53,754.3 L1500.08,754.3 L1501.63,754.3 L1503.18,754.3 L1504.72,754.3 L1506.27,754.3 L1507.82,754.3 L1509.37,754.3 L1510.92,754.3 L1512.47,754.3 L1514.02,754.3 L1515.57,754.3 L1517.12,754.3 L1518.66,754.3 L1520.21,754.3 L1521.76,754.3 L1523.31,754.3 L1524.86,754.3 L1526.41,754.3 L1527.96,754.3 L1529.51,754.3 L1531.06,754.3 L1532.6,754.3 L1534.15,754.3 L1535.7,754.3 L1537.25,754.3 L1538.8,754.3 L1540.35,754.3 L1541.9,754.3 L1543.45,754.3 L1545,754.29 L1546.54,754.29 L1548.09,754.29 L1549.64,754.29 L1551.19,754.29 L1552.74,754.28 L1554.29,754.28 L1555.84,754.27 L1557.39,754.27 L1558.94,754.26 L1560.48,754.25 L1562.03,754.24 L1563.58,754.23 L1565.13,754.21 L1566.68,754.2 L1568.23,754.18 L1569.78,754.15 L1571.33,754.12 L1572.88,754.09 L1574.42,754.05 L1575.97,754 L1577.52,753.94 L1579.07,753.88 L1580.62,753.8 L1582.17,753.71 L1583.72,753.61 L1585.27,753.49 L1586.82,753.36 L1588.36,753.2 L1589.91,753.02 L1591.46,752.82 L1593.01,752.59 L1594.56,752.33 L1596.11,752.03 L1597.66,751.7 L1599.21,751.32 L1600.76,750.9 L1602.3,750.42 L1603.85,749.89 L1605.4,749.3 L1606.95,748.64 L1608.5,747.92 L1610.05,747.11 L1611.6,746.22 L1613.15,745.25 L1614.7,744.18 L1616.24,743.01 L1617.79,741.74 L1619.34,740.35 L1620.89,738.85 L1622.44,737.23 L1623.99,735.48 L1625.54,733.6 L1627.09,731.58 L1628.64,729.42 L1630.18,727.12 L1631.73,724.68 L1633.28,722.09 L1634.83,719.35 L1636.38,716.46 L1637.93,713.43 L1639.48,710.25 L1641.03,706.93 L1642.58,703.47 L1644.12,699.88 L1645.67,696.17 L1647.22,692.34 L1648.77,688.39 L1650.32,684.36 L1651.87,680.23 L1653.42,676.03 L1654.97,671.76 L1656.52,667.45 L1658.06,663.11 L1659.61,658.76 L1661.16,654.4 L1662.71,650.06 L1664.26,645.76 L1665.81,641.51 L1667.36,637.33 L1668.91,633.25 L1670.46,629.27 L1672,625.42 L1673.55,621.72 L1675.1,618.17 L1676.65,614.8 L1678.2,611.62 L1679.75,608.65 L1681.3,605.89 L1682.85,603.36 L1684.4,601.06 L1685.94,599.01 L1687.49,597.21 L1689.04,595.66 L1690.59,594.37 L1692.14,593.34 L1693.69,592.55 L1695.24,592.01 L1696.79,591.7 L1698.34,591.6 L1699.88,591.69 L1701.43,592.04 L1702.98,592.67 L1704.53,593.61 L1706.08,594.87 L1707.63,596.44 L1709.18,598.33 L1710.73,600.53 L1712.28,603.04 L1713.82,605.85 L1715.37,608.93 L1716.92,612.29 L1718.47,615.9 L1720.02,619.73 L1721.57,623.78 L1723.12,628.02 L1724.67,632.41 L1726.22,636.95 L1727.76,641.61 L1729.31,646.35 L1730.86,651.16 L1732.41,656.01 L1733.96,660.87 L1735.51,665.72 L1737.06,670.54 L1738.61,675.31 L1740.16,680 L1741.7,684.61 L1743.25,689.1 L1744.8,693.47 L1746.35,697.7 L1747.9,701.77 L1749.45,705.69 L1751,709.44 L1752.55,713.02 L1754.1,716.41 L1755.64,719.63 L1757.19,722.66 L1758.74,725.5 L1760.29,728.17 L1761.84,730.65 L1763.39,732.96 L1764.94,735.1 L1766.49,737.07 L1768.04,738.89 L1769.58,740.55 L1771.13,742.07 L1772.68,743.46 L1774.23,744.71 L1775.78,745.84 L1777.33,746.87 L1778.88,747.78 L1780.43,748.61 L1781.98,749.34 L1783.52,749.99 L1785.07,750.57 L1786.62,751.08 L1788.17,751.52 L1789.72,751.92 L1791.27,752.26 L1792.82,752.56 L1794.37,752.82 L1795.92,753.04 L1797.46,753.24 L1799.01,753.4 L1800.56,753.55 L1802.11,753.67 L1803.66,753.77 L1805.21,753.86 L1806.76,753.94 L1808.31,754 L1809.86,754.05 L1811.4,754.1 L1812.95,754.13 L1814.5,754.16 L1816.05,754.19 L1817.6,754.21 L1819.15,754.23 L1820.7,754.24 L1822.25,754.25 L1823.8,754.26 L1825.34,754.27 L1826.89,754.28 L1828.44,754.28 L1829.99,754.28 L1831.54,754.29 L1833.09,754.29 L1834.64,754.29 L1836.19,754.29 L1837.74,754.3 L1839.28,754.3 L1840.83,754.3" stroke="#69B3A4" stroke-width="7.8"/>
<path d="M1469.1,754.3 L1840.83,754.3 M1469.1,754.3 L1470.65,754.3 L1472.2,754.3 L1473.75,754.3 L1475.3,754.3 L1476.84,754.3 L1478.39,754.3 L1479.94,754.3 L1481.49,754.3 L1483.04,754.3 L1484.59,754.3 L1486.14,754.3 L1487.69,754.3 L1489.24,754.3 L1490.78,754.3 L1492.33,754.3 L1493.88,754.3 L1495.43,754.3 L1496.98,754.3 L1498.53,754.3 L1500.08,754.3 L1501.63,754.3 L1503.18,754.3 L1504.72,754.3 L1506.27,754.3 L1507.82,754.3 L1509.37,754.3 L1510.92,754.3 L1512.47,754.3 L1514.02,754.3 L1515.57,754.3 L1517.12,754.3 L1518.66,754.3 L1520.21,754.3 L1521.76,754.3 L1523.31,754.3 L1524.86,754.3 L1526.41,754.3 L1527.96,754.3 L1529.51,754.3 L1531.06,754.3 L1532.6,754.3 L1534.15,754.3 L1535.7,754.3 L1537.25,754.3 L1538.8,754.3 L1540.35,754.3 L1541.9,754.3 L1543.45,754.3 L1545,754.3 L1546.54,754.3 L1548.09,754.3 L1549.64,754.3 L1551.19,754.3 L1552.74,754.3 L1554.29,754.3 L1555.84,754.3 L1557.39,754.3 L1558.94,754.3 L1560.48,754.29 L1562.03,754.29 L1563.58,754.29 L1565.13,754.29 L1566.68,754.28 L1568.23,754.28 L1569.78,754.27 L1571.33,754.26 L1572.88,754.25 L1574.42,754.23 L1575.97,754.21 L1577.52,754.19 L1579.07,754.16 L1580.62,754.12 L1582.17,754.07 L1583.72,754.01 L1585.27,753.93 L1586.82,753.84 L1588.36,753.72 L1589.91,753.58 L1591.46,753.41 L1593.01,753.2 L1594.56,752.95 L1596.11,752.65 L1597.66,752.3 L1599.21,751.87 L1600.76,751.37 L1602.3,750.78 L1603.85,750.1 L1605.4,749.29 L1606.95,748.36 L1608.5,747.29 L1610.05,746.06 L1611.6,744.66 L1613.15,743.06 L1614.7,741.26 L1616.24,739.23 L1617.79,736.95 L1619.34,734.42 L1620.89,731.61 L1622.44,728.5 L1623.99,725.1 L1625.54,721.38 L1627.09,717.34 L1628.64,712.98 L1630.18,708.28 L1631.73,703.26 L1633.28,697.92 L1634.83,692.26 L1636.38,686.31 L1637.93,680.09 L1639.48,673.6 L1641.03,666.9 L1642.58,660 L1644.12,652.95 L1645.67,645.79 L1647.22,638.57 L1648.77,631.32 L1650.32,624.11 L1651.87,616.99 L1653.42,610.01 L1654.97,603.23 L1656.52,596.69 L1658.06,590.46 L1659.61,584.57 L1661.16,579.09 L1662.71,574.05 L1664.26,569.48 L1665.81,565.43 L1667.36,561.92 L1668.91,558.96 L1670.46,556.56 L1672,554.74 L1673.55,553.47 L1675.1,552.74 L1676.65,552.5 L1678.2,552.64 L1679.75,553.21 L1681.3,554.25 L1682.85,555.79 L1684.4,557.85 L1685.94,560.43 L1687.49,563.52 L1689.04,567.1 L1690.59,571.16 L1692.14,575.68 L1693.69,580.61 L1695.24,585.94 L1696.79,591.62 L1698.34,597.62 L1699.88,603.88 L1701.43,610.36 L1702.98,617.01 L1704.53,623.8 L1706.08,630.66 L1707.63,637.56 L1709.18,644.45 L1710.73,651.29 L1712.28,658.04 L1713.82,664.66 L1715.37,671.12 L1716.92,677.38 L1718.47,683.43 L1720.02,689.23 L1721.57,694.77 L1723.12,700.04 L1724.67,705.02 L1726.22,709.7 L1727.76,714.09 L1729.31,718.18 L1730.86,721.98 L1732.41,725.48 L1733.96,728.7 L1735.51,731.64 L1737.06,734.32 L1738.61,736.75 L1740.16,738.95 L1741.7,740.92 L1743.25,742.68 L1744.8,744.25 L1746.35,745.64 L1747.9,746.86 L1749.45,747.94 L1751,748.88 L1752.55,749.7 L1754.1,750.42 L1755.64,751.03 L1757.19,751.56 L1758.74,752.01 L1760.29,752.39 L1761.84,752.72 L1763.39,753 L1764.94,753.23 L1766.49,753.42 L1768.04,753.58 L1769.58,753.72 L1771.13,753.83 L1772.68,753.92 L1774.23,754 L1775.78,754.06 L1777.33,754.11 L1778.88,754.15 L1780.43,754.18 L1781.98,754.2 L1783.52,754.23 L1785.07,754.24 L1786.62,754.25 L1788.17,754.27 L1789.72,754.27 L1791.27,754.28 L1792.82,754.28 L1794.37,754.29 L1795.92,754.29 L1797.46,754.29 L1799.01,754.29 L1800.56,754.3 L1802.11,754.3 L1803.66,754.3 L1805.21,754.3 L1806.76,754.3 L1808.31,754.3 L1809.86,754.3 L1811.4,754.3 L1812.95,754.3 L1814.5,754.3 L1816.05,754.3 L1817.6,754.3 L1819.15,754.3 L1820.7,754.3 L1822.25,754.3 L1823.8,754.3 L1825.34,754.3 L1826.89,754.3 L1828.44,754.3 L1829.99,754.3 L1831.54,754.3 L1833.09,754.3 L1834.64,754.3 L1836.19,754.3 L1837.74,754.3 L1839.28,754.3 L1840.83,754.3" stroke="#B8E6DC" stroke-width="7.8"/>
<path d="M1469.1,754.3 L1840.83,754.3 M1469.1,754.23 L1470.65,754.2 L1472.2,754.18 L1473.75,754.14 L1475.3,754.1 L1476.84,754.04 L1478.39,753.97 L1479.94,753.89 L1481.49,753.78 L1483.04,753.65 L1484.59,753.5 L1486.14,753.31 L1487.69,753.08 L1489.24,752.8 L1490.78,752.47 L1492.33,752.08 L1493.88,751.61 L1495.43,751.06 L1496.98,750.41 L1498.53,749.66 L1500.08,748.78 L1501.63,747.76 L1503.18,746.59 L1504.72,745.25 L1506.27,743.72 L1507.82,741.98 L1509.37,740.02 L1510.92,737.81 L1512.47,735.35 L1514.02,732.6 L1515.57,729.57 L1517.12,726.22 L1518.66,722.55 L1520.21,718.55 L1521.76,714.21 L1523.31,709.52 L1524.86,704.49 L1526.41,699.12 L1527.96,693.41 L1529.51,687.38 L1531.06,681.04 L1532.6,674.42 L1534.15,667.53 L1535.7,660.43 L1537.25,653.13 L1538.8,645.68 L1540.35,638.13 L1541.9,630.53 L1543.45,622.92 L1545,615.36 L1546.54,607.91 L1548.09,600.63 L1549.64,593.56 L1551.19,586.78 L1552.74,580.32 L1554.29,574.25 L1555.84,568.62 L1557.39,563.45 L1558.94,558.8 L1560.48,554.7 L1562.03,551.17 L1563.58,548.22 L1565.13,545.87 L1566.68,544.12 L1568.23,542.95 L1569.78,542.34 L1571.33,542.2 L1572.88,542.5 L1574.42,543.31 L1575.97,544.68 L1577.52,546.65 L1579.07,549.21 L1580.62,552.37 L1582.17,556.11 L1583.72,560.42 L1585.27,565.25 L1586.82,570.59 L1588.36,576.39 L1589.91,582.61 L1591.46,589.18 L1593.01,596.08 L1594.56,603.23 L1596.11,610.58 L1597.66,618.07 L1599.21,625.65 L1600.76,633.27 L1602.3,640.86 L1603.85,648.38 L1605.4,655.78 L1606.95,663.01 L1608.5,670.04 L1610.05,676.83 L1611.6,683.36 L1613.15,689.59 L1614.7,695.5 L1616.24,701.09 L1617.79,706.34 L1619.34,711.25 L1620.89,715.81 L1622.44,720.03 L1623.99,723.91 L1625.54,727.46 L1627.09,730.69 L1628.64,733.63 L1630.18,736.27 L1631.73,738.64 L1633.28,740.75 L1634.83,742.63 L1636.38,744.29 L1637.93,745.75 L1639.48,747.03 L1641.03,748.14 L1642.58,749.11 L1644.12,749.94 L1645.67,750.66 L1647.22,751.27 L1648.77,751.79 L1650.32,752.23 L1651.87,752.6 L1653.42,752.91 L1654.97,753.17 L1656.52,753.38 L1658.06,753.56 L1659.61,753.7 L1661.16,753.82 L1662.71,753.92 L1664.26,754 L1665.81,754.06 L1667.36,754.11 L1668.91,754.15 L1670.46,754.19 L1672,754.21 L1673.55,754.23 L1675.1,754.25 L1676.65,754.26 L1678.2,754.27 L1679.75,754.28 L1681.3,754.28 L1682.85,754.29 L1684.4,754.29 L1685.94,754.29 L1687.49,754.29 L1689.04,754.3 L1690.59,754.3 L1692.14,754.3 L1693.69,754.3 L1695.24,754.3 L1696.79,754.3 L1698.34,754.3 L1699.88,754.3 L1701.43,754.3 L1702.98,754.3 L1704.53,754.3 L1706.08,754.3 L1707.63,754.3 L1709.18,754.3 L1710.73,754.3 L1712.28,754.3 L1713.82,754.3 L1715.37,754.3 L1716.92,754.3 L1718.47,754.3 L1720.02,754.3 L1721.57,754.3 L1723.12,754.3 L1724.67,754.3 L1726.22,754.3 L1727.76,754.3 L1729.31,754.3 L1730.86,754.3 L1732.41,754.3 L1733.96,754.3 L1735.51,754.3 L1737.06,754.3 L1738.61,754.3 L1740.16,754.3 L1741.7,754.3 L1743.25,754.3 L1744.8,754.3 L1746.35,754.3 L1747.9,754.3 L1749.45,754.3 L1751,754.3 L1752.55,754.3 L1754.1,754.3 L1755.64,754.3 L1757.19,754.3 L1758.74,754.3 L1760.29,754.3 L1761.84,754.3 L1763.39,754.3 L1764.94,754.3 L1766.49,754.3 L1768.04,754.3 L1769.58,754.3 L1771.13,754.3 L1772.68,754.3 L1774.23,754.3 L1775.78,754.3 L1777.33,754.3 L1778.88,754.3 L1780.43,754.3 L1781.98,754.3 L1783.52,754.3 L1785.07,754.3 L1786.62,754.3 L1788.17,754.3 L1789.72,754.3 L1791.27,754.3 L1792.82,754.3 L1794.37,754.3 L1795.92,754.3 L1797.46,754.3 L1799.01,754.3 L1800.56,754.3 L1802.11,754.3 L1803.66,754.3 L1805.21,754.3 L1806.76,754.3 L1808.31,754.3 L1809.86,754.3 L1811.4,754.3 L1812.95,754.3 L1814.5,754.3 L1816.05,754.3 L1817.6,754.3 L1819.15,754.3 L1820.7,754.3 L1822.25,754.3 L1823.8,754.3 L1825.34,754.3 L1826.89,754.3 L1828.44,754.3 L1829.99,754.3 L1831.54,754.3 L1833.09,754.3 L1834.64,754.3 L1836.19,754.3 L1837.74,754.3 L1839.28,754.3 L1840.83,754.3" stroke="#4D433E" stroke-width="7.8"/>
<path d="M1469.1,754.3 L1840.83,754.3 M1469.1,754.22 L1470.65,754.19 L1472.2,754.16 L1473.75,754.12 L1475.3,754.07 L1476.84,754.01 L1478.39,753.94 L1479.94,753.85 L1481.49,753.73 L1483.04,753.59 L1484.59,753.42 L1486.14,753.22 L1487.69,752.97 L1489.24,752.67 L1490.78,752.31 L1492.33,751.89 L1493.88,751.39 L1495.43,750.8 L1496.98,750.11 L1498.53,749.3 L1500.08,748.37 L1501.63,747.29 L1503.18,746.05 L1504.72,744.63 L1506.27,743.01 L1507.82,741.19 L1509.37,739.12 L1510.92,736.81 L1512.47,734.23 L1514.02,731.36 L1515.57,728.2 L1517.12,724.72 L1518.66,720.91 L1520.21,716.77 L1521.76,712.28 L1523.31,707.45 L1524.86,702.28 L1526.41,696.76 L1527.96,690.92 L1529.51,684.75 L1531.06,678.29 L1532.6,671.56 L1534.15,664.58 L1535.7,657.38 L1537.25,650.02 L1538.8,642.52 L1540.35,634.94 L1541.9,627.33 L1543.45,619.74 L1545,612.22 L1546.54,604.83 L1548.09,597.63 L1549.64,590.68 L1551.19,584.02 L1552.74,577.72 L1554.29,571.83 L1555.84,566.39 L1557.39,561.44 L1558.94,557.01 L1560.48,553.15 L1562.03,549.86 L1563.58,547.16 L1565.13,545.06 L1566.68,543.56 L1568.23,542.63 L1569.78,542.23 L1571.33,542.27 L1572.88,542.77 L1574.42,543.81 L1575.97,545.44 L1577.52,547.65 L1579.07,550.47 L1580.62,553.87 L1582.17,557.85 L1583.72,562.38 L1585.27,567.44 L1586.82,572.97 L1588.36,578.95 L1589.91,585.33 L1591.46,592.04 L1593.01,599.05 L1594.56,606.29 L1596.11,613.71 L1597.66,621.25 L1599.21,628.85 L1600.76,636.46 L1602.3,644.03 L1603.85,651.5 L1605.4,658.84 L1606.95,665.99 L1608.5,672.92 L1610.05,679.61 L1611.6,686.01 L1613.15,692.11 L1614.7,697.89 L1616.24,703.34 L1617.79,708.45 L1619.34,713.21 L1620.89,717.62 L1622.44,721.7 L1623.99,725.44 L1625.54,728.86 L1627.09,731.96 L1628.64,734.77 L1630.18,737.29 L1631.73,739.56 L1633.28,741.57 L1634.83,743.35 L1636.38,744.93 L1637.93,746.31 L1639.48,747.52 L1641.03,748.57 L1642.58,749.48 L1644.12,750.26 L1645.67,750.93 L1647.22,751.5 L1648.77,751.98 L1650.32,752.39 L1651.87,752.73 L1653.42,753.02 L1654.97,753.26 L1656.52,753.46 L1658.06,753.62 L1659.61,753.76 L1661.16,753.87 L1662.71,753.96 L1664.26,754.03 L1665.81,754.08 L1667.36,754.13 L1668.91,754.17 L1670.46,754.2 L1672,754.22 L1673.55,754.24 L1675.1,754.25 L1676.65,754.26 L1678.2,754.27 L1679.75,754.28 L1681.3,754.28 L1682.85,754.29 L1684.4,754.29 L1685.94,754.29 L1687.49,754.3 L1689.04,754.3 L1690.59,754.3 L1692.14,754.3 L1693.69,754.3 L1695.24,754.3 L1696.79,754.3 L1698.34,754.3 L1699.88,754.3 L1701.43,754.3 L1702.98,754.3 L1704.53,754.3 L1706.08,754.3 L1707.63,754.3 L1709.18,754.3 L1710.73,754.3 L1712.28,754.3 L1713.82,754.3 L1715.37,754.3 L1716.92,754.3 L1718.47,754.3 L1720.02,754.3 L1721.57,754.3 L1723.12,754.3 L1724.67,754.3 L1726.22,754.3 L1727.76,754.3 L1729.31,754.3 L1730.86,754.3 L1732.41,754.3 L1733.96,754.3 L1735.51,754.3 L1737.06,754.3 L1738.61,754.3 L1740.16,754.3 L1741.7,754.3 L1743.25,754.3 L1744.8,754.3 L1746.35,754.3 L1747.9,754.3 L1749.45,754.3 L1751,754.3 L1752.55,754.3 L1754.1,754.3 L1755.64,754.3 L1757.19,754.3 L1758.74,754.3 L1760.29,754.3 L1761.84,754.3 L1763.39,754.3 L1764.94,754.3 L1766.49,754.3 L1768.04,754.3 L1769.58,754.3 L1771.13,754.3 L1772.68,754.3 L1774.23,754.3 L1775.78,754.3 L1777.33,754.3 L1778.88,754.3 L1780.43,754.3 L1781.98,754.3 L1783.52,754.3 L1785.07,754.3 L1786.62,754.3 L1788.17,754.3 L1789.72,754.3 L1791.27,754.3 L1792.82,754.3 L1794.37,754.3 L1795.92,754.3 L1797.46,754.3 L1799.01,754.3 L1800.56,754.3 L1802.11,754.3 L1803.66,754.3 L1805.21,754.3 L1806.76,754.3 L1808.31,754.3 L1809.86,754.3 L1811.4,754.3 L1812.95,754.3 L1814.5,754.3 L1816.05,754.3 L1817.6,754.3 L1819.15,754.3 L1820.7,754.3 L1822.25,754.3 L1823.8,754.3 L1825.34,754.3 L1826.89,754.3 L1828.44,754.3 L1829.99,754.3 L1831.54,754.3 L1833.09,754.3 L1834.64,754.3 L1836.19,754.3 L1837.74,754.3 L1839.28,754.3 L1840.83,754.3" stroke="#B5A59F" stroke-width="7.8"/>
<path d="M1469.1,754.3 L1840.83,754.3 M1469.1,754.2 L1470.65,754.17 L1472.2,754.13 L1473.75,754.09 L1475.3,754.03 L1476.84,753.96 L1478.39,753.87 L1479.94,753.76 L1481.49,753.62 L1483.04,753.46 L1484.59,753.26 L1486.14,753.03 L1487.69,752.74 L1489.24,752.4 L1490.78,751.99 L1492.33,751.5 L1493.88,750.93 L1495.43,750.27 L1496.98,749.49 L1498.53,748.58 L1500.08,747.53 L1501.63,746.33 L1503.18,744.95 L1504.72,743.37 L1506.27,741.59 L1507.82,739.58 L1509.37,737.32 L1510.92,734.79 L1512.47,731.99 L1514.02,728.89 L1515.57,725.47 L1517.12,721.73 L1518.66,717.66 L1520.21,713.24 L1521.76,708.48 L1523.31,703.37 L1524.86,697.92 L1526.41,692.14 L1527.96,686.04 L1529.51,679.63 L1531.06,672.94 L1532.6,666.01 L1534.15,658.85 L1535.7,651.51 L1537.25,644.02 L1538.8,636.45 L1540.35,628.83 L1541.9,621.21 L1543.45,613.66 L1545,606.23 L1546.54,598.97 L1548.09,591.95 L1549.64,585.22 L1551.19,578.83 L1552.74,572.83 L1554.29,567.28 L1555.84,562.21 L1557.39,557.66 L1558.94,553.66 L1560.48,550.24 L1562.03,547.41 L1563.58,545.18 L1565.13,543.54 L1566.68,542.49 L1568.23,541.97 L1569.78,541.93 L1571.33,542.31 L1572.88,543.24 L1574.42,544.73 L1575.97,546.82 L1577.52,549.51 L1579.07,552.79 L1580.62,556.65 L1582.17,561.07 L1583.72,566.02 L1585.27,571.46 L1586.82,577.35 L1588.36,583.65 L1589.91,590.31 L1591.46,597.27 L1593.01,604.47 L1594.56,611.87 L1596.11,619.39 L1597.66,627 L1599.21,634.62 L1600.76,642.21 L1602.3,649.72 L1603.85,657.1 L1605.4,664.31 L1606.95,671.3 L1608.5,678.05 L1610.05,684.53 L1611.6,690.7 L1613.15,696.57 L1614.7,702.1 L1616.24,707.29 L1617.79,712.13 L1619.34,716.63 L1620.89,720.78 L1622.44,724.6 L1623.99,728.1 L1625.54,731.27 L1627.09,734.15 L1628.64,736.74 L1630.18,739.06 L1631.73,741.13 L1633.28,742.96 L1634.83,744.59 L1636.38,746.01 L1637.93,747.26 L1639.48,748.34 L1641.03,749.28 L1642.58,750.09 L1644.12,750.78 L1645.67,751.38 L1647.22,751.88 L1648.77,752.3 L1650.32,752.66 L1651.87,752.96 L1653.42,753.21 L1654.97,753.42 L1656.52,753.59 L1658.06,753.73 L1659.61,753.84 L1661.16,753.94 L1662.71,754.01 L1664.26,754.07 L1665.81,754.12 L1667.36,754.16 L1668.91,754.19 L1670.46,754.22 L1672,754.24 L1673.55,754.25 L1675.1,754.26 L1676.65,754.27 L1678.2,754.28 L1679.75,754.28 L1681.3,754.29 L1682.85,754.29 L1684.4,754.29 L1685.94,754.29 L1687.49,754.3 L1689.04,754.3 L1690.59,754.3 L1692.14,754.3 L1693.69,754.3 L1695.24,754.3 L1696.79,754.3 L1698.34,754.3 L1699.88,754.3 L1701.43,754.3 L1702.98,754.3 L1704.53,754.3 L1706.08,754.3 L1707.63,754.3 L1709.18,754.3 L1710.73,754.3 L1712.28,754.3 L1713.82,754.3 L1715.37,754.3 L1716.92,754.3 L1718.47,754.3 L1720.02,754.3 L1721.57,754.3 L1723.12,754.3 L1724.67,754.3 L1726.22,754.3 L1727.76,754.3 L1729.31,754.3 L1730.86,754.3 L1732.41,754.3 L1733.96,754.3 L1735.51,754.3 L1737.06,754.3 L1738.61,754.3 L1740.16,754.3 L1741.7,754.3 L1743.25,754.3 L1744.8,754.3 L1746.35,754.3 L1747.9,754.3 L1749.45,754.3 L1751,754.3 L1752.55,754.3 L1754.1,754.3 L1755.64,754.3 L1757.19,754.3 L1758.74,754.3 L1760.29,754.3 L1761.84,754.3 L1763.39,754.3 L1764.94,754.3 L1766.49,754.3 L1768.04,754.3 L1769.58,754.3 L1771.13,754.3 L1772.68,754.3 L1774.23,754.3 L1775.78,754.3 L1777.33,754.3 L1778.88,754.3 L1780.43,754.3 L1781.98,754.3 L1783.52,754.3 L1785.07,754.3 L1786.62,754.3 L1788.17,754.3 L1789.72,754.3 L1791.27,754.3 L1792.82,754.3 L1794.37,754.3 L1795.92,754.3 L1797.46,754.3 L1799.01,754.3 L1800.56,754.3 L1802.11,754.3 L1803.66,754.3 L1805.21,754.3 L1806.76,754.3 L1808.31,754.3 L1809.86,754.3 L1811.4,754.3 L1812.95,754.3 L1814.5,754.3 L1816.05,754.3 L1817.6,754.3 L1819.15,754.3 L1820.7,754.3 L1822.25,754.3 L1823.8,754.3 L1825.34,754.3 L1826.89,754.3 L1828.44,754.3 L1829.99,754.3 L1831.54,754.3 L1833.09,754.3 L1834.64,754.3 L1836.19,754.3 L1837.74,754.3 L1839.28,754.3 L1840.83,754.3" stroke="#5168B6" stroke-width="7.8"/>
<path d="M1469.1,754.3 L1840.83,754.3 M1469.1,754.29 L1470.65,754.29 L1472.2,754.28 L1473.75,754.27 L1475.3,754.27 L1476.84,754.26 L1478.39,754.24 L1479.94,754.23 L1481.49,754.2 L1483.04,754.18 L1484.59,754.14 L1486.14,754.1 L1487.69,754.04 L1489.24,753.97 L1490.78,753.89 L1492.33,753.78 L1493.88,753.66 L1495.43,753.5 L1496.98,753.31 L1498.53,753.08 L1500.08,752.8 L1501.63,752.47 L1503.18,752.08 L1504.72,751.61 L1506.27,751.05 L1507.82,750.41 L1509.37,749.65 L1510.92,748.76 L1512.47,747.74 L1514.02,746.57 L1515.57,745.22 L1517.12,743.68 L1518.66,741.93 L1520.21,739.96 L1521.76,737.74 L1523.31,735.26 L1524.86,732.5 L1526.41,729.44 L1527.96,726.07 L1529.51,722.37 L1531.06,718.34 L1532.6,713.97 L1534.15,709.25 L1535.7,704.18 L1537.25,698.77 L1538.8,693.02 L1540.35,686.94 L1541.9,680.55 L1543.45,673.88 L1545,666.94 L1546.54,659.78 L1548.09,652.43 L1549.64,644.92 L1551.19,637.31 L1552.74,629.65 L1554.29,621.99 L1555.84,614.38 L1557.39,606.87 L1558.94,599.54 L1560.48,592.43 L1562.03,585.6 L1563.58,579.1 L1565.13,573 L1566.68,567.33 L1568.23,562.14 L1569.78,557.47 L1571.33,553.36 L1572.88,549.82 L1574.42,546.87 L1575.97,544.52 L1577.52,542.78 L1579.07,541.62 L1580.62,541.02 L1582.17,540.91 L1583.72,541.22 L1585.27,542.06 L1586.82,543.47 L1588.36,545.48 L1589.91,548.09 L1591.46,551.3 L1593.01,555.1 L1594.56,559.46 L1596.11,564.36 L1597.66,569.77 L1599.21,575.63 L1600.76,581.92 L1602.3,588.56 L1603.85,595.52 L1605.4,602.74 L1606.95,610.16 L1608.5,617.71 L1610.05,625.36 L1611.6,633.03 L1613.15,640.67 L1614.7,648.24 L1616.24,655.68 L1617.79,662.96 L1619.34,670.02 L1620.89,676.85 L1622.44,683.4 L1623.99,689.65 L1625.54,695.59 L1627.09,701.19 L1628.64,706.46 L1630.18,711.37 L1631.73,715.94 L1633.28,720.16 L1634.83,724.04 L1636.38,727.59 L1637.93,730.82 L1639.48,733.75 L1641.03,736.38 L1642.58,738.75 L1644.12,740.86 L1645.67,742.73 L1647.22,744.38 L1648.77,745.83 L1650.32,747.1 L1651.87,748.21 L1653.42,749.17 L1654.97,750 L1656.52,750.7 L1658.06,751.31 L1659.61,751.82 L1661.16,752.26 L1662.71,752.62 L1664.26,752.93 L1665.81,753.19 L1667.36,753.4 L1668.91,753.57 L1670.46,753.72 L1672,753.83 L1673.55,753.93 L1675.1,754.01 L1676.65,754.07 L1678.2,754.12 L1679.75,754.16 L1681.3,754.19 L1682.85,754.21 L1684.4,754.23 L1685.94,754.25 L1687.49,754.26 L1689.04,754.27 L1690.59,754.28 L1692.14,754.28 L1693.69,754.29 L1695.24,754.29 L1696.79,754.29 L1698.34,754.29 L1699.88,754.3 L1701.43,754.3 L1702.98,754.3 L1704.53,754.3 L1706.08,754.3 L1707.63,754.3 L1709.18,754.3 L1710.73,754.3 L1712.28,754.3 L1713.82,754.3 L1715.37,754.3 L1716.92,754.3 L1718.47,754.3 L1720.02,754.3 L1721.57,754.3 L1723.12,754.3 L1724.67,754.3 L1726.22,754.3 L1727.76,754.3 L1729.31,754.3 L1730.86,754.3 L1732.41,754.3 L1733.96,754.3 L1735.51,754.3 L1737.06,754.3 L1738.61,754.3 L1740.16,754.3 L1741.7,754.3 L1743.25,754.3 L1744.8,754.3 L1746.35,754.3 L1747.9,754.3 L1749.45,754.3 L1751,754.3 L1752.55,754.3 L1754.1,754.3 L1755.64,754.3 L1757.19,754.3 L1758.74,754.3 L1760.29,754.3 L1761.84,754.3 L1763.39,754.3 L1764.94,754.3 L1766.49,754.3 L1768.04,754.3 L1769.58,754.3 L1771.13,754.3 L1772.68,754.3 L1774.23,754.3 L1775.78,754.3 L1777.33,754.3 L1778.88,754.3 L1780.43,754.3 L1781.98,754.3 L1783.52,754.3 L1785.07,754.3 L1786.62,754.3 L1788.17,754.3 L1789.72,754.3 L1791.27,754.3 L1792.82,754.3 L1794.37,754.3 L1795.92,754.3 L1797.46,754.3 L1799.01,754.3 L1800.56,754.3 L1802.11,754.3 L1803.66,754.3 L1805.21,754.3 L1806.76,754.3 L1808.31,754.3 L1809.86,754.3 L1811.4,754.3 L1812.95,754.3 L1814.5,754.3 L1816.05,754.3 L1817.6,754.3 L1819.15,754.3 L1820.7,754.3 L1822.25,754.3 L1823.8,754.3 L1825.34,754.3 L1826.89,754.3 L1828.44,754.3 L1829.99,754.3 L1831.54,754.3 L1833.09,754.3 L1834.64,754.3 L1836.19,754.3 L1837.74,754.3 L1839.28,754.3 L1840.83,754.3" stroke="#2D6B3C" stroke-width="7.8"/>
</g>
<g stroke="#0c0c0c" stroke-width="3.5" fill="none" stroke-linecap="butt">
<rect x="1469.10" y="430.20" width="557.60" height="325.80"/>
<line x1="1469.10" y1="756.00" x2="1469.10" y2="763.70"/>
<line x1="1562.03" y1="756.00" x2="1562.03" y2="763.70"/>
<line x1="1654.97" y1="756.00" x2="1654.97" y2="763.70"/>
<line x1="1747.90" y1="756.00" x2="1747.90" y2="763.70"/>
<line x1="1840.83" y1="756.00" x2="1840.83" y2="763.70"/>
<line x1="1933.77" y1="756.00" x2="1933.77" y2="763.70"/>
<line x1="2026.70" y1="756.00" x2="2026.70" y2="763.70"/>
<line x1="1461.40" y1="430.20" x2="1469.10" y2="430.20"/>
<line x1="1461.40" y1="511.65" x2="1469.10" y2="511.65"/>
<line x1="1461.40" y1="593.10" x2="1469.10" y2="593.10"/>
<line x1="1461.40" y1="674.55" x2="1469.10" y2="674.55"/>
<line x1="1461.40" y1="756.00" x2="1469.10" y2="756.00"/>
</g>
<g font-family="'Liberation Sans', Arial, sans-serif" font-size="28.8" fill="#1c1a1b">
<text x="1461.47" y="793.30">0</text>
<text x="1553.65" y="793.30">1</text>
<text x="1646.97" y="793.30">2</text>
<text x="1739.98" y="793.30">3</text>
<text x="1832.91" y="793.30">4</text>
<text x="1925.77" y="793.30">5</text>
<text x="2018.60" y="793.30">6</text>
<text x="1417.75" y="435.00">2.0</text>
<text x="1417.82" y="518.70">1.5</text>
<text x="1417.75" y="601.70">1.0</text>
<text x="1417.82" y="682.70">0.5</text>
<text x="1436.90" y="760.80">0</text>
</g>
<text x="1487.73" y="478.30" font-family="'Liberation Sans', Arial, sans-serif" font-weight="bold" font-size="33.4" fill="#1c1a1b">(h)</text>
</g>
<g id="panel-c">
<g clip-path="url(#cpc)" fill="none" stroke-linejoin="round" stroke-linecap="butt">
<path d="M130.05,1146.9 L688.3,1146.9 M130.05,1146.86 L132.38,1146.85 L134.7,1146.85 L137.03,1146.84 L139.35,1146.83 L141.68,1146.82 L144.01,1146.81 L146.33,1146.8 L148.66,1146.78 L150.98,1146.77 L153.31,1146.75 L155.64,1146.73 L157.96,1146.71 L160.29,1146.68 L162.61,1146.66 L164.94,1146.62 L167.27,1146.59 L169.59,1146.55 L171.92,1146.51 L174.24,1146.46 L176.57,1146.41 L178.9,1146.35 L181.22,1146.29 L183.55,1146.22 L185.88,1146.14 L188.2,1146.06 L190.53,1145.96 L192.85,1145.86 L195.18,1145.74 L197.51,1145.62 L199.83,1145.48 L202.16,1145.33 L204.48,1145.17 L206.81,1144.99 L209.14,1144.79 L211.46,1144.58 L213.79,1144.35 L216.11,1144.1 L218.44,1143.83 L220.77,1143.53 L223.09,1143.21 L225.42,1142.87 L227.74,1142.49 L230.07,1142.09 L232.4,1141.66 L234.72,1141.2 L237.05,1140.7 L239.37,1140.16 L241.7,1139.58 L244.03,1138.97 L246.35,1138.31 L248.68,1137.61 L251,1136.86 L253.33,1136.06 L255.66,1135.22 L257.98,1134.32 L260.31,1133.36 L262.63,1132.35 L264.96,1131.28 L267.29,1130.15 L269.61,1128.96 L271.94,1127.7 L274.26,1126.37 L276.59,1124.98 L278.92,1123.52 L281.24,1121.99 L283.57,1120.38 L285.89,1118.71 L288.22,1116.95 L290.55,1115.13 L292.87,1113.22 L295.2,1111.25 L297.52,1109.19 L299.85,1107.06 L302.18,1104.85 L304.5,1102.57 L306.83,1100.22 L309.16,1097.79 L311.48,1095.28 L313.81,1092.71 L316.13,1090.07 L318.46,1087.36 L320.79,1084.59 L323.11,1081.75 L325.44,1078.86 L327.76,1075.91 L330.09,1072.92 L332.42,1069.87 L334.74,1066.79 L337.07,1063.66 L339.39,1060.5 L341.72,1057.32 L344.05,1054.11 L346.37,1050.89 L348.7,1047.65 L351.02,1044.41 L353.35,1041.17 L355.68,1037.94 L358,1034.73 L360.33,1031.53 L362.65,1028.37 L364.98,1025.23 L367.31,1022.15 L369.63,1019.11 L371.96,1016.12 L374.28,1013.2 L376.61,1010.35 L378.94,1007.57 L381.26,1004.88 L383.59,1002.28 L385.91,999.77 L388.24,997.36 L390.57,995.06 L392.89,992.87 L395.22,990.8 L397.54,988.86 L399.87,987.04 L402.2,985.35 L404.52,983.79 L406.85,982.37 L409.18,981.09 L411.5,979.96 L413.83,978.96 L416.15,978.12 L418.48,977.41 L420.81,976.85 L423.13,976.44 L425.46,976.16 L427.78,976.02 L430.11,976.01 L432.44,976.12 L434.76,976.38 L437.09,976.82 L439.41,977.43 L441.74,978.23 L444.07,979.21 L446.39,980.38 L448.72,981.74 L451.04,983.29 L453.37,985.02 L455.7,986.93 L458.02,989.02 L460.35,991.28 L462.67,993.7 L465,996.29 L467.33,999.03 L469.65,1001.91 L471.98,1004.93 L474.3,1008.08 L476.63,1011.34 L478.96,1014.71 L481.28,1018.17 L483.61,1021.72 L485.93,1025.34 L488.26,1029.02 L490.59,1032.76 L492.91,1036.53 L495.24,1040.34 L497.56,1044.16 L499.89,1047.99 L502.22,1051.82 L504.54,1055.63 L506.87,1059.42 L509.19,1063.18 L511.52,1066.9 L513.85,1070.56 L516.17,1074.17 L518.5,1077.71 L520.83,1081.18 L523.15,1084.57 L525.48,1087.88 L527.8,1091.1 L530.13,1094.22 L532.46,1097.24 L534.78,1100.17 L537.11,1102.99 L539.43,1105.7 L541.76,1108.31 L544.09,1110.81 L546.41,1113.2 L548.74,1115.48 L551.06,1117.65 L553.39,1119.72 L555.72,1121.68 L558.04,1123.54 L560.37,1125.29 L562.69,1126.95 L565.02,1128.5 L567.35,1129.97 L569.67,1131.34 L572,1132.63 L574.32,1133.83 L576.65,1134.94 L578.98,1135.99 L581.3,1136.95 L583.63,1137.85 L585.95,1138.68 L588.28,1139.44 L590.61,1140.15 L592.93,1140.8 L595.26,1141.39 L597.58,1141.94 L599.91,1142.44 L602.24,1142.89 L604.56,1143.31 L606.89,1143.68 L609.21,1144.03 L611.54,1144.34 L613.87,1144.62 L616.19,1144.87 L618.52,1145.1 L620.84,1145.31 L623.17,1145.49 L625.5,1145.66 L627.82,1145.8 L630.15,1145.93 L632.48,1146.05 L634.8,1146.16 L637.13,1146.25 L639.45,1146.33 L641.78,1146.4 L644.11,1146.47 L646.43,1146.52 L648.76,1146.57 L651.08,1146.62 L653.41,1146.66 L655.74,1146.69 L658.06,1146.72 L660.39,1146.74 L662.71,1146.77 L665.04,1146.79 L667.37,1146.8 L669.69,1146.82 L672.02,1146.83 L674.34,1146.84 L676.67,1146.85 L679,1146.86 L681.32,1146.86 L683.65,1146.87 L685.97,1146.87 L688.3,1146.88" stroke="#8AACDC" stroke-width="8.0"/>
<path d="M130.05,1146.9 L688.3,1146.9 M130.05,1146.62 L132.38,1146.58 L134.7,1146.54 L137.03,1146.49 L139.35,1146.44 L141.68,1146.38 L144.01,1146.31 L146.33,1146.24 L148.66,1146.16 L150.98,1146.07 L153.31,1145.97 L155.64,1145.86 L157.96,1145.73 L160.29,1145.6 L162.61,1145.45 L164.94,1145.28 L167.27,1145.1 L169.59,1144.9 L171.92,1144.68 L174.24,1144.44 L176.57,1144.18 L178.9,1143.89 L181.22,1143.57 L183.55,1143.23 L185.88,1142.86 L188.2,1142.46 L190.53,1142.02 L192.85,1141.55 L195.18,1141.03 L197.51,1140.48 L199.83,1139.88 L202.16,1139.24 L204.48,1138.55 L206.81,1137.8 L209.14,1137.01 L211.46,1136.16 L213.79,1135.24 L216.11,1134.27 L218.44,1133.24 L220.77,1132.13 L223.09,1130.96 L225.42,1129.72 L227.74,1128.41 L230.07,1127.01 L232.4,1125.55 L234.72,1124 L237.05,1122.37 L239.37,1120.66 L241.7,1118.86 L244.03,1116.98 L246.35,1115.02 L248.68,1112.97 L251,1110.83 L253.33,1108.61 L255.66,1106.3 L257.98,1103.91 L260.31,1101.44 L262.63,1098.88 L264.96,1096.25 L267.29,1093.53 L269.61,1090.75 L271.94,1087.9 L274.26,1084.98 L276.59,1082 L278.92,1078.96 L281.24,1075.87 L283.57,1072.73 L285.89,1069.56 L288.22,1066.36 L290.55,1063.12 L292.87,1059.87 L295.2,1056.61 L297.52,1053.35 L299.85,1050.1 L302.18,1046.86 L304.5,1043.64 L306.83,1040.46 L309.16,1037.32 L311.48,1034.23 L313.81,1031.2 L316.13,1028.24 L318.46,1025.36 L320.79,1022.58 L323.11,1019.89 L325.44,1017.3 L327.76,1014.84 L330.09,1012.5 L332.42,1010.29 L334.74,1008.21 L337.07,1006.29 L339.39,1004.52 L341.72,1002.91 L344.05,1001.47 L346.37,1000.19 L348.7,999.09 L351.02,998.17 L353.35,997.43 L355.68,996.87 L358,996.51 L360.33,996.33 L362.65,996.32 L364.98,996.47 L367.31,996.79 L369.63,997.27 L371.96,997.91 L374.28,998.7 L376.61,999.63 L378.94,1000.71 L381.26,1001.91 L383.59,1003.24 L385.91,1004.69 L388.24,1006.25 L390.57,1007.91 L392.89,1009.66 L395.22,1011.49 L397.54,1013.4 L399.87,1015.38 L402.2,1017.41 L404.52,1019.49 L406.85,1021.6 L409.18,1023.75 L411.5,1025.91 L413.83,1028.09 L416.15,1030.28 L418.48,1032.46 L420.81,1034.63 L423.13,1036.78 L425.46,1038.91 L427.78,1041.01 L430.11,1043.08 L432.44,1045.1 L434.76,1047.09 L437.09,1049.03 L439.41,1050.92 L441.74,1052.76 L444.07,1054.54 L446.39,1056.28 L448.72,1057.95 L451.04,1059.58 L453.37,1061.15 L455.7,1062.67 L458.02,1064.14 L460.35,1065.57 L462.67,1066.94 L465,1068.28 L467.33,1069.57 L469.65,1070.83 L471.98,1072.05 L474.3,1073.25 L476.63,1074.42 L478.96,1075.57 L481.28,1076.7 L483.61,1077.81 L485.93,1078.92 L488.26,1080.02 L490.59,1081.12 L492.91,1082.21 L495.24,1083.31 L497.56,1084.42 L499.89,1085.54 L502.22,1086.65 L504.54,1087.78 L506.87,1088.91 L509.19,1090.05 L511.52,1091.21 L513.85,1092.37 L516.17,1093.55 L518.5,1094.74 L520.83,1095.94 L523.15,1097.16 L525.48,1098.39 L527.8,1099.63 L530.13,1100.88 L532.46,1102.14 L534.78,1103.42 L537.11,1104.69 L539.43,1105.98 L541.76,1107.27 L544.09,1108.56 L546.41,1109.85 L548.74,1111.13 L551.06,1112.42 L553.39,1113.69 L555.72,1114.96 L558.04,1116.22 L560.37,1117.47 L562.69,1118.7 L565.02,1119.91 L567.35,1121.1 L569.67,1122.28 L572,1123.43 L574.32,1124.56 L576.65,1125.66 L578.98,1126.73 L581.3,1127.78 L583.63,1128.79 L585.95,1129.78 L588.28,1130.73 L590.61,1131.65 L592.93,1132.54 L595.26,1133.4 L597.58,1134.22 L599.91,1135.01 L602.24,1135.77 L604.56,1136.49 L606.89,1137.18 L609.21,1137.83 L611.54,1138.46 L613.87,1139.05 L616.19,1139.61 L618.52,1140.14 L620.84,1140.64 L623.17,1141.12 L625.5,1141.56 L627.82,1141.98 L630.15,1142.37 L632.48,1142.73 L634.8,1143.08 L637.13,1143.4 L639.45,1143.69 L641.78,1143.97 L644.11,1144.22 L646.43,1144.46 L648.76,1144.68 L651.08,1144.88 L653.41,1145.07 L655.74,1145.24 L658.06,1145.4 L660.39,1145.55 L662.71,1145.68 L665.04,1145.8 L667.37,1145.91 L669.69,1146.01 L672.02,1146.1 L674.34,1146.19 L676.67,1146.26 L679,1146.33 L681.32,1146.39 L683.65,1146.45 L685.97,1146.5 L688.3,1146.54" stroke="#454B5C" stroke-width="8.0"/>
</g>
<g stroke="#0c0c0c" stroke-width="3.5" fill="none" stroke-linecap="butt">
<rect x="130.05" y="821.30" width="558.25" height="325.90"/>
<line x1="167.27" y1="1147.20" x2="167.27" y2="1154.90"/>
<line x1="241.70" y1="1147.20" x2="241.70" y2="1154.90"/>
<line x1="316.13" y1="1147.20" x2="316.13" y2="1154.90"/>
<line x1="390.57" y1="1147.20" x2="390.57" y2="1154.90"/>
<line x1="465.00" y1="1147.20" x2="465.00" y2="1154.90"/>
<line x1="539.43" y1="1147.20" x2="539.43" y2="1154.90"/>
<line x1="613.87" y1="1147.20" x2="613.87" y2="1154.90"/>
<line x1="688.30" y1="1147.20" x2="688.30" y2="1154.90"/>
<line x1="122.35" y1="821.30" x2="130.05" y2="821.30"/>
<line x1="122.35" y1="902.77" x2="130.05" y2="902.77"/>
<line x1="122.35" y1="984.25" x2="130.05" y2="984.25"/>
<line x1="122.35" y1="1065.72" x2="130.05" y2="1065.72"/>
<line x1="122.35" y1="1147.20" x2="130.05" y2="1147.20"/>
</g>
<g font-family="'Liberation Sans', Arial, sans-serif" font-size="28.8" fill="#1c1a1b">
<text x="136.16" y="1182.80">1060</text>
<text x="210.16" y="1182.80">1080</text>
<text x="289.00" y="1182.80">1100</text>
<text x="361.50" y="1182.80">1120</text>
<text x="435.70" y="1182.80">1140</text>
<text x="510.40" y="1182.80">1160</text>
<text x="583.40" y="1182.80">1180</text>
<text x="658.16" y="1182.80">1200</text>
<text x="64.28" y="829.30">0.04</text>
<text x="64.71" y="910.30">0.03</text>
<text x="64.92" y="991.20">0.02</text>
<text x="64.85" y="1075.00">0.01</text>
<text x="95.90" y="1154.30">0</text>
</g>
<text x="150.13" y="868.30" font-family="'Liberation Sans', Arial, sans-serif" font-weight="bold" font-size="33.4" fill="#1c1a1b">(c) Type3 cpx</text>
</g>
<g id="panel-f">
<g clip-path="url(#cpf)" fill="none" stroke-linejoin="round" stroke-linecap="butt">
<path d="M799.7,1146.9 L1357.6,1146.9 M799.7,1146.9 L802.02,1146.9 L804.35,1146.9 L806.67,1146.9 L809,1146.9 L811.32,1146.9 L813.65,1146.9 L815.97,1146.9 L818.3,1146.9 L820.62,1146.9 L822.95,1146.9 L825.27,1146.9 L827.6,1146.9 L829.92,1146.9 L832.24,1146.9 L834.57,1146.9 L836.89,1146.9 L839.22,1146.89 L841.54,1146.89 L843.87,1146.89 L846.19,1146.89 L848.52,1146.89 L850.84,1146.88 L853.17,1146.88 L855.49,1146.87 L857.81,1146.87 L860.14,1146.86 L862.46,1146.85 L864.79,1146.84 L867.11,1146.83 L869.44,1146.82 L871.76,1146.8 L874.09,1146.78 L876.41,1146.75 L878.74,1146.73 L881.06,1146.69 L883.38,1146.65 L885.71,1146.61 L888.03,1146.55 L890.36,1146.49 L892.68,1146.41 L895.01,1146.33 L897.33,1146.23 L899.66,1146.11 L901.98,1145.98 L904.31,1145.83 L906.63,1145.65 L908.96,1145.45 L911.28,1145.22 L913.6,1144.95 L915.93,1144.66 L918.25,1144.32 L920.58,1143.94 L922.9,1143.51 L925.23,1143.02 L927.55,1142.48 L929.88,1141.87 L932.2,1141.18 L934.53,1140.43 L936.85,1139.58 L939.17,1138.65 L941.5,1137.62 L943.82,1136.48 L946.15,1135.22 L948.47,1133.85 L950.8,1132.34 L953.12,1130.7 L955.45,1128.91 L957.77,1126.96 L960.1,1124.86 L962.42,1122.58 L964.75,1120.13 L967.07,1117.49 L969.39,1114.66 L971.72,1111.64 L974.04,1108.41 L976.37,1104.98 L978.69,1101.34 L981.02,1097.48 L983.34,1093.42 L985.67,1089.14 L987.99,1084.64 L990.32,1079.94 L992.64,1075.03 L994.96,1069.92 L997.29,1064.62 L999.61,1059.13 L1001.94,1053.46 L1004.26,1047.64 L1006.59,1041.66 L1008.91,1035.54 L1011.24,1029.31 L1013.56,1022.98 L1015.89,1016.56 L1018.21,1010.09 L1020.54,1003.57 L1022.86,997.04 L1025.18,990.51 L1027.51,984.01 L1029.83,977.57 L1032.16,971.21 L1034.48,964.95 L1036.81,958.83 L1039.13,952.87 L1041.46,947.08 L1043.78,941.5 L1046.11,936.15 L1048.43,931.05 L1050.76,926.22 L1053.08,921.69 L1055.4,917.46 L1057.73,913.55 L1060.05,909.99 L1062.38,906.77 L1064.7,903.91 L1067.03,901.42 L1069.35,899.29 L1071.68,897.53 L1074,896.14 L1076.33,895.11 L1078.65,894.43 L1080.97,894.08 L1083.3,894 L1085.62,894.15 L1087.95,894.56 L1090.27,895.25 L1092.6,896.25 L1094.92,897.55 L1097.25,899.16 L1099.57,901.09 L1101.9,903.33 L1104.22,905.89 L1106.55,908.76 L1108.87,911.92 L1111.19,915.39 L1113.52,919.13 L1115.84,923.15 L1118.17,927.42 L1120.49,931.94 L1122.82,936.69 L1125.14,941.65 L1127.47,946.81 L1129.79,952.14 L1132.12,957.63 L1134.44,963.26 L1136.76,969.01 L1139.09,974.86 L1141.41,980.78 L1143.74,986.76 L1146.06,992.78 L1148.39,998.82 L1150.71,1004.86 L1153.04,1010.88 L1155.36,1016.87 L1157.69,1022.8 L1160.01,1028.66 L1162.34,1034.44 L1164.66,1040.12 L1166.98,1045.68 L1169.31,1051.12 L1171.63,1056.43 L1173.96,1061.59 L1176.28,1066.59 L1178.61,1071.44 L1180.93,1076.12 L1183.26,1080.62 L1185.58,1084.95 L1187.91,1089.1 L1190.23,1093.07 L1192.55,1096.85 L1194.88,1100.45 L1197.2,1103.87 L1199.53,1107.11 L1201.85,1110.18 L1204.18,1113.07 L1206.5,1115.78 L1208.83,1118.34 L1211.15,1120.73 L1213.48,1122.96 L1215.8,1125.05 L1218.12,1126.99 L1220.45,1128.79 L1222.77,1130.46 L1225.1,1132 L1227.42,1133.42 L1229.75,1134.74 L1232.07,1135.94 L1234.4,1137.04 L1236.72,1138.05 L1239.05,1138.97 L1241.37,1139.81 L1243.7,1140.57 L1246.02,1141.26 L1248.34,1141.89 L1250.67,1142.45 L1252.99,1142.96 L1255.32,1143.42 L1257.64,1143.82 L1259.97,1144.19 L1262.29,1144.52 L1264.62,1144.81 L1266.94,1145.07 L1269.27,1145.3 L1271.59,1145.51 L1273.91,1145.69 L1276.24,1145.85 L1278.56,1145.99 L1280.89,1146.11 L1283.21,1146.22 L1285.54,1146.31 L1287.86,1146.39 L1290.19,1146.46 L1292.51,1146.53 L1294.84,1146.58 L1297.16,1146.63 L1299.49,1146.67 L1301.81,1146.7 L1304.13,1146.73 L1306.46,1146.76 L1308.78,1146.78 L1311.11,1146.8 L1313.43,1146.82 L1315.76,1146.83 L1318.08,1146.84 L1320.41,1146.85 L1322.73,1146.86 L1325.06,1146.87 L1327.38,1146.87 L1329.7,1146.88 L1332.03,1146.88 L1334.35,1146.88 L1336.68,1146.89 L1339,1146.89 L1341.33,1146.89 L1343.65,1146.89 L1345.98,1146.89 L1348.3,1146.89 L1350.63,1146.9 L1352.95,1146.9 L1355.28,1146.9 L1357.6,1146.9" stroke="#8AACDC" stroke-width="8.0"/>
<path d="M799.7,1146.9 L1357.6,1146.9 M799.7,1146.75 L802.02,1146.72 L804.35,1146.69 L806.67,1146.66 L809,1146.62 L811.32,1146.58 L813.65,1146.53 L815.97,1146.48 L818.3,1146.41 L820.62,1146.34 L822.95,1146.26 L825.27,1146.17 L827.6,1146.07 L829.92,1145.96 L832.24,1145.84 L834.57,1145.7 L836.89,1145.54 L839.22,1145.37 L841.54,1145.17 L843.87,1144.96 L846.19,1144.72 L848.52,1144.46 L850.84,1144.18 L853.17,1143.86 L855.49,1143.52 L857.81,1143.14 L860.14,1142.73 L862.46,1142.28 L864.79,1141.8 L867.11,1141.27 L869.44,1140.7 L871.76,1140.08 L874.09,1139.41 L876.41,1138.7 L878.74,1137.93 L881.06,1137.11 L883.38,1136.22 L885.71,1135.28 L888.03,1134.28 L890.36,1133.22 L892.68,1132.09 L895.01,1130.89 L897.33,1129.63 L899.66,1128.3 L901.98,1126.89 L904.31,1125.42 L906.63,1123.87 L908.96,1122.26 L911.28,1120.57 L913.6,1118.8 L915.93,1116.97 L918.25,1115.06 L920.58,1113.09 L922.9,1111.04 L925.23,1108.92 L927.55,1106.74 L929.88,1104.48 L932.2,1102.16 L934.53,1099.78 L936.85,1097.34 L939.17,1094.83 L941.5,1092.26 L943.82,1089.64 L946.15,1086.96 L948.47,1084.22 L950.8,1081.43 L953.12,1078.59 L955.45,1075.69 L957.77,1072.75 L960.1,1069.75 L962.42,1066.71 L964.75,1063.62 L967.07,1060.48 L969.39,1057.29 L971.72,1054.05 L974.04,1050.76 L976.37,1047.43 L978.69,1044.04 L981.02,1040.61 L983.34,1037.12 L985.67,1033.59 L987.99,1030.02 L990.32,1026.47 L992.64,1022.93 L994.96,1019.41 L997.29,1015.89 L999.61,1012.38 L1001.94,1008.88 L1004.26,1005.37 L1006.59,1001.86 L1008.91,998.35 L1011.24,994.82 L1013.56,991.29 L1015.89,987.74 L1018.21,984.18 L1020.54,980.6 L1022.86,977.01 L1025.18,973.42 L1027.51,969.82 L1029.83,966.21 L1032.16,962.62 L1034.48,959.04 L1036.81,955.48 L1039.13,951.96 L1041.46,948.49 L1043.78,945.08 L1046.11,941.75 L1048.43,938.5 L1050.76,935.37 L1053.08,932.35 L1055.4,929.49 L1057.73,926.78 L1060.05,924.25 L1062.38,921.91 L1064.7,919.79 L1067.03,917.9 L1069.35,916.25 L1071.68,914.87 L1074,913.76 L1076.33,912.94 L1078.65,912.42 L1080.97,912.2 L1083.3,912.31 L1085.62,912.74 L1087.95,913.56 L1090.27,914.82 L1092.6,916.5 L1094.92,918.62 L1097.25,921.15 L1099.57,924.09 L1101.9,927.43 L1104.22,931.15 L1106.55,935.23 L1108.87,939.65 L1111.19,944.39 L1113.52,949.43 L1115.84,954.74 L1118.17,960.28 L1120.49,966.04 L1122.82,971.99 L1125.14,978.09 L1127.47,984.32 L1129.79,990.64 L1132.12,997.03 L1134.44,1003.46 L1136.76,1009.9 L1139.09,1016.32 L1141.41,1022.71 L1143.74,1029.03 L1146.06,1035.27 L1148.39,1041.39 L1150.71,1047.4 L1153.04,1053.25 L1155.36,1058.95 L1157.69,1064.48 L1160.01,1069.82 L1162.34,1074.97 L1164.66,1079.91 L1166.98,1084.65 L1169.31,1089.17 L1171.63,1093.48 L1173.96,1097.57 L1176.28,1101.45 L1178.61,1105.11 L1180.93,1108.55 L1183.26,1111.79 L1185.58,1114.82 L1187.91,1117.65 L1190.23,1120.29 L1192.55,1122.74 L1194.88,1125.01 L1197.2,1127.11 L1199.53,1129.04 L1201.85,1130.83 L1204.18,1132.46 L1206.5,1133.96 L1208.83,1135.32 L1211.15,1136.56 L1213.48,1137.69 L1215.8,1138.72 L1218.12,1139.64 L1220.45,1140.47 L1222.77,1141.22 L1225.1,1141.9 L1227.42,1142.5 L1229.75,1143.04 L1232.07,1143.52 L1234.4,1143.94 L1236.72,1144.32 L1239.05,1144.66 L1241.37,1144.95 L1243.7,1145.21 L1246.02,1145.44 L1248.34,1145.64 L1250.67,1145.82 L1252.99,1145.97 L1255.32,1146.1 L1257.64,1146.22 L1259.97,1146.32 L1262.29,1146.4 L1264.62,1146.48 L1266.94,1146.54 L1269.27,1146.6 L1271.59,1146.64 L1273.91,1146.68 L1276.24,1146.72 L1278.56,1146.75 L1280.89,1146.77 L1283.21,1146.79 L1285.54,1146.81 L1287.86,1146.83 L1290.19,1146.84 L1292.51,1146.85 L1294.84,1146.86 L1297.16,1146.87 L1299.49,1146.87 L1301.81,1146.88 L1304.13,1146.88 L1306.46,1146.88 L1308.78,1146.89 L1311.11,1146.89 L1313.43,1146.89 L1315.76,1146.89 L1318.08,1146.89 L1320.41,1146.9 L1322.73,1146.9 L1325.06,1146.9 L1327.38,1146.9 L1329.7,1146.9 L1332.03,1146.9 L1334.35,1146.9 L1336.68,1146.9 L1339,1146.9 L1341.33,1146.9 L1343.65,1146.9 L1345.98,1146.9 L1348.3,1146.9 L1350.63,1146.9 L1352.95,1146.9 L1355.28,1146.9 L1357.6,1146.9" stroke="#454B5C" stroke-width="8.0"/>
</g>
<g stroke="#0c0c0c" stroke-width="3.5" fill="none" stroke-linecap="butt">
<rect x="799.70" y="821.30" width="557.90" height="325.90"/>
<line x1="799.70" y1="1147.20" x2="799.70" y2="1154.90"/>
<line x1="892.68" y1="1147.20" x2="892.68" y2="1154.90"/>
<line x1="985.67" y1="1147.20" x2="985.67" y2="1154.90"/>
<line x1="1078.65" y1="1147.20" x2="1078.65" y2="1154.90"/>
<line x1="1171.63" y1="1147.20" x2="1171.63" y2="1154.90"/>
<line x1="1264.62" y1="1147.20" x2="1264.62" y2="1154.90"/>
<line x1="1357.60" y1="1147.20" x2="1357.60" y2="1154.90"/>
<line x1="792.00" y1="821.30" x2="799.70" y2="821.30"/>
<line x1="792.00" y1="902.77" x2="799.70" y2="902.77"/>
<line x1="792.00" y1="984.25" x2="799.70" y2="984.25"/>
<line x1="792.00" y1="1065.72" x2="799.70" y2="1065.72"/>
<line x1="792.00" y1="1147.20" x2="799.70" y2="1147.20"/>
</g>
<g font-family="'Liberation Sans', Arial, sans-serif" font-size="28.8" fill="#1c1a1b">
<text x="788.78" y="1184.20">4</text>
<text x="884.88" y="1184.20">6</text>
<text x="978.17" y="1184.20">8</text>
<text x="1064.13" y="1184.20">10</text>
<text x="1156.59" y="1184.20">12</text>
<text x="1248.45" y="1184.20">14</text>
<text x="1341.35" y="1184.20">16</text>
<text x="748.16" y="830.10">0.4</text>
<text x="748.59" y="911.90">0.3</text>
<text x="748.81" y="992.80">0.2</text>
<text x="748.74" y="1076.30">0.1</text>
<text x="764.00" y="1154.30">0</text>
</g>
<text x="816.33" y="868.90" font-family="'Liberation Sans', Arial, sans-serif" font-weight="bold" font-size="33.4" fill="#1c1a1b">(f)</text>
</g>
<g id="panel-i">
<g clip-path="url(#cpi)" fill="none" stroke-linejoin="round" stroke-linecap="butt">
<path d="M1469.1,1146.9 L2026.7,1146.9 M1469.1,1146.89 L1471.42,1146.89 L1473.75,1146.88 L1476.07,1146.88 L1478.39,1146.88 L1480.72,1146.87 L1483.04,1146.86 L1485.36,1146.86 L1487.69,1146.85 L1490.01,1146.84 L1492.33,1146.83 L1494.66,1146.82 L1496.98,1146.8 L1499.3,1146.79 L1501.63,1146.77 L1503.95,1146.75 L1506.27,1146.72 L1508.6,1146.69 L1510.92,1146.66 L1513.24,1146.62 L1515.57,1146.58 L1517.89,1146.53 L1520.21,1146.48 L1522.54,1146.41 L1524.86,1146.34 L1527.18,1146.26 L1529.51,1146.17 L1531.83,1146.08 L1534.15,1145.96 L1536.48,1145.84 L1538.8,1145.7 L1541.12,1145.55 L1543.45,1145.38 L1545.77,1145.19 L1548.09,1144.99 L1550.42,1144.76 L1552.74,1144.51 L1555.06,1144.24 L1557.39,1143.95 L1559.71,1143.63 L1562.03,1143.28 L1564.36,1142.9 L1566.68,1142.49 L1569,1142.05 L1571.33,1141.58 L1573.65,1141.07 L1575.97,1140.53 L1578.3,1139.95 L1580.62,1139.33 L1582.94,1138.67 L1585.27,1137.97 L1587.59,1137.24 L1589.91,1136.46 L1592.24,1135.64 L1594.56,1134.78 L1596.88,1133.88 L1599.21,1132.93 L1601.53,1131.94 L1603.85,1130.92 L1606.18,1129.84 L1608.5,1128.73 L1610.82,1127.58 L1613.15,1126.38 L1615.47,1125.14 L1617.79,1123.87 L1620.12,1122.55 L1622.44,1121.19 L1624.76,1119.79 L1627.09,1118.35 L1629.41,1116.87 L1631.73,1115.34 L1634.06,1113.77 L1636.38,1112.15 L1638.7,1110.49 L1641.03,1108.78 L1643.35,1107.01 L1645.67,1105.19 L1648,1103.3 L1650.32,1101.36 L1652.64,1099.34 L1654.97,1097.26 L1657.29,1095.09 L1659.61,1092.85 L1661.94,1090.51 L1664.26,1088.08 L1666.58,1085.55 L1668.91,1082.91 L1671.23,1080.16 L1673.55,1077.28 L1675.88,1074.27 L1678.2,1071.13 L1680.52,1067.85 L1682.85,1064.42 L1685.17,1060.86 L1687.49,1057.15 L1689.82,1053.3 L1692.14,1049.31 L1694.46,1045.19 L1696.79,1040.94 L1699.11,1036.57 L1701.43,1032.09 L1703.76,1027.51 L1706.08,1022.85 L1708.4,1018.12 L1710.73,1013.33 L1713.05,1008.51 L1715.37,1003.68 L1717.7,998.85 L1720.02,994.05 L1722.34,989.31 L1724.67,984.65 L1726.99,980.1 L1729.31,975.69 L1731.64,971.43 L1733.96,967.36 L1736.28,963.51 L1738.61,959.91 L1740.93,956.57 L1743.25,953.52 L1745.58,950.8 L1747.9,948.41 L1750.22,946.38 L1752.55,944.72 L1754.87,943.46 L1757.19,942.61 L1759.52,942.16 L1761.84,942.14 L1764.16,942.55 L1766.49,943.31 L1768.81,944.37 L1771.13,945.71 L1773.46,947.35 L1775.78,949.28 L1778.1,951.48 L1780.43,953.95 L1782.75,956.68 L1785.07,959.67 L1787.4,962.89 L1789.72,966.34 L1792.04,970 L1794.37,973.85 L1796.69,977.9 L1799.01,982.1 L1801.34,986.46 L1803.66,990.95 L1805.98,995.56 L1808.31,1000.27 L1810.63,1005.06 L1812.95,1009.91 L1815.28,1014.81 L1817.6,1019.74 L1819.92,1024.69 L1822.25,1029.63 L1824.57,1034.56 L1826.89,1039.45 L1829.22,1044.3 L1831.54,1049.09 L1833.86,1053.81 L1836.19,1058.44 L1838.51,1062.99 L1840.83,1067.43 L1843.16,1071.76 L1845.48,1075.97 L1847.8,1080.05 L1850.13,1084 L1852.45,1087.82 L1854.77,1091.49 L1857.1,1095.03 L1859.42,1098.41 L1861.74,1101.65 L1864.07,1104.75 L1866.39,1107.7 L1868.71,1110.5 L1871.04,1113.15 L1873.36,1115.67 L1875.68,1118.05 L1878.01,1120.28 L1880.33,1122.39 L1882.65,1124.37 L1884.98,1126.22 L1887.3,1127.95 L1889.62,1129.56 L1891.95,1131.07 L1894.27,1132.46 L1896.59,1133.76 L1898.92,1134.96 L1901.24,1136.07 L1903.56,1137.09 L1905.89,1138.03 L1908.21,1138.89 L1910.53,1139.68 L1912.86,1140.4 L1915.18,1141.06 L1917.5,1141.67 L1919.83,1142.22 L1922.15,1142.71 L1924.47,1143.16 L1926.8,1143.57 L1929.12,1143.94 L1931.44,1144.27 L1933.77,1144.57 L1936.09,1144.84 L1938.41,1145.08 L1940.74,1145.29 L1943.06,1145.49 L1945.38,1145.66 L1947.71,1145.81 L1950.03,1145.94 L1952.35,1146.06 L1954.68,1146.17 L1957,1146.26 L1959.32,1146.35 L1961.65,1146.42 L1963.97,1146.48 L1966.29,1146.54 L1968.62,1146.59 L1970.94,1146.63 L1973.26,1146.67 L1975.59,1146.7 L1977.91,1146.73 L1980.23,1146.75 L1982.56,1146.77 L1984.88,1146.79 L1987.2,1146.81 L1989.53,1146.82 L1991.85,1146.83 L1994.17,1146.84 L1996.5,1146.85 L1998.82,1146.86 L2001.14,1146.87 L2003.47,1146.87 L2005.79,1146.88 L2008.11,1146.88 L2010.44,1146.88 L2012.76,1146.89 L2015.08,1146.89 L2017.41,1146.89 L2019.73,1146.89 L2022.05,1146.89 L2024.38,1146.89 L2026.7,1146.9" stroke="#8AACDC" stroke-width="7.8"/>
<path d="M1469.1,1146.9 L2026.7,1146.9 M1469.1,1146.9 L1471.42,1146.9 L1473.75,1146.9 L1476.07,1146.9 L1478.39,1146.9 L1480.72,1146.9 L1483.04,1146.9 L1485.36,1146.9 L1487.69,1146.9 L1490.01,1146.9 L1492.33,1146.9 L1494.66,1146.9 L1496.98,1146.9 L1499.3,1146.9 L1501.63,1146.9 L1503.95,1146.9 L1506.27,1146.9 L1508.6,1146.9 L1510.92,1146.9 L1513.24,1146.9 L1515.57,1146.9 L1517.89,1146.89 L1520.21,1146.89 L1522.54,1146.89 L1524.86,1146.89 L1527.18,1146.89 L1529.51,1146.88 L1531.83,1146.88 L1534.15,1146.87 L1536.48,1146.86 L1538.8,1146.85 L1541.12,1146.84 L1543.45,1146.83 L1545.77,1146.81 L1548.09,1146.8 L1550.42,1146.77 L1552.74,1146.74 L1555.06,1146.71 L1557.39,1146.67 L1559.71,1146.62 L1562.03,1146.56 L1564.36,1146.49 L1566.68,1146.41 L1569,1146.31 L1571.33,1146.2 L1573.65,1146.06 L1575.97,1145.9 L1578.3,1145.72 L1580.62,1145.51 L1582.94,1145.26 L1585.27,1144.98 L1587.59,1144.65 L1589.91,1144.28 L1592.24,1143.85 L1594.56,1143.37 L1596.88,1142.82 L1599.21,1142.2 L1601.53,1141.5 L1603.85,1140.72 L1606.18,1139.84 L1608.5,1138.87 L1610.82,1137.79 L1613.15,1136.6 L1615.47,1135.29 L1617.79,1133.85 L1620.12,1132.29 L1622.44,1130.58 L1624.76,1128.73 L1627.09,1126.73 L1629.41,1124.59 L1631.73,1122.29 L1634.06,1119.84 L1636.38,1117.23 L1638.7,1114.47 L1641.03,1111.56 L1643.35,1108.51 L1645.67,1105.33 L1648,1102.01 L1650.32,1098.57 L1652.64,1095.03 L1654.97,1091.39 L1657.29,1087.66 L1659.61,1083.87 L1661.94,1080.04 L1664.26,1076.17 L1666.58,1072.29 L1668.91,1068.41 L1671.23,1064.56 L1673.55,1060.76 L1675.88,1057.03 L1678.2,1053.37 L1680.52,1049.83 L1682.85,1046.4 L1685.17,1043.11 L1687.49,1039.96 L1689.82,1036.98 L1692.14,1034.18 L1694.46,1031.55 L1696.79,1029.11 L1699.11,1026.87 L1701.43,1024.82 L1703.76,1022.98 L1706.08,1021.35 L1708.4,1019.91 L1710.73,1018.67 L1713.05,1017.6 L1715.37,1016.69 L1717.7,1015.94 L1720.02,1015.31 L1722.34,1014.8 L1724.67,1014.38 L1726.99,1014.04 L1729.31,1013.76 L1731.64,1013.52 L1733.96,1013.3 L1736.28,1013.08 L1738.61,1012.85 L1740.93,1012.6 L1743.25,1012.31 L1745.58,1011.97 L1747.9,1011.58 L1750.22,1011.12 L1752.55,1010.6 L1754.87,1010.01 L1757.19,1009.35 L1759.52,1008.63 L1761.84,1007.86 L1764.16,1007.03 L1766.49,1006.15 L1768.81,1005.24 L1771.13,1004.31 L1773.46,1003.37 L1775.78,1002.43 L1778.1,1001.51 L1780.43,1000.62 L1782.75,999.77 L1785.07,998.99 L1787.4,998.28 L1789.72,997.66 L1792.04,997.14 L1794.37,996.74 L1796.69,996.46 L1799.01,996.32 L1801.34,996.32 L1803.66,996.48 L1805.98,996.8 L1808.31,997.33 L1810.63,998.09 L1812.95,999.07 L1815.28,1000.28 L1817.6,1001.72 L1819.92,1003.39 L1822.25,1005.27 L1824.57,1007.37 L1826.89,1009.67 L1829.22,1012.18 L1831.54,1014.87 L1833.86,1017.73 L1836.19,1020.76 L1838.51,1023.93 L1840.83,1027.24 L1843.16,1030.68 L1845.48,1034.22 L1847.8,1037.84 L1850.13,1041.55 L1852.45,1045.31 L1854.77,1049.12 L1857.1,1052.95 L1859.42,1056.81 L1861.74,1060.66 L1864.07,1064.5 L1866.39,1068.31 L1868.71,1072.08 L1871.04,1075.8 L1873.36,1079.46 L1875.68,1083.05 L1878.01,1086.56 L1880.33,1089.99 L1882.65,1093.31 L1884.98,1096.54 L1887.3,1099.66 L1889.62,1102.66 L1891.95,1105.56 L1894.27,1108.33 L1896.59,1110.98 L1898.92,1113.52 L1901.24,1115.93 L1903.56,1118.22 L1905.89,1120.39 L1908.21,1122.44 L1910.53,1124.37 L1912.86,1126.19 L1915.18,1127.9 L1917.5,1129.49 L1919.83,1130.99 L1922.15,1132.38 L1924.47,1133.67 L1926.8,1134.88 L1929.12,1135.99 L1931.44,1137.02 L1933.77,1137.96 L1936.09,1138.83 L1938.41,1139.63 L1940.74,1140.37 L1943.06,1141.04 L1945.38,1141.65 L1947.71,1142.2 L1950.03,1142.71 L1952.35,1143.16 L1954.68,1143.58 L1957,1143.95 L1959.32,1144.29 L1961.65,1144.59 L1963.97,1144.86 L1966.29,1145.1 L1968.62,1145.32 L1970.94,1145.51 L1973.26,1145.68 L1975.59,1145.84 L1977.91,1145.97 L1980.23,1146.09 L1982.56,1146.2 L1984.88,1146.29 L1987.2,1146.37 L1989.53,1146.44 L1991.85,1146.5 L1994.17,1146.56 L1996.5,1146.61 L1998.82,1146.65 L2001.14,1146.68 L2003.47,1146.72 L2005.79,1146.74 L2008.11,1146.77 L2010.44,1146.79 L2012.76,1146.8 L2015.08,1146.82 L2017.41,1146.83 L2019.73,1146.84 L2022.05,1146.85 L2024.38,1146.86 L2026.7,1146.86" stroke="#454B5C" stroke-width="7.8"/>
<path d="M1469.1,1146.9 L2026.7,1146.9 M1469.1,1146.4 L1471.42,1146.27 L1473.75,1146.12 L1476.07,1145.93 L1478.39,1145.71 L1480.72,1145.44 L1483.04,1145.11 L1485.36,1144.72 L1487.69,1144.26 L1490.01,1143.71 L1492.33,1143.07 L1494.66,1142.31 L1496.98,1141.42 L1499.3,1140.4 L1501.63,1139.21 L1503.95,1137.84 L1506.27,1136.27 L1508.6,1134.48 L1510.92,1132.45 L1513.24,1130.15 L1515.57,1127.57 L1517.89,1124.67 L1520.21,1121.45 L1522.54,1117.87 L1524.86,1113.91 L1527.18,1109.56 L1529.51,1104.81 L1531.83,1099.64 L1534.15,1094.03 L1536.48,1087.99 L1538.8,1081.51 L1541.12,1074.6 L1543.45,1067.25 L1545.77,1059.5 L1548.09,1051.35 L1550.42,1042.83 L1552.74,1033.97 L1555.06,1024.81 L1557.39,1015.39 L1559.71,1005.77 L1562.03,995.99 L1564.36,986.11 L1566.68,976.2 L1569,966.32 L1571.33,956.54 L1573.65,946.93 L1575.97,937.56 L1578.3,928.5 L1580.62,919.83 L1582.94,911.6 L1585.27,903.87 L1587.59,896.72 L1589.91,890.18 L1592.24,884.3 L1594.56,879.12 L1596.88,874.68 L1599.21,870.98 L1601.53,868.04 L1603.85,865.85 L1606.18,864.4 L1608.5,863.65 L1610.82,863.51 L1613.15,863.9 L1615.47,864.95 L1617.79,866.72 L1620.12,869.24 L1622.44,872.51 L1624.76,876.54 L1627.09,881.31 L1629.41,886.8 L1631.73,892.97 L1634.06,899.79 L1636.38,907.2 L1638.7,915.16 L1641.03,923.59 L1643.35,932.45 L1645.67,941.65 L1648,951.13 L1650.32,960.82 L1652.64,970.66 L1654.97,980.56 L1657.29,990.46 L1659.61,1000.31 L1661.94,1010.03 L1664.26,1019.57 L1666.58,1028.87 L1668.91,1037.91 L1671.23,1046.62 L1673.55,1054.98 L1675.88,1062.96 L1678.2,1070.54 L1680.52,1077.69 L1682.85,1084.42 L1685.17,1090.7 L1687.49,1096.55 L1689.82,1101.97 L1692.14,1106.95 L1694.46,1111.53 L1696.79,1115.7 L1699.11,1119.49 L1701.43,1122.91 L1703.76,1125.99 L1706.08,1128.74 L1708.4,1131.2 L1710.73,1133.38 L1713.05,1135.3 L1715.37,1136.99 L1717.7,1138.47 L1720.02,1139.75 L1722.34,1140.87 L1724.67,1141.83 L1726.99,1142.66 L1729.31,1143.36 L1731.64,1143.96 L1733.96,1144.47 L1736.28,1144.9 L1738.61,1145.26 L1740.93,1145.56 L1743.25,1145.81 L1745.58,1146.02 L1747.9,1146.19 L1750.22,1146.33 L1752.55,1146.44 L1754.87,1146.54 L1757.19,1146.61 L1759.52,1146.67 L1761.84,1146.72 L1764.16,1146.76 L1766.49,1146.79 L1768.81,1146.82 L1771.13,1146.83 L1773.46,1146.85 L1775.78,1146.86 L1778.1,1146.87 L1780.43,1146.88 L1782.75,1146.88 L1785.07,1146.89 L1787.4,1146.89 L1789.72,1146.89 L1792.04,1146.89 L1794.37,1146.9 L1796.69,1146.9 L1799.01,1146.9 L1801.34,1146.9 L1803.66,1146.9 L1805.98,1146.9 L1808.31,1146.9 L1810.63,1146.9 L1812.95,1146.9 L1815.28,1146.9 L1817.6,1146.9 L1819.92,1146.9 L1822.25,1146.9 L1824.57,1146.9 L1826.89,1146.9 L1829.22,1146.9 L1831.54,1146.9 L1833.86,1146.9 L1836.19,1146.9 L1838.51,1146.9 L1840.83,1146.9 L1843.16,1146.9 L1845.48,1146.9 L1847.8,1146.9 L1850.13,1146.9 L1852.45,1146.9 L1854.77,1146.9 L1857.1,1146.9 L1859.42,1146.9 L1861.74,1146.9 L1864.07,1146.9 L1866.39,1146.9 L1868.71,1146.9 L1871.04,1146.9 L1873.36,1146.9 L1875.68,1146.9 L1878.01,1146.9 L1880.33,1146.9 L1882.65,1146.9 L1884.98,1146.9 L1887.3,1146.9 L1889.62,1146.9 L1891.95,1146.9 L1894.27,1146.9 L1896.59,1146.9 L1898.92,1146.9 L1901.24,1146.9 L1903.56,1146.9 L1905.89,1146.9 L1908.21,1146.9 L1910.53,1146.9 L1912.86,1146.9 L1915.18,1146.9 L1917.5,1146.9 L1919.83,1146.9 L1922.15,1146.9 L1924.47,1146.9 L1926.8,1146.9 L1929.12,1146.9 L1931.44,1146.9 L1933.77,1146.9 L1936.09,1146.9 L1938.41,1146.9 L1940.74,1146.9 L1943.06,1146.9 L1945.38,1146.9 L1947.71,1146.9 L1950.03,1146.9 L1952.35,1146.9 L1954.68,1146.9 L1957,1146.9 L1959.32,1146.9 L1961.65,1146.9 L1963.97,1146.9 L1966.29,1146.9 L1968.62,1146.9 L1970.94,1146.9 L1973.26,1146.9 L1975.59,1146.9 L1977.91,1146.9 L1980.23,1146.9 L1982.56,1146.9 L1984.88,1146.9 L1987.2,1146.9 L1989.53,1146.9 L1991.85,1146.9 L1994.17,1146.9 L1996.5,1146.9 L1998.82,1146.9 L2001.14,1146.9 L2003.47,1146.9 L2005.79,1146.9 L2008.11,1146.9 L2010.44,1146.9 L2012.76,1146.9 L2015.08,1146.9 L2017.41,1146.9 L2019.73,1146.9 L2022.05,1146.9 L2024.38,1146.9 L2026.7,1146.9" stroke="#9BA3BB" stroke-width="7.8"/>
<path d="M1469.1,1146.9 L2026.7,1146.9 M1469.1,1146.44 L1471.42,1146.32 L1473.75,1146.18 L1476.07,1146 L1478.39,1145.79 L1480.72,1145.54 L1483.04,1145.23 L1485.36,1144.87 L1487.69,1144.43 L1490.01,1143.92 L1492.33,1143.31 L1494.66,1142.59 L1496.98,1141.76 L1499.3,1140.78 L1501.63,1139.65 L1503.95,1138.35 L1506.27,1136.86 L1508.6,1135.15 L1510.92,1133.2 L1513.24,1131 L1515.57,1128.52 L1517.89,1125.74 L1520.21,1122.63 L1522.54,1119.18 L1524.86,1115.36 L1527.18,1111.15 L1529.51,1106.54 L1531.83,1101.52 L1534.15,1096.06 L1536.48,1090.18 L1538.8,1083.85 L1541.12,1077.09 L1543.45,1069.89 L1545.77,1062.28 L1548.09,1054.26 L1550.42,1045.86 L1552.74,1037.12 L1555.06,1028.06 L1557.39,1018.72 L1559.71,1009.16 L1562.03,999.42 L1564.36,989.56 L1566.68,979.65 L1569,969.74 L1571.33,959.91 L1573.65,950.23 L1575.97,940.76 L1578.3,931.57 L1580.62,922.74 L1582.94,914.34 L1585.27,906.42 L1587.59,899.05 L1589.91,892.28 L1592.24,886.15 L1594.56,880.72 L1596.88,876 L1599.21,872.03 L1601.53,868.81 L1603.85,866.36 L1606.18,864.64 L1608.5,863.65 L1610.82,863.3 L1613.15,863.49 L1615.47,864.29 L1617.79,865.8 L1620.12,868.05 L1622.44,871.05 L1624.76,874.81 L1627.09,879.32 L1629.41,884.56 L1631.73,890.49 L1634.06,897.09 L1636.38,904.3 L1638.7,912.07 L1641.03,920.35 L1643.35,929.06 L1645.67,938.15 L1648,947.55 L1650.32,957.18 L1652.64,966.98 L1654.97,976.87 L1657.29,986.79 L1659.61,996.67 L1661.94,1006.45 L1664.26,1016.06 L1666.58,1025.47 L1668.91,1034.61 L1671.23,1043.45 L1673.55,1051.95 L1675.88,1060.07 L1678.2,1067.8 L1680.52,1075.12 L1682.85,1082 L1685.17,1088.45 L1687.49,1094.46 L1689.82,1100.03 L1692.14,1105.18 L1694.46,1109.9 L1696.79,1114.22 L1699.11,1118.14 L1701.43,1121.7 L1703.76,1124.9 L1706.08,1127.77 L1708.4,1130.34 L1710.73,1132.61 L1713.05,1134.63 L1715.37,1136.4 L1717.7,1137.95 L1720.02,1139.31 L1722.34,1140.48 L1724.67,1141.5 L1726.99,1142.37 L1729.31,1143.12 L1731.64,1143.76 L1733.96,1144.3 L1736.28,1144.75 L1738.61,1145.14 L1740.93,1145.46 L1743.25,1145.73 L1745.58,1145.95 L1747.9,1146.13 L1750.22,1146.28 L1752.55,1146.4 L1754.87,1146.51 L1757.19,1146.59 L1759.52,1146.65 L1761.84,1146.7 L1764.16,1146.75 L1766.49,1146.78 L1768.81,1146.81 L1771.13,1146.83 L1773.46,1146.84 L1775.78,1146.86 L1778.1,1146.87 L1780.43,1146.88 L1782.75,1146.88 L1785.07,1146.89 L1787.4,1146.89 L1789.72,1146.89 L1792.04,1146.89 L1794.37,1146.9 L1796.69,1146.9 L1799.01,1146.9 L1801.34,1146.9 L1803.66,1146.9 L1805.98,1146.9 L1808.31,1146.9 L1810.63,1146.9 L1812.95,1146.9 L1815.28,1146.9 L1817.6,1146.9 L1819.92,1146.9 L1822.25,1146.9 L1824.57,1146.9 L1826.89,1146.9 L1829.22,1146.9 L1831.54,1146.9 L1833.86,1146.9 L1836.19,1146.9 L1838.51,1146.9 L1840.83,1146.9 L1843.16,1146.9 L1845.48,1146.9 L1847.8,1146.9 L1850.13,1146.9 L1852.45,1146.9 L1854.77,1146.9 L1857.1,1146.9 L1859.42,1146.9 L1861.74,1146.9 L1864.07,1146.9 L1866.39,1146.9 L1868.71,1146.9 L1871.04,1146.9 L1873.36,1146.9 L1875.68,1146.9 L1878.01,1146.9 L1880.33,1146.9 L1882.65,1146.9 L1884.98,1146.9 L1887.3,1146.9 L1889.62,1146.9 L1891.95,1146.9 L1894.27,1146.9 L1896.59,1146.9 L1898.92,1146.9 L1901.24,1146.9 L1903.56,1146.9 L1905.89,1146.9 L1908.21,1146.9 L1910.53,1146.9 L1912.86,1146.9 L1915.18,1146.9 L1917.5,1146.9 L1919.83,1146.9 L1922.15,1146.9 L1924.47,1146.9 L1926.8,1146.9 L1929.12,1146.9 L1931.44,1146.9 L1933.77,1146.9 L1936.09,1146.9 L1938.41,1146.9 L1940.74,1146.9 L1943.06,1146.9 L1945.38,1146.9 L1947.71,1146.9 L1950.03,1146.9 L1952.35,1146.9 L1954.68,1146.9 L1957,1146.9 L1959.32,1146.9 L1961.65,1146.9 L1963.97,1146.9 L1966.29,1146.9 L1968.62,1146.9 L1970.94,1146.9 L1973.26,1146.9 L1975.59,1146.9 L1977.91,1146.9 L1980.23,1146.9 L1982.56,1146.9 L1984.88,1146.9 L1987.2,1146.9 L1989.53,1146.9 L1991.85,1146.9 L1994.17,1146.9 L1996.5,1146.9 L1998.82,1146.9 L2001.14,1146.9 L2003.47,1146.9 L2005.79,1146.9 L2008.11,1146.9 L2010.44,1146.9 L2012.76,1146.9 L2015.08,1146.9 L2017.41,1146.9 L2019.73,1146.9 L2022.05,1146.9 L2024.38,1146.9 L2026.7,1146.9" stroke="#DB9DB0" stroke-width="7.8"/>
<path d="M1469.1,1146.9 L2026.7,1146.9 M1469.1,1146.48 L1471.42,1146.38 L1473.75,1146.25 L1476.07,1146.09 L1478.39,1145.9 L1480.72,1145.66 L1483.04,1145.38 L1485.36,1145.05 L1487.69,1144.65 L1490.01,1144.17 L1492.33,1143.61 L1494.66,1142.95 L1496.98,1142.17 L1499.3,1141.26 L1501.63,1140.21 L1503.95,1138.99 L1506.27,1137.59 L1508.6,1135.98 L1510.92,1134.15 L1513.24,1132.08 L1515.57,1129.73 L1517.89,1127.09 L1520.21,1124.14 L1522.54,1120.85 L1524.86,1117.21 L1527.18,1113.18 L1529.51,1108.76 L1531.83,1103.94 L1534.15,1098.68 L1536.48,1093 L1538.8,1086.88 L1541.12,1080.32 L1543.45,1073.32 L1545.77,1065.9 L1548.09,1058.06 L1550.42,1049.84 L1552.74,1041.25 L1555.06,1032.32 L1557.39,1023.1 L1559.71,1013.63 L1562.03,1003.96 L1564.36,994.14 L1566.68,984.24 L1569,974.31 L1571.33,964.42 L1573.65,954.65 L1575.97,945.06 L1578.3,935.72 L1580.62,926.7 L1582.94,918.08 L1585.27,909.91 L1587.59,902.26 L1589.91,895.18 L1592.24,888.74 L1594.56,882.96 L1596.88,877.89 L1599.21,873.55 L1601.53,869.97 L1603.85,867.15 L1606.18,865.08 L1608.5,863.74 L1610.82,863.09 L1613.15,863.03 L1615.47,863.52 L1617.79,864.69 L1620.12,866.58 L1622.44,869.22 L1624.76,872.62 L1627.09,876.78 L1629.41,881.68 L1631.73,887.29 L1634.06,893.58 L1636.38,900.51 L1638.7,908.02 L1641.03,916.07 L1643.35,924.59 L1645.67,933.52 L1648,942.79 L1650.32,952.33 L1652.64,962.06 L1654.97,971.93 L1657.29,981.85 L1659.61,991.77 L1661.94,1001.61 L1664.26,1011.33 L1666.58,1020.85 L1668.91,1030.13 L1671.23,1039.13 L1673.55,1047.81 L1675.88,1056.12 L1678.2,1064.05 L1680.52,1071.58 L1682.85,1078.68 L1685.17,1085.34 L1687.49,1091.57 L1689.82,1097.36 L1692.14,1102.71 L1694.46,1107.64 L1696.79,1112.16 L1699.11,1116.28 L1701.43,1120.01 L1703.76,1123.38 L1706.08,1126.41 L1708.4,1129.12 L1710.73,1131.54 L1713.05,1133.68 L1715.37,1135.57 L1717.7,1137.22 L1720.02,1138.67 L1722.34,1139.93 L1724.67,1141.02 L1726.99,1141.96 L1729.31,1142.77 L1731.64,1143.46 L1733.96,1144.05 L1736.28,1144.54 L1738.61,1144.96 L1740.93,1145.31 L1743.25,1145.6 L1745.58,1145.85 L1747.9,1146.05 L1750.22,1146.21 L1752.55,1146.35 L1754.87,1146.46 L1757.19,1146.55 L1759.52,1146.62 L1761.84,1146.68 L1764.16,1146.73 L1766.49,1146.77 L1768.81,1146.8 L1771.13,1146.82 L1773.46,1146.84 L1775.78,1146.85 L1778.1,1146.86 L1780.43,1146.87 L1782.75,1146.88 L1785.07,1146.88 L1787.4,1146.89 L1789.72,1146.89 L1792.04,1146.89 L1794.37,1146.89 L1796.69,1146.9 L1799.01,1146.9 L1801.34,1146.9 L1803.66,1146.9 L1805.98,1146.9 L1808.31,1146.9 L1810.63,1146.9 L1812.95,1146.9 L1815.28,1146.9 L1817.6,1146.9 L1819.92,1146.9 L1822.25,1146.9 L1824.57,1146.9 L1826.89,1146.9 L1829.22,1146.9 L1831.54,1146.9 L1833.86,1146.9 L1836.19,1146.9 L1838.51,1146.9 L1840.83,1146.9 L1843.16,1146.9 L1845.48,1146.9 L1847.8,1146.9 L1850.13,1146.9 L1852.45,1146.9 L1854.77,1146.9 L1857.1,1146.9 L1859.42,1146.9 L1861.74,1146.9 L1864.07,1146.9 L1866.39,1146.9 L1868.71,1146.9 L1871.04,1146.9 L1873.36,1146.9 L1875.68,1146.9 L1878.01,1146.9 L1880.33,1146.9 L1882.65,1146.9 L1884.98,1146.9 L1887.3,1146.9 L1889.62,1146.9 L1891.95,1146.9 L1894.27,1146.9 L1896.59,1146.9 L1898.92,1146.9 L1901.24,1146.9 L1903.56,1146.9 L1905.89,1146.9 L1908.21,1146.9 L1910.53,1146.9 L1912.86,1146.9 L1915.18,1146.9 L1917.5,1146.9 L1919.83,1146.9 L1922.15,1146.9 L1924.47,1146.9 L1926.8,1146.9 L1929.12,1146.9 L1931.44,1146.9 L1933.77,1146.9 L1936.09,1146.9 L1938.41,1146.9 L1940.74,1146.9 L1943.06,1146.9 L1945.38,1146.9 L1947.71,1146.9 L1950.03,1146.9 L1952.35,1146.9 L1954.68,1146.9 L1957,1146.9 L1959.32,1146.9 L1961.65,1146.9 L1963.97,1146.9 L1966.29,1146.9 L1968.62,1146.9 L1970.94,1146.9 L1973.26,1146.9 L1975.59,1146.9 L1977.91,1146.9 L1980.23,1146.9 L1982.56,1146.9 L1984.88,1146.9 L1987.2,1146.9 L1989.53,1146.9 L1991.85,1146.9 L1994.17,1146.9 L1996.5,1146.9 L1998.82,1146.9 L2001.14,1146.9 L2003.47,1146.9 L2005.79,1146.9 L2008.11,1146.9 L2010.44,1146.9 L2012.76,1146.9 L2015.08,1146.9 L2017.41,1146.9 L2019.73,1146.9 L2022.05,1146.9 L2024.38,1146.9 L2026.7,1146.9" stroke="#A56E85" stroke-width="7.8"/>
<path d="M1469.1,1146.9 L2026.7,1146.9 M1469.1,1146.87 L1471.42,1146.86 L1473.75,1146.85 L1476.07,1146.83 L1478.39,1146.81 L1480.72,1146.78 L1483.04,1146.75 L1485.36,1146.71 L1487.69,1146.66 L1490.01,1146.59 L1492.33,1146.51 L1494.66,1146.41 L1496.98,1146.28 L1499.3,1146.12 L1501.63,1145.93 L1503.95,1145.7 L1506.27,1145.42 L1508.6,1145.09 L1510.92,1144.68 L1513.24,1144.2 L1515.57,1143.62 L1517.89,1142.95 L1520.21,1142.15 L1522.54,1141.21 L1524.86,1140.12 L1527.18,1138.86 L1529.51,1137.4 L1531.83,1135.72 L1534.15,1133.81 L1536.48,1131.63 L1538.8,1129.16 L1541.12,1126.37 L1543.45,1123.25 L1545.77,1119.77 L1548.09,1115.91 L1550.42,1111.64 L1552.74,1106.95 L1555.06,1101.81 L1557.39,1096.23 L1559.71,1090.18 L1562.03,1083.67 L1564.36,1076.69 L1566.68,1069.25 L1569,1061.37 L1571.33,1053.05 L1573.65,1044.34 L1575.97,1035.24 L1578.3,1025.82 L1580.62,1016.1 L1582.94,1006.15 L1585.27,996.02 L1587.59,985.76 L1589.91,975.46 L1592.24,965.17 L1594.56,954.98 L1596.88,944.95 L1599.21,935.17 L1601.53,925.72 L1603.85,916.66 L1606.18,908.07 L1608.5,900.02 L1610.82,892.57 L1613.15,885.77 L1615.47,879.69 L1617.79,874.35 L1620.12,869.79 L1622.44,866.02 L1624.76,863.06 L1627.09,860.91 L1629.41,859.53 L1631.73,858.88 L1634.06,858.85 L1636.38,859.41 L1638.7,860.7 L1641.03,862.76 L1643.35,865.62 L1645.67,869.29 L1648,873.76 L1650.32,879.01 L1652.64,885.01 L1654.97,891.72 L1657.29,899.09 L1659.61,907.07 L1661.94,915.6 L1664.26,924.61 L1666.58,934.02 L1668.91,943.76 L1671.23,953.76 L1673.55,963.94 L1675.88,974.22 L1678.2,984.53 L1680.52,994.79 L1682.85,1004.94 L1685.17,1014.92 L1687.49,1024.67 L1689.82,1034.13 L1692.14,1043.26 L1694.46,1052.03 L1696.79,1060.39 L1699.11,1068.33 L1701.43,1075.82 L1703.76,1082.86 L1706.08,1089.43 L1708.4,1095.53 L1710.73,1101.17 L1713.05,1106.35 L1715.37,1111.1 L1717.7,1115.42 L1720.02,1119.33 L1722.34,1122.86 L1724.67,1126.02 L1726.99,1128.84 L1729.31,1131.34 L1731.64,1133.56 L1733.96,1135.51 L1736.28,1137.21 L1738.61,1138.69 L1740.93,1139.98 L1743.25,1141.09 L1745.58,1142.04 L1747.9,1142.86 L1750.22,1143.55 L1752.55,1144.13 L1754.87,1144.63 L1757.19,1145.04 L1759.52,1145.39 L1761.84,1145.67 L1764.16,1145.91 L1766.49,1146.1 L1768.81,1146.26 L1771.13,1146.39 L1773.46,1146.5 L1775.78,1146.58 L1778.1,1146.65 L1780.43,1146.7 L1782.75,1146.75 L1785.07,1146.78 L1787.4,1146.81 L1789.72,1146.83 L1792.04,1146.85 L1794.37,1146.86 L1796.69,1146.87 L1799.01,1146.88 L1801.34,1146.88 L1803.66,1146.89 L1805.98,1146.89 L1808.31,1146.89 L1810.63,1146.89 L1812.95,1146.9 L1815.28,1146.9 L1817.6,1146.9 L1819.92,1146.9 L1822.25,1146.9 L1824.57,1146.9 L1826.89,1146.9 L1829.22,1146.9 L1831.54,1146.9 L1833.86,1146.9 L1836.19,1146.9 L1838.51,1146.9 L1840.83,1146.9 L1843.16,1146.9 L1845.48,1146.9 L1847.8,1146.9 L1850.13,1146.9 L1852.45,1146.9 L1854.77,1146.9 L1857.1,1146.9 L1859.42,1146.9 L1861.74,1146.9 L1864.07,1146.9 L1866.39,1146.9 L1868.71,1146.9 L1871.04,1146.9 L1873.36,1146.9 L1875.68,1146.9 L1878.01,1146.9 L1880.33,1146.9 L1882.65,1146.9 L1884.98,1146.9 L1887.3,1146.9 L1889.62,1146.9 L1891.95,1146.9 L1894.27,1146.9 L1896.59,1146.9 L1898.92,1146.9 L1901.24,1146.9 L1903.56,1146.9 L1905.89,1146.9 L1908.21,1146.9 L1910.53,1146.9 L1912.86,1146.9 L1915.18,1146.9 L1917.5,1146.9 L1919.83,1146.9 L1922.15,1146.9 L1924.47,1146.9 L1926.8,1146.9 L1929.12,1146.9 L1931.44,1146.9 L1933.77,1146.9 L1936.09,1146.9 L1938.41,1146.9 L1940.74,1146.9 L1943.06,1146.9 L1945.38,1146.9 L1947.71,1146.9 L1950.03,1146.9 L1952.35,1146.9 L1954.68,1146.9 L1957,1146.9 L1959.32,1146.9 L1961.65,1146.9 L1963.97,1146.9 L1966.29,1146.9 L1968.62,1146.9 L1970.94,1146.9 L1973.26,1146.9 L1975.59,1146.9 L1977.91,1146.9 L1980.23,1146.9 L1982.56,1146.9 L1984.88,1146.9 L1987.2,1146.9 L1989.53,1146.9 L1991.85,1146.9 L1994.17,1146.9 L1996.5,1146.9 L1998.82,1146.9 L2001.14,1146.9 L2003.47,1146.9 L2005.79,1146.9 L2008.11,1146.9 L2010.44,1146.9 L2012.76,1146.9 L2015.08,1146.9 L2017.41,1146.9 L2019.73,1146.9 L2022.05,1146.9 L2024.38,1146.9 L2026.7,1146.9" stroke="#C69C33" stroke-width="7.8"/>
</g>
<g stroke="#0c0c0c" stroke-width="3.5" fill="none" stroke-linecap="butt">
<rect x="1469.10" y="821.30" width="557.60" height="325.90"/>
<line x1="1469.10" y1="1147.20" x2="1469.10" y2="1154.90"/>
<line x1="1538.80" y1="1147.20" x2="1538.80" y2="1154.90"/>
<line x1="1608.50" y1="1147.20" x2="1608.50" y2="1154.90"/>
<line x1="1678.20" y1="1147.20" x2="1678.20" y2="1154.90"/>
<line x1="1747.90" y1="1147.20" x2="1747.90" y2="1154.90"/>
<line x1="1817.60" y1="1147.20" x2="1817.60" y2="1154.90"/>
<line x1="1887.30" y1="1147.20" x2="1887.30" y2="1154.90"/>
<line x1="1957.00" y1="1147.20" x2="1957.00" y2="1154.90"/>
<line x1="2026.70" y1="1147.20" x2="2026.70" y2="1154.90"/>
<line x1="1461.40" y1="821.30" x2="1469.10" y2="821.30"/>
<line x1="1461.40" y1="929.93" x2="1469.10" y2="929.93"/>
<line x1="1461.40" y1="1038.57" x2="1469.10" y2="1038.57"/>
<line x1="1461.40" y1="1147.20" x2="1469.10" y2="1147.20"/>
</g>
<g font-family="'Liberation Sans', Arial, sans-serif" font-size="28.8" fill="#1c1a1b">
<text x="1461.67" y="1183.40">0</text>
<text x="1519.38" y="1184.60">0.5</text>
<text x="1589.44" y="1184.60">1.0</text>
<text x="1657.98" y="1184.60">1.5</text>
<text x="1730.70" y="1184.60">2.0</text>
<text x="1800.14" y="1184.60">2.5</text>
<text x="1870.68" y="1184.60">3.0</text>
<text x="1940.02" y="1184.60">3.5</text>
<text x="2009.90" y="1184.60">4.0</text>
<text x="1417.52" y="834.20">1.5</text>
<text x="1417.45" y="938.00">1.0</text>
<text x="1417.52" y="1047.00">0.5</text>
<text x="1433.20" y="1154.80">0</text>
</g>
<text x="1487.23" y="868.90" font-family="'Liberation Sans', Arial, sans-serif" font-weight="bold" font-size="33.4" fill="#1c1a1b">(i)</text>
</g>
<text transform="translate(47.6,368.83) rotate(-90)" font-family="'Liberation Sans', Arial, sans-serif" font-size="41.6" fill="#1c1a1b">Relative probability</text>
<text transform="translate(47.6,756.13) rotate(-90)" font-family="'Liberation Sans', Arial, sans-serif" font-size="41.6" fill="#1c1a1b">Relative probability</text>
<text transform="translate(47.6,1155.03) rotate(-90)" font-family="'Liberation Sans', Arial, sans-serif" font-size="41.6" fill="#1c1a1b">Relative probability</text>
<text x="287.38" y="1220.6" font-family="'Liberation Sans', Arial, sans-serif" font-size="32.0" fill="#1c1a1b">Temperature (°C)</text>
<text x="968.46" y="1220.6" font-family="'Liberation Sans', Arial, sans-serif" font-size="32.0" fill="#1c1a1b">Pressure (kbar)</text>
<text x="1648.87" y="1223.1" font-family="'Liberation Sans', Arial, sans-serif" font-size="33.1" fill="#1c1a1b">Melt H<tspan font-size="27.1" dy="-2.8" dx="0.8">₂</tspan><tspan dy="2.8" dx="0.6">O</tspan><tspan letter-spacing="0.55" dx="0.8"> (wt.%)</tspan></text>
<rect x="437.90" y="46.60" width="241.80" height="117.80" rx="4" ry="4" fill="#fff" fill-opacity="0.92" stroke="#444" stroke-width="1.8"/>
<rect x="444.00" y="52.80" width="31.80" height="12.1" fill="#5067B5"/>
<text x="486.87" y="63.20" font-family="'Liberation Sans', Arial, sans-serif" font-weight="bold" font-size="14.5" fill="#1c1a1b">Type1 core</text>
<rect x="444.00" y="76.00" width="31.80" height="12.1" fill="#454858"/>
<text x="486.87" y="85.50" font-family="'Liberation Sans', Arial, sans-serif" font-weight="bold" font-size="14.5" fill="#1c1a1b">Type1 mantle</text>
<rect x="444.00" y="99.70" width="31.80" height="12.1" fill="#A0A3B9"/>
<text x="486.87" y="108.80" font-family="'Liberation Sans', Arial, sans-serif" font-weight="bold" font-size="14.5" fill="#1c1a1b">Type1 rim</text>
<rect x="444.00" y="122.30" width="31.80" height="12.1" fill="#AC5366"/>
<text x="486.07" y="132.30" font-family="'Liberation Sans', Arial, sans-serif" font-weight="bold" font-size="14.5" fill="#1c1a1b">NLDL Type1 core &amp; mantle</text>
<rect x="444.00" y="144.90" width="31.80" height="12.1" fill="#E87D86"/>
<text x="486.07" y="153.50" font-family="'Liberation Sans', Arial, sans-serif" font-weight="bold" font-size="14.5" fill="#1c1a1b">NLDL Type1 rim</text>
<rect x="446.00" y="440.60" width="235.00" height="114.10" rx="4" ry="4" fill="#fff" fill-opacity="0.92" stroke="#444" stroke-width="1.8"/>
<rect x="452.90" y="450.50" width="39.30" height="12.1" fill="#CC6730"/>
<text x="499.72" y="460.20" font-family="'Liberation Sans', Arial, sans-serif" font-weight="bold" font-size="14.5" fill="#1c1a1b">Type2 core &amp; mantle</text>
<rect x="452.90" y="491.50" width="39.30" height="12.1" fill="#69B3A4"/>
<text x="499.72" y="501.50" font-family="'Liberation Sans', Arial, sans-serif" font-weight="bold" font-size="14.5" fill="#1c1a1b">Type2 rim</text>
<rect x="452.90" y="532.60" width="39.30" height="12.1" fill="#B8E6DC"/>
<text x="498.92" y="542.30" font-family="'Liberation Sans', Arial, sans-serif" font-weight="bold" font-size="14.5" fill="#1c1a1b">NLDL Type2 mantle &amp; rim</text>
<rect x="446.10" y="829.80" width="230.90" height="81.10" rx="4" ry="4" fill="#fff" fill-opacity="0.92" stroke="#444" stroke-width="1.8"/>
<rect x="454.00" y="843.30" width="54.80" height="12.1" fill="#8AACDC"/>
<text x="526.82" y="853.80" font-family="'Liberation Sans', Arial, sans-serif" font-weight="bold" font-size="14.5" fill="#1c1a1b">Type3 core &amp; mantle</text>
<rect x="454.00" y="885.00" width="54.80" height="12.1" fill="#454B5C"/>
<text x="526.82" y="894.40" font-family="'Liberation Sans', Arial, sans-serif" font-weight="bold" font-size="14.5" fill="#1c1a1b">Type3 rim</text>
<rect x="1748.10" y="46.10" width="269.10" height="291.90" rx="4" ry="4" fill="#fff" fill-opacity="0.92" stroke="#444" stroke-width="1.8"/>
<rect x="1754.30" y="55.10" width="31.00" height="12.1" fill="#5067B5"/>
<text x="1799.92" y="65.60" font-family="'Liberation Sans', Arial, sans-serif" font-weight="bold" font-size="14.5" fill="#1c1a1b">Type1 cpx core</text>
<rect x="1754.30" y="82.60" width="31.00" height="12.1" fill="#454858"/>
<text x="1799.92" y="91.90" font-family="'Liberation Sans', Arial, sans-serif" font-weight="bold" font-size="14.5" fill="#1c1a1b">Type1 cpx mantle</text>
<rect x="1754.30" y="110.30" width="31.00" height="12.1" fill="#A0A3B9"/>
<text x="1799.92" y="119.50" font-family="'Liberation Sans', Arial, sans-serif" font-weight="bold" font-size="14.5" fill="#1c1a1b">Type1 cpx rim</text>
<rect x="1754.30" y="136.00" width="31.00" height="12.1" fill="#AC5366"/>
<text x="1799.12" y="146.10" font-family="'Liberation Sans', Arial, sans-serif" font-weight="bold" font-size="14.5" fill="#1c1a1b">NLDL Type1 cpx core &amp; mantle</text>
<rect x="1754.30" y="161.10" width="31.00" height="12.1" fill="#E87D86"/>
<text x="1799.12" y="171.70" font-family="'Liberation Sans', Arial, sans-serif" font-weight="bold" font-size="14.5" fill="#1c1a1b">NLDL Type1 cpx rim</text>
<rect x="1754.30" y="189.40" width="31.00" height="12.1" fill="#5A8785"/>
<text x="1799.92" y="199.10" font-family="'Liberation Sans', Arial, sans-serif" font-weight="bold" font-size="14.5" fill="#1c1a1b">Type1 pl core</text>
<rect x="1754.30" y="216.00" width="31.00" height="12.1" fill="#EAD5A8"/>
<text x="1799.92" y="225.40" font-family="'Liberation Sans', Arial, sans-serif" font-weight="bold" font-size="14.5" fill="#1c1a1b">Type1 pl mantle</text>
<rect x="1754.30" y="241.30" width="31.00" height="12.1" fill="#B3C3E8"/>
<text x="1799.92" y="252.10" font-family="'Liberation Sans', Arial, sans-serif" font-weight="bold" font-size="14.5" fill="#1c1a1b">Type1 pl rim</text>
<rect x="1754.30" y="269.90" width="31.00" height="12.1" fill="#C69C33"/>
<text x="1799.12" y="279.20" font-family="'Liberation Sans', Arial, sans-serif" font-weight="bold" font-size="14.5" fill="#1c1a1b">NLDL Type1 pl core</text>
<rect x="1754.30" y="295.90" width="31.00" height="12.1" fill="#DCF0EF"/>
<text x="1799.12" y="305.90" font-family="'Liberation Sans', Arial, sans-serif" font-weight="bold" font-size="14.5" fill="#1c1a1b">NLDL Type1 pl mantle</text>
<rect x="1754.30" y="320.20" width="31.00" height="12.1" fill="#82CBB2"/>
<text x="1799.92" y="332.60" font-family="'Liberation Sans', Arial, sans-serif" font-weight="bold" font-size="14.5" fill="#1c1a1b">NLDL Type1 pl rim</text>
<rect x="1791.80" y="437.90" width="225.00" height="247.70" rx="4" ry="4" fill="#fff" fill-opacity="0.92" stroke="#444" stroke-width="1.8"/>
<rect x="1798.60" y="448.50" width="31.00" height="12.1" fill="#CC6730"/>
<text x="1844.62" y="459.90" font-family="'Liberation Sans', Arial, sans-serif" font-weight="bold" font-size="14.5" fill="#1c1a1b">Type2 cpx core &amp; mantle</text>
<rect x="1798.60" y="485.00" width="31.00" height="12.1" fill="#69B3A4"/>
<text x="1844.62" y="494.00" font-family="'Liberation Sans', Arial, sans-serif" font-weight="bold" font-size="14.5" fill="#1c1a1b">Type2 cpx rim</text>
<rect x="1798.60" y="520.30" width="31.00" height="12.1" fill="#B8E6DC"/>
<text x="1843.82" y="529.90" font-family="'Liberation Sans', Arial, sans-serif" font-weight="bold" font-size="14.5" fill="#1c1a1b">NLDL Type2 cpx rim</text>
<rect x="1798.60" y="555.70" width="31.00" height="12.1" fill="#4D433E"/>
<text x="1844.62" y="565.80" font-family="'Liberation Sans', Arial, sans-serif" font-weight="bold" font-size="14.5" fill="#1c1a1b">Type2 pl core</text>
<rect x="1798.60" y="592.30" width="31.00" height="12.1" fill="#B5A59F"/>
<text x="1843.22" y="601.20" font-family="'Liberation Sans', Arial, sans-serif" font-weight="bold" font-size="14.5" fill="#1c1a1b">Type2 pl mantle</text>
<rect x="1798.60" y="626.80" width="31.00" height="12.1" fill="#5168B6"/>
<text x="1844.62" y="636.40" font-family="'Liberation Sans', Arial, sans-serif" font-weight="bold" font-size="14.5" fill="#1c1a1b">Type2 pl rim</text>
<rect x="1798.60" y="662.20" width="31.00" height="12.1" fill="#2D6B3C"/>
<text x="1843.82" y="674.10" font-family="'Liberation Sans', Arial, sans-serif" font-weight="bold" font-size="14.5" fill="#1c1a1b">NLDL Type2 pl</text>
<rect x="1800.40" y="824.90" width="216.50" height="172.00" rx="4" ry="4" fill="#fff" fill-opacity="0.92" stroke="#444" stroke-width="1.8"/>
<rect x="1806.20" y="829.10" width="31.00" height="11.8" fill="#8AACDC"/>
<text x="1845.32" y="838.80" font-family="'Liberation Sans', Arial, sans-serif" font-weight="bold" font-size="14.5" fill="#1c1a1b">Type3 cpx core &amp; mantle</text>
<rect x="1806.20" y="861.20" width="31.00" height="11.8" fill="#454B5C"/>
<text x="1845.32" y="870.00" font-family="'Liberation Sans', Arial, sans-serif" font-weight="bold" font-size="14.5" fill="#1c1a1b">Type3 cpx rim</text>
<rect x="1806.20" y="889.00" width="31.00" height="11.8" fill="#9BA3BB"/>
<text x="1845.32" y="898.40" font-family="'Liberation Sans', Arial, sans-serif" font-weight="bold" font-size="14.5" fill="#1c1a1b">Type3 pl core</text>
<rect x="1806.20" y="917.70" width="31.00" height="11.8" fill="#DB9DB0"/>
<text x="1845.32" y="927.30" font-family="'Liberation Sans', Arial, sans-serif" font-weight="bold" font-size="14.5" fill="#1c1a1b">Type3 pl mantle</text>
<rect x="1806.20" y="949.90" width="31.00" height="11.8" fill="#A56E85"/>
<text x="1845.32" y="957.80" font-family="'Liberation Sans', Arial, sans-serif" font-weight="bold" font-size="14.5" fill="#1c1a1b">Type3 pl rim</text>
<rect x="1806.20" y="977.50" width="31.00" height="11.8" fill="#C69C33"/>
<text x="1844.52" y="987.20" font-family="'Liberation Sans', Arial, sans-serif" font-weight="bold" font-size="14.5" fill="#1c1a1b">NLDL Type3 pl</text>
</svg>
</body></html>
